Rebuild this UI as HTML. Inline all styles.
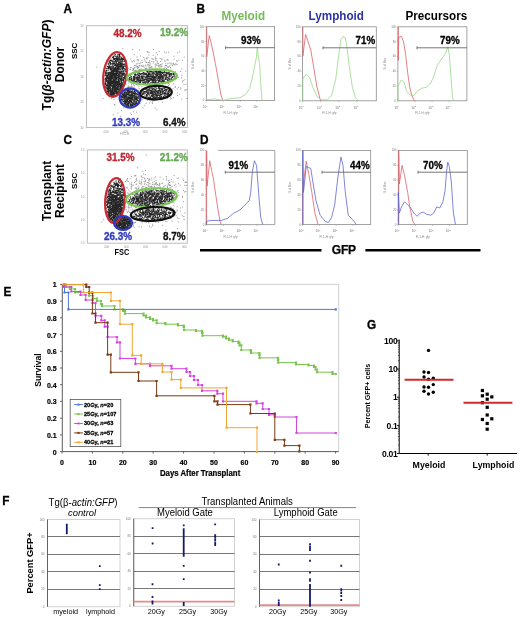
<!DOCTYPE html>
<html><head><meta charset="utf-8"><style>
html,body{margin:0;padding:0;background:#fff;width:520px;height:625px;overflow:hidden}
svg{display:block;filter:blur(0.3px)}
text{font-family:"Liberation Sans",sans-serif}
</style></head><body>
<svg width="520" height="625" viewBox="0 0 520 625">
<text transform="translate(63.6,13.4) scale(1,1.1)" font-size="11.8" font-weight="bold" font-style="normal" fill="#000" text-anchor="start" stroke="#000" stroke-width="0.3" >A</text>
<text transform="translate(196.6,13.2) scale(1,1.1)" font-size="11.8" font-weight="bold" font-style="normal" fill="#000" text-anchor="start" stroke="#000" stroke-width="0.3" >B</text>
<text transform="translate(63.4,144) scale(1,1.1)" font-size="11.8" font-weight="bold" font-style="normal" fill="#000" text-anchor="start" stroke="#000" stroke-width="0.3" >C</text>
<text transform="translate(200,143.6) scale(1,1.1)" font-size="11.8" font-weight="bold" font-style="normal" fill="#000" text-anchor="start" stroke="#000" stroke-width="0.3" >D</text>
<text transform="translate(3.4,296.2) scale(1,1.1)" font-size="11.8" font-weight="bold" font-style="normal" fill="#000" text-anchor="start" stroke="#000" stroke-width="0.3" >E</text>
<text transform="translate(2.3,504.6) scale(1,1.1)" font-size="11.8" font-weight="bold" font-style="normal" fill="#000" text-anchor="start" stroke="#000" stroke-width="0.3" >F</text>
<text transform="translate(367,329.3) scale(1,1.1)" font-size="11.8" font-weight="bold" font-style="normal" fill="#000" text-anchor="start" stroke="#000" stroke-width="0.3" >G</text>
<g>
<text x="0" y="0" transform="translate(50.5,65) rotate(-90)" font-size="12" font-weight="bold" font-style="normal" fill="#000" text-anchor="middle">Tg(<tspan font-style="italic">β-actin:GFP</tspan>)</text>
<text x="0" y="0" transform="translate(64.3,64.5) rotate(-90)" font-size="12" font-weight="bold" font-style="normal" fill="#000" text-anchor="middle">Donor</text>
<text x="0" y="0" transform="translate(50.5,191) rotate(-90)" font-size="12" font-weight="bold" font-style="normal" fill="#000" text-anchor="middle">Transplant</text>
<text x="0" y="0" transform="translate(64.3,191) rotate(-90)" font-size="12" font-weight="bold" font-style="normal" fill="#000" text-anchor="middle">Recipient</text>
</g>
<rect x="86.5" y="25.7" width="101.0" height="101.8" fill="none" stroke="#bdbdbd" stroke-width="1"/>
<text x="83.5" y="26.7" font-size="3" fill="#999" text-anchor="end" font-weight="normal">10</text>
<text x="83.5" y="52.15" font-size="3" fill="#999" text-anchor="end" font-weight="normal">10</text>
<text x="83.5" y="77.6" font-size="3" fill="#999" text-anchor="end" font-weight="normal">10</text>
<text x="83.5" y="103.05" font-size="3" fill="#999" text-anchor="end" font-weight="normal">10</text>
<text x="83.5" y="128.5" font-size="3" fill="#999" text-anchor="end" font-weight="normal">10</text>
<text x="106.1116504854369" y="132.5" font-size="3" fill="#999" text-anchor="middle" font-weight="normal">000</text>
<text x="125.7233009708738" y="132.5" font-size="3" fill="#999" text-anchor="middle" font-weight="normal">000</text>
<text x="145.33495145631068" y="132.5" font-size="3" fill="#999" text-anchor="middle" font-weight="normal">000</text>
<text x="164.9466019417476" y="132.5" font-size="3" fill="#999" text-anchor="middle" font-weight="normal">000</text>
<text x="184.55825242718447" y="132.5" font-size="3" fill="#999" text-anchor="middle" font-weight="normal">000</text>
<path d="M105.9 74.8h1v1h-1zM105.8 73.5h1v1h-1zM116.2 56.0h1v1h-1zM111.5 88.2h1v1h-1zM112.8 58.7h1v1h-1zM109.1 87.4h1v1h-1zM115.9 80.7h1v1h-1zM118.6 56.0h1v1h-1zM107.8 81.3h1v1h-1zM110.6 77.6h1v1h-1zM109.2 76.9h1v1h-1zM121.4 85.4h1v1h-1zM111.8 85.2h1v1h-1zM110.0 82.3h1v1h-1zM105.3 71.5h1v1h-1zM110.5 90.0h1v1h-1zM119.5 90.9h1v1h-1zM109.9 62.1h1v1h-1zM114.2 78.3h1v1h-1zM118.9 75.7h1v1h-1zM113.4 69.9h1v1h-1zM120.4 56.3h1v1h-1zM119.5 59.9h1v1h-1zM112.6 68.3h1v1h-1zM114.4 73.7h1v1h-1zM107.7 66.6h1v1h-1zM123.9 61.0h1v1h-1zM124.2 77.0h1v1h-1zM120.5 64.9h1v1h-1zM121.8 68.1h1v1h-1zM114.8 54.0h1v1h-1zM113.9 62.2h1v1h-1zM119.4 86.0h1v1h-1zM106.6 85.9h1v1h-1zM121.6 61.1h1v1h-1zM111.6 76.1h1v1h-1zM110.5 63.1h1v1h-1zM109.1 77.4h1v1h-1zM112.2 72.3h1v1h-1zM114.8 75.9h1v1h-1zM105.3 70.5h1v1h-1zM114.5 86.8h1v1h-1zM117.8 64.0h1v1h-1zM120.6 75.6h1v1h-1zM117.9 92.8h1v1h-1zM117.3 75.1h1v1h-1zM119.3 73.0h1v1h-1zM124.2 60.0h1v1h-1zM118.5 82.0h1v1h-1zM116.3 67.7h1v1h-1zM109.9 83.4h1v1h-1zM116.5 72.1h1v1h-1zM110.8 79.3h1v1h-1zM108.2 63.4h1v1h-1zM122.2 65.5h1v1h-1zM115.3 83.2h1v1h-1zM116.0 87.7h1v1h-1zM122.8 73.6h1v1h-1zM113.6 92.8h1v1h-1zM107.1 74.6h1v1h-1zM110.6 73.9h1v1h-1zM119.5 77.4h1v1h-1zM111.9 92.9h1v1h-1zM118.4 70.8h1v1h-1zM104.6 83.5h1v1h-1zM119.9 65.7h1v1h-1zM110.9 72.2h1v1h-1zM124.5 77.9h1v1h-1zM112.7 73.1h1v1h-1zM108.8 73.8h1v1h-1zM114.1 85.3h1v1h-1zM117.2 91.3h1v1h-1zM117.6 83.3h1v1h-1zM115.5 80.1h1v1h-1zM118.8 74.6h1v1h-1zM119.7 85.9h1v1h-1zM114.8 81.4h1v1h-1zM121.4 64.6h1v1h-1zM108.8 83.6h1v1h-1zM115.6 69.5h1v1h-1zM117.2 86.4h1v1h-1zM120.5 56.9h1v1h-1zM108.4 84.1h1v1h-1zM119.3 53.9h1v1h-1zM114.5 73.0h1v1h-1zM115.3 64.5h1v1h-1zM117.6 54.2h1v1h-1zM115.1 72.4h1v1h-1zM108.5 66.8h1v1h-1zM118.2 89.7h1v1h-1zM111.4 68.4h1v1h-1zM112.5 71.0h1v1h-1zM114.7 84.0h1v1h-1zM119.3 65.8h1v1h-1zM115.4 67.8h1v1h-1zM109.1 80.4h1v1h-1zM116.8 70.2h1v1h-1zM125.6 73.8h1v1h-1zM120.7 71.5h1v1h-1zM116.2 69.3h1v1h-1zM110.4 69.5h1v1h-1zM112.1 57.1h1v1h-1zM113.8 76.6h1v1h-1zM119.2 66.6h1v1h-1zM115.0 78.1h1v1h-1zM108.6 78.0h1v1h-1zM115.7 91.3h1v1h-1zM120.4 66.9h1v1h-1zM113.9 81.9h1v1h-1zM109.2 87.6h1v1h-1zM107.6 84.8h1v1h-1zM124.4 75.6h1v1h-1zM125.0 68.5h1v1h-1zM113.4 67.0h1v1h-1zM109.2 93.5h1v1h-1zM109.8 92.0h1v1h-1zM109.8 91.0h1v1h-1zM112.5 64.4h1v1h-1zM125.1 71.0h1v1h-1zM112.5 66.3h1v1h-1zM107.2 84.4h1v1h-1zM112.6 56.1h1v1h-1zM113.7 83.4h1v1h-1zM110.3 76.7h1v1h-1zM121.8 62.4h1v1h-1zM117.7 67.3h1v1h-1zM125.2 76.3h1v1h-1zM114.2 93.1h1v1h-1zM122.9 73.4h1v1h-1zM109.9 68.1h1v1h-1zM119.9 62.3h1v1h-1zM110.3 81.6h1v1h-1zM118.6 56.0h1v1h-1zM112.5 76.3h1v1h-1zM119.6 71.2h1v1h-1zM108.3 93.2h1v1h-1zM117.2 68.6h1v1h-1zM110.8 90.5h1v1h-1zM105.7 78.5h1v1h-1zM117.2 59.4h1v1h-1zM112.9 92.7h1v1h-1zM125.0 75.2h1v1h-1zM115.6 88.7h1v1h-1zM120.2 89.5h1v1h-1zM114.8 58.1h1v1h-1zM117.3 92.1h1v1h-1zM114.8 85.6h1v1h-1zM116.8 76.9h1v1h-1zM112.5 81.0h1v1h-1zM121.1 73.5h1v1h-1zM116.8 57.7h1v1h-1zM109.8 93.3h1v1h-1zM117.9 88.6h1v1h-1zM108.4 87.3h1v1h-1zM112.5 92.4h1v1h-1zM110.0 74.1h1v1h-1zM116.4 91.9h1v1h-1zM115.8 81.7h1v1h-1zM107.0 78.4h1v1h-1zM112.9 91.4h1v1h-1zM108.4 80.2h1v1h-1zM107.7 67.3h1v1h-1zM116.2 78.5h1v1h-1zM117.7 73.8h1v1h-1zM114.4 64.2h1v1h-1zM117.6 77.6h1v1h-1zM113.4 93.4h1v1h-1zM108.1 78.2h1v1h-1zM116.1 88.3h1v1h-1zM112.2 65.4h1v1h-1zM115.7 62.7h1v1h-1zM120.9 84.5h1v1h-1zM109.1 90.2h1v1h-1zM117.6 66.5h1v1h-1zM113.9 58.8h1v1h-1zM117.7 85.2h1v1h-1zM108.6 60.8h1v1h-1zM119.0 65.8h1v1h-1zM105.1 84.3h1v1h-1zM111.7 70.7h1v1h-1zM113.0 89.5h1v1h-1zM109.8 88.2h1v1h-1zM125.5 66.6h1v1h-1zM119.2 75.0h1v1h-1zM117.4 87.3h1v1h-1zM112.6 69.9h1v1h-1zM109.7 72.1h1v1h-1zM112.9 66.7h1v1h-1zM124.6 64.5h1v1h-1zM111.3 74.9h1v1h-1zM119.7 85.3h1v1h-1zM107.9 79.5h1v1h-1zM109.6 68.9h1v1h-1zM114.2 80.1h1v1h-1zM106.9 77.9h1v1h-1zM117.6 92.6h1v1h-1zM115.0 85.3h1v1h-1zM117.9 81.1h1v1h-1zM110.3 79.4h1v1h-1zM113.3 79.5h1v1h-1zM116.1 93.3h1v1h-1zM116.5 86.8h1v1h-1zM111.9 94.7h1v1h-1zM124.0 76.6h1v1h-1zM107.9 81.5h1v1h-1zM112.2 82.7h1v1h-1zM124.0 76.9h1v1h-1zM121.9 70.8h1v1h-1zM118.0 73.6h1v1h-1zM121.8 74.1h1v1h-1zM109.9 89.0h1v1h-1zM120.9 65.8h1v1h-1zM111.0 73.1h1v1h-1zM116.9 81.7h1v1h-1zM121.7 87.8h1v1h-1zM121.1 81.1h1v1h-1zM119.7 64.3h1v1h-1zM115.6 86.8h1v1h-1zM107.6 81.8h1v1h-1zM117.6 64.6h1v1h-1zM107.5 73.2h1v1h-1zM114.0 77.1h1v1h-1zM117.0 80.7h1v1h-1zM112.4 73.0h1v1h-1zM108.7 87.9h1v1h-1zM112.6 66.2h1v1h-1zM122.7 77.6h1v1h-1zM116.5 83.2h1v1h-1zM112.6 85.6h1v1h-1zM117.7 64.4h1v1h-1zM114.5 66.5h1v1h-1zM115.4 93.4h1v1h-1zM119.2 55.1h1v1h-1zM115.0 70.7h1v1h-1zM119.7 62.7h1v1h-1zM109.7 83.7h1v1h-1zM122.6 75.0h1v1h-1zM111.8 77.3h1v1h-1zM111.3 80.3h1v1h-1zM117.6 65.9h1v1h-1zM118.2 66.6h1v1h-1zM119.3 91.9h1v1h-1zM116.2 82.4h1v1h-1zM121.3 73.6h1v1h-1zM119.7 87.0h1v1h-1zM115.6 73.6h1v1h-1zM110.4 60.5h1v1h-1zM112.9 74.9h1v1h-1zM111.7 74.9h1v1h-1zM108.4 85.7h1v1h-1zM110.7 60.0h1v1h-1zM105.4 77.4h1v1h-1zM109.7 62.4h1v1h-1zM121.3 62.2h1v1h-1zM121.3 81.0h1v1h-1zM109.7 87.8h1v1h-1zM119.8 59.7h1v1h-1zM110.7 70.1h1v1h-1zM108.2 88.3h1v1h-1zM108.1 73.1h1v1h-1zM122.2 82.8h1v1h-1zM115.8 65.3h1v1h-1zM104.4 82.9h1v1h-1zM122.3 68.6h1v1h-1zM121.2 62.2h1v1h-1zM117.5 88.4h1v1h-1zM112.3 90.3h1v1h-1zM106.5 87.7h1v1h-1zM119.4 91.0h1v1h-1zM115.4 76.2h1v1h-1zM107.9 87.3h1v1h-1zM105.4 81.8h1v1h-1zM114.3 83.2h1v1h-1zM121.4 84.8h1v1h-1zM121.7 68.4h1v1h-1zM119.5 90.2h1v1h-1zM112.0 75.4h1v1h-1zM113.6 74.5h1v1h-1zM110.9 93.5h1v1h-1zM110.1 80.2h1v1h-1zM110.4 72.4h1v1h-1zM112.1 63.0h1v1h-1zM113.9 89.1h1v1h-1zM115.6 81.1h1v1h-1zM119.6 73.4h1v1h-1zM117.5 73.5h1v1h-1zM112.1 77.8h1v1h-1zM109.8 89.5h1v1h-1zM116.2 74.3h1v1h-1zM122.7 60.8h1v1h-1zM123.1 73.0h1v1h-1zM110.9 81.5h1v1h-1zM120.0 78.9h1v1h-1zM112.8 72.1h1v1h-1zM120.9 66.3h1v1h-1zM116.8 69.7h1v1h-1zM115.7 60.9h1v1h-1zM111.0 91.8h1v1h-1zM114.3 82.4h1v1h-1zM111.5 78.1h1v1h-1zM121.7 76.0h1v1h-1zM115.4 59.6h1v1h-1zM115.2 74.7h1v1h-1zM109.3 80.1h1v1h-1zM115.4 58.1h1v1h-1zM122.8 58.5h1v1h-1zM115.5 87.9h1v1h-1zM110.0 83.2h1v1h-1zM109.5 63.6h1v1h-1zM122.9 79.2h1v1h-1zM114.6 69.5h1v1h-1zM113.0 79.4h1v1h-1zM112.9 86.9h1v1h-1zM109.1 67.5h1v1h-1zM113.2 70.0h1v1h-1zM105.2 87.3h1v1h-1zM111.5 60.6h1v1h-1zM119.4 68.2h1v1h-1zM109.7 93.7h1v1h-1zM124.3 76.0h1v1h-1zM106.8 89.5h1v1h-1zM115.0 76.4h1v1h-1zM117.5 66.6h1v1h-1zM106.5 76.0h1v1h-1zM116.2 65.9h1v1h-1zM112.7 62.3h1v1h-1zM120.8 65.9h1v1h-1zM117.8 82.0h1v1h-1zM112.2 81.0h1v1h-1zM107.7 88.5h1v1h-1zM119.6 61.3h1v1h-1zM115.2 83.9h1v1h-1zM112.5 82.2h1v1h-1zM122.0 66.2h1v1h-1zM121.7 80.1h1v1h-1zM105.7 84.6h1v1h-1zM117.4 88.1h1v1h-1zM117.4 64.0h1v1h-1zM112.6 70.3h1v1h-1zM120.1 63.8h1v1h-1zM107.2 76.1h1v1h-1zM115.2 68.6h1v1h-1zM119.7 64.4h1v1h-1zM118.7 89.8h1v1h-1zM110.3 88.2h1v1h-1zM105.1 81.3h1v1h-1zM111.0 94.3h1v1h-1zM105.8 70.6h1v1h-1zM115.8 71.2h1v1h-1zM111.1 71.5h1v1h-1zM113.7 61.1h1v1h-1zM115.6 88.1h1v1h-1zM118.0 79.7h1v1h-1zM113.8 94.0h1v1h-1zM119.3 66.4h1v1h-1zM107.5 81.2h1v1h-1zM105.4 80.1h1v1h-1zM117.2 71.2h1v1h-1zM117.0 70.3h1v1h-1zM109.9 73.3h1v1h-1zM108.9 76.8h1v1h-1zM114.7 78.3h1v1h-1zM114.7 86.4h1v1h-1zM110.3 68.3h1v1h-1zM118.7 62.6h1v1h-1zM115.3 90.7h1v1h-1zM106.6 84.0h1v1h-1zM123.0 85.3h1v1h-1zM120.1 64.6h1v1h-1zM111.9 88.7h1v1h-1zM105.1 86.2h1v1h-1zM121.0 88.4h1v1h-1zM112.9 73.2h1v1h-1zM112.3 72.7h1v1h-1zM113.5 67.9h1v1h-1zM117.6 67.7h1v1h-1zM111.2 95.1h1v1h-1zM106.6 80.7h1v1h-1zM110.3 73.8h1v1h-1zM111.6 76.2h1v1h-1zM117.6 66.3h1v1h-1zM113.8 95.5h1v1h-1zM111.8 63.5h1v1h-1zM109.7 69.4h1v1h-1zM123.8 68.8h1v1h-1zM115.4 92.9h1v1h-1zM109.9 84.6h1v1h-1zM112.0 81.8h1v1h-1zM106.3 69.6h1v1h-1zM118.6 67.8h1v1h-1zM113.4 95.4h1v1h-1zM116.0 84.4h1v1h-1zM106.0 84.8h1v1h-1zM116.5 77.1h1v1h-1zM125.2 73.9h1v1h-1zM112.8 93.3h1v1h-1zM107.8 84.6h1v1h-1zM114.3 59.2h1v1h-1zM117.4 93.1h1v1h-1zM114.2 80.3h1v1h-1zM121.5 73.7h1v1h-1zM110.8 89.7h1v1h-1zM123.5 81.2h1v1h-1zM108.7 76.6h1v1h-1zM118.2 79.2h1v1h-1zM114.4 91.0h1v1h-1zM122.3 58.1h1v1h-1zM105.4 73.4h1v1h-1zM115.9 57.5h1v1h-1zM107.2 81.5h1v1h-1zM119.9 75.2h1v1h-1zM121.6 85.5h1v1h-1zM109.7 63.5h1v1h-1zM117.0 68.8h1v1h-1zM118.0 81.6h1v1h-1zM121.5 84.9h1v1h-1zM113.3 69.3h1v1h-1zM114.0 63.1h1v1h-1zM118.5 92.7h1v1h-1zM116.2 85.2h1v1h-1zM116.3 82.4h1v1h-1zM117.4 76.7h1v1h-1zM113.1 83.9h1v1h-1zM116.2 62.6h1v1h-1zM113.7 87.9h1v1h-1zM106.3 87.2h1v1h-1zM121.2 76.3h1v1h-1zM119.4 72.9h1v1h-1zM119.7 86.4h1v1h-1zM110.3 68.2h1v1h-1zM119.1 55.9h1v1h-1zM120.9 65.5h1v1h-1zM107.6 88.0h1v1h-1zM115.7 90.2h1v1h-1zM111.7 86.7h1v1h-1zM111.0 83.2h1v1h-1zM111.4 81.2h1v1h-1zM117.2 73.2h1v1h-1zM113.3 88.4h1v1h-1zM120.6 71.0h1v1h-1zM119.9 78.0h1v1h-1zM117.5 84.0h1v1h-1zM119.4 91.3h1v1h-1zM111.4 74.8h1v1h-1zM111.2 65.8h1v1h-1zM111.7 61.1h1v1h-1zM116.5 69.2h1v1h-1zM114.3 78.0h1v1h-1zM116.2 70.7h1v1h-1zM111.6 90.4h1v1h-1zM112.8 80.2h1v1h-1zM114.5 87.5h1v1h-1zM117.6 82.5h1v1h-1zM107.0 88.1h1v1h-1zM112.3 81.0h1v1h-1zM122.3 83.6h1v1h-1zM104.6 81.5h1v1h-1zM123.2 66.7h1v1h-1zM109.3 88.5h1v1h-1zM112.5 81.9h1v1h-1zM124.0 76.9h1v1h-1zM110.3 84.7h1v1h-1zM112.5 90.0h1v1h-1zM118.3 57.1h1v1h-1zM108.3 84.1h1v1h-1zM122.2 66.7h1v1h-1zM120.4 79.4h1v1h-1zM105.2 73.7h1v1h-1zM116.7 59.5h1v1h-1zM114.7 76.0h1v1h-1zM115.9 68.9h1v1h-1zM114.8 61.6h1v1h-1zM115.3 82.8h1v1h-1zM108.3 90.5h1v1h-1zM119.6 84.3h1v1h-1zM111.7 92.3h1v1h-1zM109.3 60.6h1v1h-1zM117.1 85.5h1v1h-1zM120.7 79.2h1v1h-1zM113.0 93.6h1v1h-1zM107.8 88.2h1v1h-1zM109.0 71.8h1v1h-1zM122.3 71.5h1v1h-1zM116.2 89.3h1v1h-1zM104.8 72.6h1v1h-1zM117.4 73.0h1v1h-1zM118.7 66.0h1v1h-1zM109.0 82.4h1v1h-1zM116.5 88.0h1v1h-1zM114.9 91.6h1v1h-1zM112.3 93.9h1v1h-1zM110.7 67.5h1v1h-1zM113.9 90.1h1v1h-1zM111.1 93.8h1v1h-1zM117.6 80.6h1v1h-1zM118.5 77.5h1v1h-1zM116.4 78.0h1v1h-1zM111.3 84.7h1v1h-1zM108.9 85.0h1v1h-1zM120.3 65.6h1v1h-1zM109.8 93.9h1v1h-1zM111.9 88.7h1v1h-1zM121.9 67.4h1v1h-1zM117.0 85.8h1v1h-1zM109.6 91.9h1v1h-1zM109.8 79.4h1v1h-1zM121.4 78.3h1v1h-1zM121.0 68.5h1v1h-1zM122.3 69.0h1v1h-1zM116.1 92.1h1v1h-1zM117.2 70.6h1v1h-1zM115.8 91.1h1v1h-1zM118.0 83.8h1v1h-1zM123.1 65.8h1v1h-1zM110.9 82.6h1v1h-1zM123.1 68.0h1v1h-1zM119.8 59.5h1v1h-1zM108.5 79.2h1v1h-1zM111.1 76.9h1v1h-1zM121.2 77.0h1v1h-1zM115.6 71.3h1v1h-1zM116.4 84.4h1v1h-1zM112.9 74.7h1v1h-1zM106.2 72.3h1v1h-1zM112.9 82.1h1v1h-1zM115.0 67.6h1v1h-1zM114.3 65.0h1v1h-1zM119.8 75.9h1v1h-1zM107.5 82.3h1v1h-1zM118.3 84.5h1v1h-1zM111.0 67.7h1v1h-1zM116.4 57.4h1v1h-1zM106.1 85.3h1v1h-1zM116.3 75.0h1v1h-1zM108.5 77.3h1v1h-1zM121.2 73.8h1v1h-1zM122.9 77.1h1v1h-1zM113.8 80.4h1v1h-1zM107.2 91.0h1v1h-1zM106.2 77.2h1v1h-1zM116.6 83.7h1v1h-1zM104.7 82.8h1v1h-1zM119.2 73.9h1v1h-1zM122.9 79.9h1v1h-1zM115.4 92.8h1v1h-1zM107.9 74.0h1v1h-1zM114.2 88.3h1v1h-1zM117.2 65.7h1v1h-1zM121.7 73.6h1v1h-1zM116.8 68.4h1v1h-1zM107.5 67.7h1v1h-1zM115.7 72.7h1v1h-1zM120.7 84.7h1v1h-1zM116.7 89.9h1v1h-1zM112.6 83.1h1v1h-1zM111.8 67.5h1v1h-1zM121.6 65.6h1v1h-1zM110.4 79.4h1v1h-1zM113.0 94.4h1v1h-1zM114.7 81.0h1v1h-1zM108.1 91.2h1v1h-1zM111.2 63.4h1v1h-1zM120.7 62.7h1v1h-1zM113.5 55.4h1v1h-1zM108.7 85.3h1v1h-1zM109.7 88.2h1v1h-1zM120.3 82.7h1v1h-1zM117.8 78.7h1v1h-1zM110.5 58.4h1v1h-1zM118.1 62.9h1v1h-1zM110.8 83.6h1v1h-1zM117.8 58.0h1v1h-1zM122.2 63.5h1v1h-1zM109.8 68.7h1v1h-1zM121.8 57.8h1v1h-1zM116.5 60.6h1v1h-1zM116.0 58.1h1v1h-1zM118.7 56.4h1v1h-1zM117.1 63.5h1v1h-1zM124.3 63.3h1v1h-1zM116.5 60.8h1v1h-1zM118.1 75.6h1v1h-1zM112.9 84.7h1v1h-1zM115.9 59.0h1v1h-1zM111.9 81.8h1v1h-1zM107.1 87.9h1v1h-1zM111.9 70.0h1v1h-1zM121.6 59.7h1v1h-1zM107.6 77.2h1v1h-1zM107.5 92.6h1v1h-1zM117.6 58.2h1v1h-1zM122.8 78.7h1v1h-1zM120.5 64.7h1v1h-1zM118.5 81.4h1v1h-1zM108.9 61.6h1v1h-1zM107.1 84.9h1v1h-1zM118.7 61.9h1v1h-1zM114.4 84.2h1v1h-1zM107.0 81.9h1v1h-1zM111.4 75.0h1v1h-1zM113.4 73.4h1v1h-1zM116.4 83.2h1v1h-1zM119.7 85.1h1v1h-1zM118.9 55.6h1v1h-1zM106.0 77.0h1v1h-1zM118.5 59.3h1v1h-1zM114.3 84.2h1v1h-1zM121.3 63.3h1v1h-1zM116.8 83.1h1v1h-1zM119.8 64.8h1v1h-1zM122.3 67.3h1v1h-1zM123.1 74.0h1v1h-1zM110.9 83.3h1v1h-1zM123.1 58.5h1v1h-1zM112.7 73.5h1v1h-1zM120.2 63.1h1v1h-1zM123.3 80.8h1v1h-1zM113.3 80.2h1v1h-1zM113.6 79.5h1v1h-1zM113.7 88.8h1v1h-1zM106.6 84.8h1v1h-1zM113.9 58.0h1v1h-1zM118.1 85.1h1v1h-1zM113.2 63.3h1v1h-1zM111.4 95.3h1v1h-1zM123.4 67.9h1v1h-1zM121.0 68.5h1v1h-1zM110.9 68.1h1v1h-1zM112.7 68.9h1v1h-1zM106.9 91.1h1v1h-1zM118.4 88.6h1v1h-1zM107.1 75.1h1v1h-1zM116.3 72.8h1v1h-1zM110.0 66.9h1v1h-1zM107.7 66.0h1v1h-1zM122.8 63.7h1v1h-1zM104.6 83.5h1v1h-1zM121.7 76.3h1v1h-1zM109.7 67.8h1v1h-1zM123.4 84.2h1v1h-1zM119.9 87.7h1v1h-1zM108.2 75.6h1v1h-1zM109.6 92.1h1v1h-1zM112.6 93.0h1v1h-1zM112.8 78.6h1v1h-1zM110.8 70.5h1v1h-1zM116.8 57.0h1v1h-1zM116.3 56.7h1v1h-1zM120.1 82.9h1v1h-1zM110.0 85.4h1v1h-1zM118.6 66.5h1v1h-1zM108.5 72.7h1v1h-1zM109.6 59.4h1v1h-1zM113.9 68.0h1v1h-1zM110.8 82.2h1v1h-1zM114.9 60.7h1v1h-1zM121.5 88.5h1v1h-1zM111.4 73.1h1v1h-1zM109.8 90.9h1v1h-1zM115.5 67.3h1v1h-1zM115.6 87.0h1v1h-1zM113.0 69.3h1v1h-1zM123.4 77.4h1v1h-1zM109.6 87.7h1v1h-1zM123.1 70.7h1v1h-1zM120.0 58.4h1v1h-1zM114.3 69.7h1v1h-1zM110.2 59.9h1v1h-1zM110.5 84.2h1v1h-1zM114.5 82.3h1v1h-1zM112.0 86.7h1v1h-1zM111.7 90.6h1v1h-1zM118.4 59.5h1v1h-1zM111.4 82.3h1v1h-1zM119.6 87.6h1v1h-1zM112.2 81.5h1v1h-1zM118.5 67.0h1v1h-1zM109.4 78.5h1v1h-1zM122.5 75.1h1v1h-1zM123.0 79.4h1v1h-1zM112.4 84.0h1v1h-1zM118.9 81.5h1v1h-1zM113.5 83.9h1v1h-1zM119.5 65.5h1v1h-1zM111.9 89.9h1v1h-1zM124.5 74.7h1v1h-1zM114.4 84.9h1v1h-1zM118.6 69.6h1v1h-1zM112.7 86.6h1v1h-1zM115.0 60.1h1v1h-1zM114.4 74.1h1v1h-1zM112.3 76.2h1v1h-1zM111.5 78.6h1v1h-1zM104.5 75.3h1v1h-1zM110.7 76.9h1v1h-1zM107.9 90.0h1v1h-1zM108.5 93.8h1v1h-1zM121.5 65.4h1v1h-1zM116.6 81.4h1v1h-1zM119.4 77.3h1v1h-1zM124.8 65.2h1v1h-1zM116.2 77.3h1v1h-1zM118.8 54.0h1v1h-1zM107.7 87.5h1v1h-1zM106.7 72.3h1v1h-1zM110.0 85.3h1v1h-1zM116.5 89.2h1v1h-1zM107.3 66.1h1v1h-1zM118.6 71.7h1v1h-1zM112.6 93.1h1v1h-1zM109.0 65.2h1v1h-1zM122.3 84.5h1v1h-1zM105.8 73.5h1v1h-1zM112.6 81.2h1v1h-1zM109.8 69.4h1v1h-1zM115.6 59.6h1v1h-1zM107.6 80.8h1v1h-1zM121.7 74.3h1v1h-1zM110.7 82.4h1v1h-1zM123.9 78.6h1v1h-1zM115.5 73.8h1v1h-1zM112.3 74.6h1v1h-1zM108.3 74.9h1v1h-1zM116.0 69.2h1v1h-1zM113.3 84.3h1v1h-1zM114.9 68.3h1v1h-1zM117.2 82.5h1v1h-1zM120.4 65.4h1v1h-1zM115.5 68.9h1v1h-1zM114.2 71.0h1v1h-1zM123.6 72.5h1v1h-1zM121.4 70.0h1v1h-1zM123.7 73.1h1v1h-1zM118.4 64.4h1v1h-1zM113.4 69.0h1v1h-1zM110.8 85.2h1v1h-1zM118.0 80.3h1v1h-1zM118.5 66.0h1v1h-1zM108.9 77.4h1v1h-1zM117.4 79.3h1v1h-1zM107.5 88.9h1v1h-1zM117.5 69.5h1v1h-1zM119.3 88.6h1v1h-1zM106.4 68.1h1v1h-1zM110.8 95.3h1v1h-1zM115.9 62.1h1v1h-1zM112.7 71.2h1v1h-1zM109.4 82.5h1v1h-1zM115.3 74.3h1v1h-1zM117.6 65.5h1v1h-1zM125.2 70.3h1v1h-1zM118.1 76.3h1v1h-1zM109.4 88.7h1v1h-1zM110.5 93.7h1v1h-1zM118.7 72.7h1v1h-1zM107.7 86.1h1v1h-1zM115.1 73.3h1v1h-1zM109.1 80.0h1v1h-1zM110.8 76.1h1v1h-1zM114.0 79.4h1v1h-1zM110.0 81.5h1v1h-1zM115.8 86.8h1v1h-1zM114.9 85.5h1v1h-1zM108.1 88.5h1v1h-1zM121.7 76.3h1v1h-1zM106.4 90.6h1v1h-1zM119.9 58.7h1v1h-1zM121.5 63.6h1v1h-1zM108.6 82.1h1v1h-1zM112.2 74.5h1v1h-1zM117.8 91.2h1v1h-1zM118.8 71.0h1v1h-1zM107.4 83.1h1v1h-1zM109.5 79.6h1v1h-1zM112.0 77.5h1v1h-1zM115.5 79.0h1v1h-1zM105.6 85.2h1v1h-1zM114.8 59.2h1v1h-1zM116.1 72.0h1v1h-1zM116.2 76.3h1v1h-1zM112.5 73.3h1v1h-1zM116.8 83.1h1v1h-1zM114.7 84.6h1v1h-1zM107.8 62.8h1v1h-1zM116.3 63.8h1v1h-1zM121.9 58.7h1v1h-1zM110.6 92.6h1v1h-1zM115.6 72.0h1v1h-1zM118.6 89.4h1v1h-1zM112.1 81.1h1v1h-1zM113.7 77.6h1v1h-1zM114.0 90.2h1v1h-1zM115.7 89.5h1v1h-1zM117.3 81.7h1v1h-1zM108.8 86.3h1v1h-1zM114.1 87.8h1v1h-1zM115.5 70.9h1v1h-1zM113.0 71.4h1v1h-1zM116.1 89.1h1v1h-1zM121.6 65.8h1v1h-1zM109.2 76.3h1v1h-1zM105.7 67.8h1v1h-1zM117.3 53.8h1v1h-1zM114.8 63.7h1v1h-1zM110.4 73.7h1v1h-1zM116.5 62.9h1v1h-1zM120.9 80.2h1v1h-1zM121.1 77.9h1v1h-1zM115.6 66.4h1v1h-1zM120.5 61.0h1v1h-1zM118.1 62.4h1v1h-1zM109.4 88.9h1v1h-1zM110.8 69.3h1v1h-1zM114.4 69.2h1v1h-1zM123.3 70.2h1v1h-1zM116.6 63.7h1v1h-1zM114.2 88.0h1v1h-1zM117.2 64.6h1v1h-1zM107.5 73.1h1v1h-1zM112.1 86.8h1v1h-1zM110.5 93.6h1v1h-1zM111.9 80.4h1v1h-1zM109.8 66.6h1v1h-1zM116.3 78.2h1v1h-1zM105.7 75.0h1v1h-1zM115.4 70.4h1v1h-1zM109.3 77.0h1v1h-1zM109.2 85.0h1v1h-1zM113.9 92.3h1v1h-1zM109.0 90.0h1v1h-1zM116.3 87.7h1v1h-1zM115.0 79.1h1v1h-1zM116.0 69.7h1v1h-1zM112.2 93.1h1v1h-1zM113.5 59.3h1v1h-1zM109.7 82.5h1v1h-1zM123.1 63.9h1v1h-1zM120.7 89.5h1v1h-1zM121.9 78.4h1v1h-1zM109.6 75.6h1v1h-1zM109.6 90.2h1v1h-1zM104.6 84.0h1v1h-1zM116.2 90.9h1v1h-1zM107.9 68.5h1v1h-1zM109.0 84.0h1v1h-1zM118.0 74.1h1v1h-1zM111.4 63.5h1v1h-1zM113.4 85.9h1v1h-1zM110.9 74.6h1v1h-1zM111.8 94.2h1v1h-1zM110.3 95.1h1v1h-1zM120.3 89.1h1v1h-1zM114.9 70.6h1v1h-1zM119.9 85.2h1v1h-1zM112.9 70.5h1v1h-1zM118.6 69.2h1v1h-1zM111.0 94.9h1v1h-1zM112.4 70.6h1v1h-1zM115.0 63.6h1v1h-1zM118.1 62.2h1v1h-1zM113.6 75.9h1v1h-1zM117.4 83.0h1v1h-1zM119.9 63.2h1v1h-1zM118.9 65.5h1v1h-1zM111.3 60.3h1v1h-1zM110.0 87.1h1v1h-1zM118.4 76.4h1v1h-1zM107.7 66.3h1v1h-1zM120.7 66.7h1v1h-1zM110.3 85.2h1v1h-1zM121.7 67.4h1v1h-1zM109.3 72.5h1v1h-1zM115.7 84.5h1v1h-1zM112.0 67.3h1v1h-1zM110.5 83.8h1v1h-1zM106.8 83.4h1v1h-1zM122.3 60.2h1v1h-1zM109.7 74.4h1v1h-1zM112.5 66.4h1v1h-1zM111.2 91.3h1v1h-1zM123.1 67.3h1v1h-1zM124.7 66.0h1v1h-1zM107.8 67.7h1v1h-1zM119.4 84.8h1v1h-1zM116.4 73.6h1v1h-1zM110.6 94.8h1v1h-1zM112.6 57.6h1v1h-1zM111.8 92.8h1v1h-1zM110.1 93.7h1v1h-1zM110.1 81.8h1v1h-1zM112.5 87.7h1v1h-1zM125.2 66.0h1v1h-1zM121.7 62.8h1v1h-1zM120.7 85.4h1v1h-1zM119.1 74.8h1v1h-1zM114.7 64.3h1v1h-1zM113.3 80.7h1v1h-1zM118.2 86.2h1v1h-1zM115.3 86.5h1v1h-1zM117.2 81.6h1v1h-1zM113.3 85.4h1v1h-1zM107.7 70.3h1v1h-1zM113.2 76.9h1v1h-1zM113.2 71.1h1v1h-1zM113.1 72.0h1v1h-1zM113.8 63.0h1v1h-1zM110.8 72.4h1v1h-1zM123.5 64.5h1v1h-1zM117.3 87.7h1v1h-1zM119.7 73.4h1v1h-1zM104.5 83.1h1v1h-1zM120.4 82.5h1v1h-1zM122.1 59.1h1v1h-1zM111.3 77.1h1v1h-1zM111.9 87.7h1v1h-1zM118.8 68.2h1v1h-1zM106.8 76.0h1v1h-1zM108.6 85.9h1v1h-1zM109.9 60.4h1v1h-1zM110.1 66.5h1v1h-1zM121.0 71.2h1v1h-1zM110.9 92.2h1v1h-1zM113.9 64.4h1v1h-1zM114.0 75.5h1v1h-1zM112.9 63.3h1v1h-1zM120.5 58.5h1v1h-1zM121.2 79.1h1v1h-1zM121.2 68.5h1v1h-1zM113.2 56.9h1v1h-1zM116.9 82.7h1v1h-1zM104.8 78.0h1v1h-1zM118.2 75.4h1v1h-1zM123.4 74.3h1v1h-1zM121.2 83.6h1v1h-1zM117.1 87.6h1v1h-1zM106.9 80.3h1v1h-1zM118.8 58.4h1v1h-1zM111.9 70.0h1v1h-1zM118.9 91.6h1v1h-1zM113.3 67.5h1v1h-1zM117.8 91.5h1v1h-1zM120.1 77.6h1v1h-1zM113.4 56.2h1v1h-1zM116.4 70.8h1v1h-1zM116.4 93.4h1v1h-1zM121.9 86.2h1v1h-1zM119.8 83.0h1v1h-1zM112.9 94.2h1v1h-1zM117.5 88.9h1v1h-1zM105.8 76.2h1v1h-1zM110.3 71.6h1v1h-1zM116.6 72.3h1v1h-1zM108.1 66.8h1v1h-1zM109.8 81.3h1v1h-1zM117.7 84.2h1v1h-1zM115.5 65.3h1v1h-1zM113.6 79.3h1v1h-1zM111.3 78.2h1v1h-1zM112.6 65.7h1v1h-1zM113.0 94.1h1v1h-1zM109.7 76.4h1v1h-1zM104.9 81.6h1v1h-1zM123.7 77.1h1v1h-1zM116.5 89.6h1v1h-1zM114.1 89.5h1v1h-1zM115.3 77.8h1v1h-1zM124.1 73.2h1v1h-1zM112.6 78.1h1v1h-1zM119.7 79.5h1v1h-1zM105.4 70.2h1v1h-1zM114.0 95.2h1v1h-1zM105.0 81.5h1v1h-1zM109.6 86.6h1v1h-1zM106.0 78.8h1v1h-1zM119.1 82.5h1v1h-1zM117.7 71.6h1v1h-1zM110.1 92.9h1v1h-1zM116.0 90.6h1v1h-1zM110.5 93.8h1v1h-1zM117.2 76.6h1v1h-1zM115.4 88.0h1v1h-1zM118.7 83.7h1v1h-1zM117.8 80.6h1v1h-1zM119.3 87.8h1v1h-1zM107.3 88.9h1v1h-1zM121.8 63.6h1v1h-1zM106.2 70.4h1v1h-1zM113.8 85.9h1v1h-1zM111.7 84.7h1v1h-1zM119.5 78.3h1v1h-1zM118.9 56.7h1v1h-1zM113.3 57.9h1v1h-1zM118.1 85.0h1v1h-1zM114.2 64.4h1v1h-1zM112.2 91.9h1v1h-1zM108.3 80.4h1v1h-1zM105.1 72.8h1v1h-1zM110.7 68.8h1v1h-1zM110.7 66.3h1v1h-1zM113.1 66.6h1v1h-1zM120.6 85.6h1v1h-1zM123.6 73.8h1v1h-1zM117.8 80.5h1v1h-1zM115.0 55.8h1v1h-1zM109.1 67.0h1v1h-1zM109.9 92.7h1v1h-1zM115.5 82.1h1v1h-1zM117.1 80.8h1v1h-1zM120.8 86.3h1v1h-1zM117.7 60.5h1v1h-1zM118.5 54.4h1v1h-1zM115.8 79.0h1v1h-1zM113.3 70.9h1v1h-1zM107.9 82.6h1v1h-1zM112.3 93.2h1v1h-1zM116.8 66.4h1v1h-1zM117.2 56.2h1v1h-1zM114.7 67.9h1v1h-1zM116.3 69.8h1v1h-1zM111.3 67.5h1v1h-1zM109.7 68.1h1v1h-1zM109.8 94.0h1v1h-1zM115.0 88.8h1v1h-1zM115.2 78.1h1v1h-1zM108.0 91.7h1v1h-1zM108.0 90.6h1v1h-1zM117.7 87.6h1v1h-1zM112.1 91.1h1v1h-1zM107.9 72.6h1v1h-1zM109.6 62.5h1v1h-1zM114.8 78.1h1v1h-1zM113.0 72.0h1v1h-1zM117.6 92.5h1v1h-1zM113.7 86.7h1v1h-1zM124.5 64.0h1v1h-1zM109.9 94.3h1v1h-1zM115.1 76.2h1v1h-1zM117.0 72.4h1v1h-1zM120.7 83.6h1v1h-1zM108.8 61.3h1v1h-1zM107.9 89.4h1v1h-1zM117.7 58.1h1v1h-1zM120.7 57.0h1v1h-1zM108.0 86.4h1v1h-1zM112.7 71.3h1v1h-1zM107.9 77.1h1v1h-1zM113.2 83.5h1v1h-1zM115.9 68.3h1v1h-1zM105.3 78.9h1v1h-1zM121.3 83.2h1v1h-1zM112.7 82.1h1v1h-1zM119.1 57.9h1v1h-1zM113.6 92.5h1v1h-1zM116.7 65.2h1v1h-1zM124.2 75.3h1v1h-1zM122.9 57.7h1v1h-1zM121.4 79.8h1v1h-1zM116.2 88.0h1v1h-1zM112.4 87.6h1v1h-1zM115.2 90.9h1v1h-1zM118.5 61.2h1v1h-1zM107.9 71.9h1v1h-1zM113.4 91.7h1v1h-1zM115.5 64.8h1v1h-1zM121.1 63.6h1v1h-1zM113.7 81.2h1v1h-1zM108.5 85.4h1v1h-1zM118.5 80.2h1v1h-1zM118.3 75.9h1v1h-1zM121.9 78.4h1v1h-1zM119.4 74.8h1v1h-1zM122.6 82.2h1v1h-1zM108.2 88.1h1v1h-1zM118.3 89.7h1v1h-1zM114.0 68.3h1v1h-1zM113.7 90.8h1v1h-1zM110.9 82.0h1v1h-1zM116.4 64.2h1v1h-1zM110.3 74.5h1v1h-1zM112.8 78.9h1v1h-1zM109.3 66.7h1v1h-1zM120.8 87.5h1v1h-1zM106.9 65.9h1v1h-1zM110.2 74.9h1v1h-1zM113.4 87.2h1v1h-1zM104.6 79.5h1v1h-1zM114.1 70.8h1v1h-1zM110.6 83.5h1v1h-1zM111.2 71.1h1v1h-1zM111.9 83.1h1v1h-1zM118.6 71.9h1v1h-1zM109.2 91.4h1v1h-1zM111.6 60.3h1v1h-1zM118.3 78.4h1v1h-1zM120.4 82.9h1v1h-1zM116.3 81.5h1v1h-1zM111.5 80.0h1v1h-1zM118.5 90.8h1v1h-1zM112.3 74.7h1v1h-1zM114.1 71.1h1v1h-1zM117.3 65.0h1v1h-1zM110.3 77.2h1v1h-1zM117.2 67.2h1v1h-1zM119.4 75.0h1v1h-1zM111.8 93.2h1v1h-1zM116.7 71.3h1v1h-1zM117.6 68.2h1v1h-1zM117.9 61.9h1v1h-1zM112.6 89.7h1v1h-1zM122.1 74.5h1v1h-1zM108.0 82.3h1v1h-1zM119.9 79.5h1v1h-1zM113.4 93.8h1v1h-1zM116.1 73.0h1v1h-1zM116.8 68.4h1v1h-1zM120.0 73.0h1v1h-1zM111.2 81.0h1v1h-1zM117.2 60.7h1v1h-1zM123.7 73.3h1v1h-1zM109.6 84.4h1v1h-1zM122.9 80.3h1v1h-1zM106.4 69.7h1v1h-1zM112.1 90.3h1v1h-1zM118.5 86.5h1v1h-1zM118.2 69.5h1v1h-1zM114.6 81.7h1v1h-1zM109.5 93.4h1v1h-1zM106.4 84.2h1v1h-1zM108.0 67.3h1v1h-1zM109.2 65.9h1v1h-1zM108.0 78.5h1v1h-1zM114.4 80.1h1v1h-1zM111.6 73.0h1v1h-1zM109.5 77.6h1v1h-1zM109.9 76.1h1v1h-1zM123.2 81.3h1v1h-1zM115.1 84.7h1v1h-1zM112.9 74.2h1v1h-1zM114.8 77.6h1v1h-1zM109.1 72.3h1v1h-1zM108.0 87.6h1v1h-1zM107.4 92.2h1v1h-1zM121.1 58.4h1v1h-1zM111.1 75.1h1v1h-1zM119.9 68.2h1v1h-1zM109.9 84.2h1v1h-1zM111.5 70.6h1v1h-1zM119.7 82.7h1v1h-1zM113.1 72.3h1v1h-1zM114.5 91.4h1v1h-1zM112.2 60.4h1v1h-1zM113.3 82.2h1v1h-1zM108.2 66.2h1v1h-1zM119.0 91.5h1v1h-1zM108.9 87.5h1v1h-1zM105.7 79.5h1v1h-1zM117.4 82.3h1v1h-1zM116.6 83.0h1v1h-1zM113.3 85.4h1v1h-1zM110.3 74.5h1v1h-1zM116.3 78.1h1v1h-1zM113.6 86.6h1v1h-1zM112.0 73.7h1v1h-1zM114.1 67.9h1v1h-1zM106.4 79.9h1v1h-1zM108.6 81.7h1v1h-1zM118.0 91.3h1v1h-1zM108.9 82.2h1v1h-1zM109.9 62.5h1v1h-1zM118.6 56.8h1v1h-1zM114.3 54.5h1v1h-1zM110.1 64.2h1v1h-1zM121.1 84.2h1v1h-1zM118.4 83.0h1v1h-1zM113.7 86.0h1v1h-1zM112.2 69.5h1v1h-1zM112.0 89.1h1v1h-1zM116.4 81.3h1v1h-1zM106.5 76.4h1v1h-1zM114.9 85.5h1v1h-1zM118.9 61.6h1v1h-1zM115.5 92.4h1v1h-1zM117.4 76.3h1v1h-1zM125.1 69.1h1v1h-1zM115.4 75.7h1v1h-1zM105.8 80.9h1v1h-1zM106.6 72.4h1v1h-1zM106.7 75.1h1v1h-1zM116.3 69.4h1v1h-1zM120.1 85.5h1v1h-1zM116.4 86.7h1v1h-1zM119.0 72.5h1v1h-1zM116.6 58.4h1v1h-1zM109.9 90.1h1v1h-1zM119.7 72.9h1v1h-1zM104.7 79.0h1v1h-1zM115.2 77.3h1v1h-1zM125.7 70.8h1v1h-1zM119.0 78.6h1v1h-1zM121.2 75.0h1v1h-1zM111.6 95.6h1v1h-1zM108.4 86.2h1v1h-1zM105.8 72.5h1v1h-1zM118.8 59.0h1v1h-1zM115.8 85.3h1v1h-1zM120.3 73.1h1v1h-1zM117.6 64.7h1v1h-1zM122.0 72.7h1v1h-1zM117.2 86.8h1v1h-1zM115.0 64.7h1v1h-1zM115.4 75.7h1v1h-1zM109.2 74.8h1v1h-1zM118.2 75.3h1v1h-1zM116.3 92.7h1v1h-1zM112.1 75.2h1v1h-1zM123.4 65.7h1v1h-1zM111.9 80.7h1v1h-1zM117.1 73.0h1v1h-1zM108.3 72.9h1v1h-1zM115.2 82.7h1v1h-1zM119.5 80.5h1v1h-1zM108.5 80.1h1v1h-1zM122.1 73.2h1v1h-1zM115.7 69.1h1v1h-1zM118.2 80.5h1v1h-1zM107.6 92.2h1v1h-1zM110.2 77.2h1v1h-1zM108.9 61.7h1v1h-1zM117.5 86.3h1v1h-1zM122.2 67.8h1v1h-1zM118.3 69.1h1v1h-1zM113.8 71.8h1v1h-1zM112.2 89.5h1v1h-1zM116.3 69.8h1v1h-1zM116.4 68.4h1v1h-1zM118.7 74.5h1v1h-1zM120.3 86.6h1v1h-1zM114.5 87.6h1v1h-1zM111.4 81.5h1v1h-1zM121.5 70.3h1v1h-1zM113.0 78.8h1v1h-1zM113.4 92.9h1v1h-1zM121.5 85.0h1v1h-1zM114.9 75.1h1v1h-1zM106.7 85.1h1v1h-1zM109.8 81.5h1v1h-1zM112.6 70.7h1v1h-1zM112.5 74.1h1v1h-1zM113.1 80.3h1v1h-1zM115.6 78.1h1v1h-1zM113.6 92.0h1v1h-1zM112.5 63.4h1v1h-1zM110.9 81.3h1v1h-1zM119.4 81.1h1v1h-1zM114.3 81.2h1v1h-1zM110.9 88.5h1v1h-1zM112.2 71.2h1v1h-1zM108.6 72.6h1v1h-1zM115.0 86.4h1v1h-1zM120.4 63.1h1v1h-1zM121.0 88.0h1v1h-1zM110.9 73.4h1v1h-1zM118.1 85.5h1v1h-1zM109.2 77.9h1v1h-1zM123.0 59.0h1v1h-1zM111.1 75.5h1v1h-1zM115.4 78.2h1v1h-1zM121.8 73.2h1v1h-1zM106.8 66.1h1v1h-1zM119.5 63.0h1v1h-1zM114.3 72.9h1v1h-1zM117.1 64.1h1v1h-1zM112.3 91.1h1v1h-1zM123.0 70.4h1v1h-1zM119.4 72.2h1v1h-1zM110.5 94.4h1v1h-1zM117.3 86.2h1v1h-1zM120.3 72.1h1v1h-1zM124.2 68.2h1v1h-1zM117.3 83.0h1v1h-1zM120.9 57.7h1v1h-1zM110.5 73.3h1v1h-1zM120.6 86.0h1v1h-1zM120.0 69.4h1v1h-1zM105.3 83.0h1v1h-1zM116.9 81.0h1v1h-1zM117.3 77.0h1v1h-1zM119.0 63.9h1v1h-1zM114.5 75.0h1v1h-1zM122.4 73.6h1v1h-1zM116.7 55.3h1v1h-1zM120.3 86.5h1v1h-1zM113.9 85.3h1v1h-1zM119.1 55.3h1v1h-1zM115.6 78.8h1v1h-1zM119.7 83.6h1v1h-1zM111.7 92.1h1v1h-1zM106.0 77.5h1v1h-1zM119.0 84.4h1v1h-1zM107.7 91.0h1v1h-1zM121.3 87.6h1v1h-1zM110.9 91.2h1v1h-1zM117.6 59.4h1v1h-1zM114.9 82.4h1v1h-1zM105.8 88.4h1v1h-1zM121.8 65.8h1v1h-1zM113.4 89.3h1v1h-1zM113.8 69.2h1v1h-1zM106.7 87.0h1v1h-1zM112.9 78.5h1v1h-1zM121.4 86.3h1v1h-1zM118.1 63.3h1v1h-1zM117.0 68.9h1v1h-1zM115.9 76.6h1v1h-1zM115.3 91.2h1v1h-1zM113.9 92.3h1v1h-1zM112.6 86.6h1v1h-1zM112.7 60.6h1v1h-1zM108.6 83.1h1v1h-1zM107.2 76.9h1v1h-1zM112.7 72.7h1v1h-1zM110.8 67.6h1v1h-1zM109.9 75.1h1v1h-1zM116.7 70.0h1v1h-1zM111.8 72.6h1v1h-1zM108.0 75.4h1v1h-1zM115.7 79.7h1v1h-1zM109.3 85.1h1v1h-1zM122.4 83.0h1v1h-1zM121.3 79.5h1v1h-1zM115.4 57.8h1v1h-1zM122.2 74.1h1v1h-1zM107.8 64.6h1v1h-1zM112.3 61.7h1v1h-1zM119.8 88.0h1v1h-1zM114.7 89.7h1v1h-1zM116.6 68.3h1v1h-1zM121.0 82.0h1v1h-1zM111.4 85.6h1v1h-1zM114.0 82.3h1v1h-1zM114.2 84.1h1v1h-1zM111.3 82.7h1v1h-1zM110.4 93.3h1v1h-1zM113.0 83.6h1v1h-1zM121.1 59.5h1v1h-1zM116.3 88.9h1v1h-1zM117.7 80.6h1v1h-1zM111.6 92.2h1v1h-1zM108.1 83.3h1v1h-1zM113.3 72.9h1v1h-1zM120.2 64.9h1v1h-1zM122.4 81.9h1v1h-1zM110.8 79.5h1v1h-1zM115.3 83.1h1v1h-1zM108.5 67.7h1v1h-1zM123.0 71.6h1v1h-1zM112.0 85.8h1v1h-1zM114.4 77.9h1v1h-1zM116.1 77.2h1v1h-1zM113.8 93.0h1v1h-1zM117.0 63.7h1v1h-1zM114.7 84.9h1v1h-1zM108.5 80.8h1v1h-1zM119.3 82.9h1v1h-1zM113.6 60.9h1v1h-1zM116.9 59.3h1v1h-1zM110.1 72.9h1v1h-1zM112.1 75.9h1v1h-1zM111.0 83.2h1v1h-1zM117.7 71.3h1v1h-1zM120.8 72.6h1v1h-1zM111.9 76.8h1v1h-1zM109.4 62.0h1v1h-1zM114.6 86.5h1v1h-1zM113.8 71.6h1v1h-1zM107.8 89.6h1v1h-1zM111.4 88.5h1v1h-1zM115.4 76.7h1v1h-1zM109.2 79.5h1v1h-1zM118.7 91.2h1v1h-1zM106.9 76.4h1v1h-1zM110.3 78.4h1v1h-1zM115.6 86.4h1v1h-1zM114.9 88.7h1v1h-1zM112.7 93.5h1v1h-1zM122.3 63.9h1v1h-1zM115.9 82.3h1v1h-1zM105.3 74.8h1v1h-1zM109.4 82.1h1v1h-1zM108.0 91.4h1v1h-1zM119.8 69.3h1v1h-1zM108.3 93.4h1v1h-1zM111.1 85.7h1v1h-1zM117.6 66.3h1v1h-1zM107.8 92.5h1v1h-1zM120.0 65.9h1v1h-1zM109.8 63.5h1v1h-1zM117.6 66.8h1v1h-1zM123.6 70.0h1v1h-1zM104.5 75.3h1v1h-1zM154.4 70.7h1v1h-1zM157.7 77.2h1v1h-1zM148.1 80.9h1v1h-1zM138.9 77.1h1v1h-1zM153.0 78.2h1v1h-1zM174.7 76.7h1v1h-1zM159.4 79.6h1v1h-1zM160.3 75.1h1v1h-1zM144.7 73.9h1v1h-1zM154.3 72.6h1v1h-1zM142.2 75.8h1v1h-1zM147.3 77.9h1v1h-1zM153.1 77.1h1v1h-1zM136.7 74.1h1v1h-1zM148.0 78.2h1v1h-1zM164.2 75.7h1v1h-1zM148.9 81.0h1v1h-1zM133.9 78.6h1v1h-1zM163.7 74.7h1v1h-1zM130.4 77.0h1v1h-1zM143.0 72.1h1v1h-1zM158.0 81.8h1v1h-1zM146.9 71.7h1v1h-1zM138.5 79.2h1v1h-1zM152.3 81.1h1v1h-1zM141.8 76.4h1v1h-1zM163.4 78.7h1v1h-1zM144.3 79.0h1v1h-1zM172.6 76.3h1v1h-1zM159.9 76.4h1v1h-1zM167.1 76.9h1v1h-1zM136.5 76.7h1v1h-1zM148.6 74.0h1v1h-1zM161.9 72.5h1v1h-1zM147.8 78.4h1v1h-1zM149.2 74.0h1v1h-1zM159.2 80.1h1v1h-1zM146.4 71.1h1v1h-1zM170.8 78.7h1v1h-1zM141.7 76.2h1v1h-1zM153.3 73.9h1v1h-1zM159.6 70.8h1v1h-1zM155.9 75.7h1v1h-1zM159.9 74.0h1v1h-1zM146.4 77.4h1v1h-1zM151.6 79.1h1v1h-1zM141.6 75.7h1v1h-1zM135.7 74.7h1v1h-1zM152.4 80.2h1v1h-1zM149.2 77.4h1v1h-1zM139.5 75.6h1v1h-1zM159.5 73.2h1v1h-1zM165.2 72.3h1v1h-1zM168.2 80.1h1v1h-1zM151.2 78.2h1v1h-1zM139.9 80.8h1v1h-1zM149.5 78.1h1v1h-1zM165.0 75.5h1v1h-1zM132.5 81.0h1v1h-1zM145.9 74.4h1v1h-1zM158.6 74.0h1v1h-1zM161.3 76.0h1v1h-1zM155.1 74.0h1v1h-1zM160.9 76.6h1v1h-1zM163.8 74.9h1v1h-1zM148.5 75.8h1v1h-1zM152.0 82.2h1v1h-1zM163.8 79.8h1v1h-1zM156.4 73.5h1v1h-1zM144.5 79.3h1v1h-1zM166.3 72.5h1v1h-1zM139.6 81.6h1v1h-1zM146.8 75.8h1v1h-1zM138.3 80.2h1v1h-1zM133.0 76.5h1v1h-1zM150.0 75.8h1v1h-1zM135.3 77.5h1v1h-1zM133.1 77.7h1v1h-1zM156.8 74.7h1v1h-1zM165.5 75.1h1v1h-1zM158.0 80.7h1v1h-1zM145.6 77.8h1v1h-1zM143.7 75.7h1v1h-1zM151.2 76.2h1v1h-1zM133.6 77.6h1v1h-1zM136.1 78.2h1v1h-1zM153.2 76.9h1v1h-1zM148.6 83.5h1v1h-1zM146.3 76.0h1v1h-1zM141.5 78.4h1v1h-1zM134.5 81.0h1v1h-1zM171.2 72.9h1v1h-1zM136.6 80.5h1v1h-1zM152.7 76.3h1v1h-1zM146.5 76.8h1v1h-1zM138.8 75.1h1v1h-1zM137.3 82.6h1v1h-1zM155.1 80.9h1v1h-1zM144.1 81.7h1v1h-1zM144.8 82.7h1v1h-1zM151.9 76.2h1v1h-1zM158.7 80.4h1v1h-1zM140.0 81.2h1v1h-1zM173.1 73.0h1v1h-1zM146.6 79.4h1v1h-1zM168.7 72.0h1v1h-1zM141.8 78.6h1v1h-1zM141.7 77.7h1v1h-1zM155.6 71.7h1v1h-1zM138.1 78.4h1v1h-1zM149.2 74.1h1v1h-1zM149.9 77.8h1v1h-1zM143.6 78.7h1v1h-1zM162.5 76.4h1v1h-1zM149.2 70.7h1v1h-1zM147.2 79.5h1v1h-1zM156.7 71.4h1v1h-1zM160.4 71.7h1v1h-1zM133.0 78.8h1v1h-1zM157.9 79.7h1v1h-1zM155.3 81.7h1v1h-1zM146.0 73.7h1v1h-1zM147.2 82.7h1v1h-1zM148.5 75.5h1v1h-1zM135.3 80.8h1v1h-1zM142.2 81.4h1v1h-1zM140.0 80.1h1v1h-1zM162.3 73.1h1v1h-1zM160.7 74.9h1v1h-1zM153.6 82.8h1v1h-1zM158.6 71.9h1v1h-1zM152.6 77.2h1v1h-1zM151.6 80.4h1v1h-1zM170.2 73.9h1v1h-1zM166.8 73.0h1v1h-1zM168.7 78.1h1v1h-1zM147.7 73.8h1v1h-1zM174.5 78.1h1v1h-1zM135.0 73.6h1v1h-1zM148.4 72.9h1v1h-1zM153.1 75.0h1v1h-1zM133.1 76.1h1v1h-1zM156.1 72.0h1v1h-1zM128.5 78.6h1v1h-1zM149.6 78.2h1v1h-1zM167.4 78.6h1v1h-1zM161.5 71.8h1v1h-1zM136.8 77.6h1v1h-1zM163.1 74.1h1v1h-1zM149.9 82.5h1v1h-1zM157.9 80.1h1v1h-1zM163.6 80.4h1v1h-1zM140.9 80.3h1v1h-1zM169.5 79.6h1v1h-1zM136.4 79.9h1v1h-1zM151.6 74.1h1v1h-1zM159.5 78.3h1v1h-1zM158.1 70.7h1v1h-1zM162.6 81.0h1v1h-1zM164.0 71.6h1v1h-1zM138.2 80.9h1v1h-1zM170.6 74.9h1v1h-1zM129.1 77.1h1v1h-1zM169.3 79.0h1v1h-1zM152.7 79.8h1v1h-1zM171.3 79.3h1v1h-1zM168.5 73.4h1v1h-1zM156.0 82.9h1v1h-1zM158.5 77.3h1v1h-1zM129.9 75.6h1v1h-1zM134.1 79.0h1v1h-1zM143.9 79.6h1v1h-1zM163.6 74.8h1v1h-1zM170.8 78.1h1v1h-1zM131.6 80.0h1v1h-1zM136.5 81.0h1v1h-1zM166.5 79.3h1v1h-1zM172.3 76.3h1v1h-1zM143.1 74.6h1v1h-1zM165.3 73.8h1v1h-1zM156.7 78.5h1v1h-1zM138.5 81.5h1v1h-1zM145.7 81.2h1v1h-1zM140.5 80.5h1v1h-1zM148.4 80.1h1v1h-1zM134.5 73.7h1v1h-1zM164.9 78.6h1v1h-1zM166.6 72.8h1v1h-1zM156.7 73.6h1v1h-1zM138.2 77.0h1v1h-1zM138.8 79.8h1v1h-1zM159.5 80.8h1v1h-1zM168.3 77.4h1v1h-1zM135.6 74.4h1v1h-1zM133.3 76.6h1v1h-1zM155.2 81.1h1v1h-1zM137.3 78.9h1v1h-1zM169.0 74.5h1v1h-1zM161.6 76.9h1v1h-1zM162.4 81.7h1v1h-1zM138.8 78.0h1v1h-1zM151.5 77.1h1v1h-1zM155.3 74.8h1v1h-1zM142.4 77.3h1v1h-1zM168.4 77.7h1v1h-1zM153.0 82.0h1v1h-1zM134.1 73.7h1v1h-1zM154.8 80.7h1v1h-1zM148.1 76.0h1v1h-1zM151.0 76.1h1v1h-1zM148.2 73.3h1v1h-1zM142.5 74.3h1v1h-1zM144.9 79.0h1v1h-1zM161.9 77.9h1v1h-1zM156.4 78.5h1v1h-1zM147.3 79.9h1v1h-1zM140.9 74.3h1v1h-1zM155.6 76.7h1v1h-1zM137.7 74.8h1v1h-1zM153.5 74.1h1v1h-1zM162.1 72.9h1v1h-1zM152.7 75.7h1v1h-1zM145.5 73.0h1v1h-1zM163.0 78.2h1v1h-1zM158.7 76.8h1v1h-1zM171.9 76.4h1v1h-1zM147.7 81.2h1v1h-1zM156.6 73.8h1v1h-1zM142.5 76.1h1v1h-1zM147.8 81.9h1v1h-1zM158.7 79.5h1v1h-1zM148.8 76.0h1v1h-1zM137.5 73.4h1v1h-1zM142.5 76.4h1v1h-1zM149.8 71.1h1v1h-1zM152.1 71.2h1v1h-1zM169.3 76.0h1v1h-1zM153.8 76.5h1v1h-1zM154.6 77.8h1v1h-1zM167.7 73.8h1v1h-1zM144.7 81.4h1v1h-1zM131.4 77.7h1v1h-1zM146.2 76.7h1v1h-1zM173.9 78.3h1v1h-1zM166.1 78.4h1v1h-1zM153.4 73.1h1v1h-1zM162.4 82.0h1v1h-1zM139.2 73.0h1v1h-1zM138.8 76.6h1v1h-1zM159.6 73.2h1v1h-1zM147.9 72.9h1v1h-1zM160.0 70.7h1v1h-1zM170.7 77.5h1v1h-1zM147.3 76.3h1v1h-1zM134.7 74.1h1v1h-1zM133.0 79.5h1v1h-1zM152.6 79.5h1v1h-1zM163.7 80.0h1v1h-1zM161.2 74.8h1v1h-1zM168.3 72.9h1v1h-1zM172.9 75.5h1v1h-1zM172.6 78.6h1v1h-1zM173.0 74.0h1v1h-1zM145.2 73.9h1v1h-1zM149.4 79.6h1v1h-1zM149.1 77.4h1v1h-1zM145.8 79.6h1v1h-1zM168.7 72.7h1v1h-1zM157.4 75.8h1v1h-1zM146.5 80.1h1v1h-1zM138.9 74.8h1v1h-1zM135.2 74.7h1v1h-1zM137.0 76.3h1v1h-1zM172.0 77.1h1v1h-1zM145.8 72.7h1v1h-1zM155.6 76.8h1v1h-1zM156.7 74.4h1v1h-1zM165.4 72.2h1v1h-1zM159.4 78.9h1v1h-1zM161.0 81.9h1v1h-1zM147.2 79.7h1v1h-1zM160.1 72.8h1v1h-1zM144.7 83.2h1v1h-1zM130.9 76.0h1v1h-1zM151.3 75.4h1v1h-1zM159.4 72.3h1v1h-1zM151.3 77.6h1v1h-1zM131.5 78.8h1v1h-1zM160.1 77.9h1v1h-1zM144.3 73.5h1v1h-1zM168.6 71.8h1v1h-1zM151.8 73.2h1v1h-1zM148.3 73.3h1v1h-1zM156.6 82.6h1v1h-1zM154.9 79.4h1v1h-1zM174.3 73.7h1v1h-1zM135.3 81.6h1v1h-1zM145.3 76.2h1v1h-1zM147.6 75.7h1v1h-1zM162.9 80.3h1v1h-1zM149.1 76.0h1v1h-1zM156.1 75.5h1v1h-1zM151.5 74.3h1v1h-1zM141.8 77.0h1v1h-1zM150.8 70.7h1v1h-1zM149.7 70.8h1v1h-1zM152.0 76.7h1v1h-1zM130.5 75.8h1v1h-1zM133.1 79.3h1v1h-1zM153.7 79.6h1v1h-1zM152.0 78.8h1v1h-1zM161.4 80.9h1v1h-1zM151.7 82.6h1v1h-1zM171.5 74.1h1v1h-1zM166.0 71.9h1v1h-1zM152.6 81.6h1v1h-1zM150.1 73.8h1v1h-1zM162.0 77.4h1v1h-1zM143.2 83.4h1v1h-1zM150.0 78.0h1v1h-1zM143.4 82.6h1v1h-1zM160.6 72.1h1v1h-1zM128.8 77.7h1v1h-1zM158.5 77.2h1v1h-1zM140.4 73.1h1v1h-1zM151.7 75.6h1v1h-1zM134.6 74.1h1v1h-1zM160.8 74.1h1v1h-1zM133.9 76.2h1v1h-1zM166.1 72.9h1v1h-1zM163.6 72.6h1v1h-1zM143.0 74.6h1v1h-1zM162.1 75.2h1v1h-1zM166.1 75.1h1v1h-1zM155.5 73.8h1v1h-1zM154.8 77.0h1v1h-1zM136.2 77.4h1v1h-1zM145.9 73.2h1v1h-1zM153.8 72.9h1v1h-1zM153.6 82.6h1v1h-1zM144.3 72.4h1v1h-1zM157.5 74.8h1v1h-1zM158.0 71.0h1v1h-1zM153.3 78.3h1v1h-1zM138.9 75.7h1v1h-1zM147.1 77.6h1v1h-1zM158.2 76.4h1v1h-1zM173.3 78.5h1v1h-1zM140.9 80.2h1v1h-1zM143.3 72.5h1v1h-1zM162.3 80.0h1v1h-1zM137.9 79.5h1v1h-1zM158.1 73.6h1v1h-1zM164.7 74.3h1v1h-1zM160.1 77.2h1v1h-1zM157.0 79.2h1v1h-1zM133.2 78.7h1v1h-1zM170.8 73.8h1v1h-1zM157.4 71.5h1v1h-1zM133.4 77.9h1v1h-1zM143.3 79.7h1v1h-1zM167.5 78.5h1v1h-1zM161.8 80.3h1v1h-1zM170.9 79.5h1v1h-1zM141.3 73.1h1v1h-1zM154.0 77.2h1v1h-1zM153.2 71.5h1v1h-1zM159.9 72.0h1v1h-1zM141.7 79.9h1v1h-1zM128.6 78.8h1v1h-1zM158.8 78.2h1v1h-1zM151.1 82.2h1v1h-1zM158.6 76.1h1v1h-1zM146.5 81.9h1v1h-1zM142.4 77.9h1v1h-1zM144.8 77.0h1v1h-1zM156.7 82.2h1v1h-1zM174.1 75.6h1v1h-1zM150.8 70.7h1v1h-1zM156.2 76.6h1v1h-1zM142.3 78.0h1v1h-1zM157.1 72.7h1v1h-1zM157.6 77.0h1v1h-1zM149.9 79.8h1v1h-1zM154.8 79.9h1v1h-1zM156.9 75.2h1v1h-1zM159.4 75.9h1v1h-1zM146.0 74.6h1v1h-1zM153.6 78.7h1v1h-1zM146.9 70.9h1v1h-1zM153.1 78.6h1v1h-1zM159.7 78.6h1v1h-1zM151.5 76.4h1v1h-1zM154.4 83.3h1v1h-1zM131.2 79.3h1v1h-1zM153.3 74.2h1v1h-1zM138.7 74.5h1v1h-1zM149.1 76.3h1v1h-1zM139.0 82.7h1v1h-1zM155.5 75.0h1v1h-1zM139.0 72.5h1v1h-1zM143.5 81.7h1v1h-1zM152.1 77.1h1v1h-1zM142.7 72.2h1v1h-1zM137.6 73.0h1v1h-1zM174.5 74.2h1v1h-1zM163.8 70.8h1v1h-1zM169.6 73.8h1v1h-1zM147.3 80.0h1v1h-1zM137.7 75.3h1v1h-1zM140.2 81.4h1v1h-1zM146.7 80.3h1v1h-1zM167.0 72.3h1v1h-1zM168.4 73.4h1v1h-1zM152.8 80.2h1v1h-1zM161.5 71.6h1v1h-1zM171.5 78.9h1v1h-1zM158.9 74.5h1v1h-1zM154.2 75.9h1v1h-1zM163.6 81.1h1v1h-1zM152.2 80.4h1v1h-1zM154.0 80.5h1v1h-1zM152.9 76.2h1v1h-1zM135.3 81.4h1v1h-1zM143.2 72.6h1v1h-1zM154.5 76.7h1v1h-1zM151.9 77.0h1v1h-1zM131.2 80.1h1v1h-1zM161.4 78.3h1v1h-1zM150.1 76.1h1v1h-1zM174.6 76.4h1v1h-1zM160.9 71.4h1v1h-1zM134.1 80.6h1v1h-1zM167.9 72.2h1v1h-1zM135.5 80.7h1v1h-1zM154.3 81.9h1v1h-1zM140.2 82.2h1v1h-1zM160.9 73.8h1v1h-1zM136.3 82.4h1v1h-1zM159.7 77.0h1v1h-1zM162.6 76.1h1v1h-1zM165.0 78.9h1v1h-1zM138.9 76.9h1v1h-1zM143.6 78.5h1v1h-1zM154.4 77.3h1v1h-1zM148.3 73.6h1v1h-1zM142.4 76.0h1v1h-1zM143.7 80.2h1v1h-1zM159.3 81.2h1v1h-1zM148.2 73.3h1v1h-1zM142.2 79.7h1v1h-1zM128.9 79.7h1v1h-1zM140.3 79.5h1v1h-1zM138.4 80.5h1v1h-1zM155.3 77.2h1v1h-1zM148.7 73.3h1v1h-1zM157.5 71.3h1v1h-1zM160.3 76.1h1v1h-1zM147.2 75.9h1v1h-1zM152.8 76.1h1v1h-1zM151.9 72.6h1v1h-1zM154.9 79.0h1v1h-1zM163.7 74.5h1v1h-1zM155.8 73.6h1v1h-1zM141.1 77.4h1v1h-1zM173.1 73.2h1v1h-1zM153.2 77.7h1v1h-1zM152.8 71.7h1v1h-1zM137.1 76.9h1v1h-1zM163.9 72.0h1v1h-1zM174.5 77.5h1v1h-1zM157.1 73.5h1v1h-1zM159.3 71.6h1v1h-1zM160.9 82.6h1v1h-1zM163.7 71.7h1v1h-1zM163.3 81.7h1v1h-1zM147.4 74.9h1v1h-1zM158.1 72.0h1v1h-1zM140.8 77.0h1v1h-1zM156.0 75.3h1v1h-1zM131.1 78.7h1v1h-1zM139.4 76.1h1v1h-1zM149.6 72.4h1v1h-1zM164.9 77.5h1v1h-1zM160.5 80.5h1v1h-1zM138.9 76.5h1v1h-1zM170.7 77.2h1v1h-1zM162.6 71.9h1v1h-1zM150.3 77.8h1v1h-1zM138.2 78.8h1v1h-1zM152.2 82.4h1v1h-1zM151.2 71.2h1v1h-1zM137.0 76.3h1v1h-1zM172.7 73.3h1v1h-1zM154.5 82.0h1v1h-1zM158.9 75.7h1v1h-1zM149.3 72.4h1v1h-1zM136.8 79.5h1v1h-1zM150.5 79.1h1v1h-1zM156.0 70.8h1v1h-1zM174.8 76.8h1v1h-1zM158.2 82.9h1v1h-1zM139.0 79.9h1v1h-1zM145.2 81.3h1v1h-1zM134.2 76.7h1v1h-1zM151.3 76.6h1v1h-1zM146.4 74.8h1v1h-1zM153.5 79.9h1v1h-1zM169.8 75.7h1v1h-1zM158.7 72.6h1v1h-1zM133.6 80.1h1v1h-1zM142.8 80.0h1v1h-1zM146.0 78.9h1v1h-1zM137.2 78.5h1v1h-1zM154.6 78.1h1v1h-1zM140.2 78.6h1v1h-1zM152.7 81.1h1v1h-1zM147.2 83.5h1v1h-1zM154.1 78.2h1v1h-1zM147.3 78.7h1v1h-1zM130.5 77.9h1v1h-1zM137.3 73.4h1v1h-1zM135.6 78.4h1v1h-1zM158.8 71.6h1v1h-1zM168.2 78.4h1v1h-1zM151.6 80.0h1v1h-1zM171.0 73.4h1v1h-1zM146.4 80.2h1v1h-1zM165.7 75.7h1v1h-1zM156.2 78.3h1v1h-1zM138.6 74.5h1v1h-1zM158.3 72.1h1v1h-1zM156.1 80.1h1v1h-1zM161.2 74.4h1v1h-1zM136.1 76.7h1v1h-1zM145.0 83.1h1v1h-1zM146.4 81.4h1v1h-1zM149.3 79.2h1v1h-1zM143.6 73.5h1v1h-1zM155.0 71.0h1v1h-1zM148.4 71.9h1v1h-1zM146.8 74.6h1v1h-1zM138.5 75.5h1v1h-1zM135.5 74.7h1v1h-1zM167.1 79.8h1v1h-1zM164.9 78.1h1v1h-1zM134.3 74.7h1v1h-1zM168.5 75.8h1v1h-1zM139.0 73.0h1v1h-1zM134.4 75.6h1v1h-1zM142.4 82.1h1v1h-1zM152.7 81.5h1v1h-1zM162.9 77.0h1v1h-1zM170.9 79.9h1v1h-1zM162.0 79.3h1v1h-1zM129.7 79.1h1v1h-1zM144.8 82.2h1v1h-1zM155.6 82.7h1v1h-1zM158.9 70.9h1v1h-1zM142.4 76.6h1v1h-1zM133.7 80.4h1v1h-1zM140.2 78.7h1v1h-1zM148.1 77.8h1v1h-1zM160.9 78.8h1v1h-1zM141.0 75.9h1v1h-1zM151.1 79.3h1v1h-1zM152.9 72.7h1v1h-1zM148.0 80.4h1v1h-1zM137.6 79.6h1v1h-1zM145.0 77.6h1v1h-1zM139.2 82.5h1v1h-1zM141.8 78.3h1v1h-1zM159.0 74.2h1v1h-1zM146.0 74.6h1v1h-1zM151.4 72.5h1v1h-1zM153.2 74.7h1v1h-1zM147.7 74.5h1v1h-1zM142.2 76.7h1v1h-1zM158.4 76.0h1v1h-1zM139.8 82.2h1v1h-1zM150.7 70.9h1v1h-1zM142.5 78.6h1v1h-1zM171.6 76.2h1v1h-1zM166.1 76.6h1v1h-1zM162.1 76.1h1v1h-1zM142.1 73.0h1v1h-1zM174.6 77.0h1v1h-1zM137.1 78.9h1v1h-1zM161.1 80.4h1v1h-1zM157.0 82.7h1v1h-1zM161.2 71.9h1v1h-1zM143.4 79.4h1v1h-1zM159.4 71.7h1v1h-1zM141.4 78.2h1v1h-1zM134.2 76.1h1v1h-1zM149.5 74.3h1v1h-1zM163.2 74.6h1v1h-1zM164.7 74.2h1v1h-1zM166.0 73.8h1v1h-1zM148.8 79.9h1v1h-1zM132.3 80.2h1v1h-1zM137.8 77.3h1v1h-1zM170.9 78.6h1v1h-1zM149.2 78.4h1v1h-1zM166.0 72.7h1v1h-1zM165.3 77.1h1v1h-1zM129.8 79.4h1v1h-1zM153.1 80.5h1v1h-1zM149.0 77.7h1v1h-1zM137.8 79.2h1v1h-1zM155.4 75.7h1v1h-1zM140.2 79.6h1v1h-1zM145.0 83.2h1v1h-1zM134.3 77.6h1v1h-1zM147.6 71.3h1v1h-1zM168.9 75.2h1v1h-1zM139.8 74.1h1v1h-1zM143.4 79.7h1v1h-1zM136.7 80.3h1v1h-1zM168.4 75.7h1v1h-1zM159.1 78.1h1v1h-1zM160.5 71.9h1v1h-1zM160.0 75.6h1v1h-1zM164.7 81.4h1v1h-1zM132.5 80.6h1v1h-1zM150.2 75.2h1v1h-1zM147.5 80.4h1v1h-1zM138.7 77.3h1v1h-1zM167.1 80.4h1v1h-1zM159.6 71.6h1v1h-1zM136.3 77.8h1v1h-1zM157.8 77.9h1v1h-1zM152.8 78.1h1v1h-1zM136.0 78.5h1v1h-1zM139.3 80.3h1v1h-1zM139.2 75.4h1v1h-1zM153.4 74.0h1v1h-1zM147.3 74.2h1v1h-1zM141.7 76.4h1v1h-1zM145.2 73.3h1v1h-1zM170.1 72.9h1v1h-1zM138.6 80.0h1v1h-1zM155.8 75.6h1v1h-1zM148.3 75.0h1v1h-1zM142.3 81.3h1v1h-1zM133.7 78.9h1v1h-1zM160.0 74.0h1v1h-1zM155.7 72.8h1v1h-1zM156.4 73.1h1v1h-1zM149.3 70.9h1v1h-1zM127.2 105.5h1v1h-1zM127.8 89.3h1v1h-1zM133.8 101.5h1v1h-1zM130.9 101.6h1v1h-1zM132.7 95.4h1v1h-1zM126.6 98.4h1v1h-1zM126.3 93.1h1v1h-1zM127.6 104.5h1v1h-1zM122.9 97.2h1v1h-1zM123.4 98.4h1v1h-1zM124.6 92.2h1v1h-1zM129.0 97.7h1v1h-1zM133.8 91.8h1v1h-1zM126.4 105.6h1v1h-1zM134.1 90.5h1v1h-1zM124.8 100.5h1v1h-1zM128.1 91.6h1v1h-1zM130.1 90.7h1v1h-1zM129.3 100.2h1v1h-1zM129.5 100.4h1v1h-1zM133.9 96.5h1v1h-1zM124.4 92.4h1v1h-1zM132.3 90.8h1v1h-1zM131.4 101.4h1v1h-1zM134.3 93.9h1v1h-1zM132.2 103.6h1v1h-1zM122.6 96.2h1v1h-1zM127.4 106.6h1v1h-1zM135.6 95.4h1v1h-1zM128.9 96.4h1v1h-1zM130.9 106.0h1v1h-1zM124.2 95.9h1v1h-1zM134.8 94.2h1v1h-1zM125.9 96.1h1v1h-1zM127.7 106.1h1v1h-1zM134.2 103.9h1v1h-1zM127.7 103.0h1v1h-1zM132.7 99.1h1v1h-1zM122.0 94.1h1v1h-1zM122.2 95.3h1v1h-1zM134.1 98.4h1v1h-1zM133.7 95.9h1v1h-1zM127.9 104.7h1v1h-1zM123.9 93.4h1v1h-1zM135.9 101.4h1v1h-1zM126.6 106.2h1v1h-1zM131.4 91.8h1v1h-1zM124.7 95.2h1v1h-1zM122.6 100.4h1v1h-1zM135.9 103.3h1v1h-1zM130.7 105.0h1v1h-1zM124.7 99.2h1v1h-1zM134.5 96.2h1v1h-1zM135.0 101.5h1v1h-1zM134.1 93.7h1v1h-1zM124.1 95.2h1v1h-1zM122.2 94.6h1v1h-1zM126.7 98.1h1v1h-1zM136.6 94.3h1v1h-1zM128.1 92.1h1v1h-1zM128.1 102.8h1v1h-1zM128.8 90.5h1v1h-1zM131.0 100.7h1v1h-1zM126.6 93.2h1v1h-1zM130.7 97.2h1v1h-1zM129.7 90.6h1v1h-1zM134.7 93.2h1v1h-1zM128.8 96.8h1v1h-1zM124.4 91.0h1v1h-1zM126.8 103.4h1v1h-1zM124.9 97.7h1v1h-1zM133.7 97.0h1v1h-1zM133.0 92.4h1v1h-1zM131.9 98.2h1v1h-1zM132.9 99.8h1v1h-1zM137.1 97.8h1v1h-1zM131.7 89.8h1v1h-1zM129.6 100.0h1v1h-1zM129.7 103.3h1v1h-1zM127.7 101.8h1v1h-1zM135.0 98.2h1v1h-1zM133.5 102.7h1v1h-1zM127.4 105.5h1v1h-1zM135.3 97.3h1v1h-1zM126.3 94.8h1v1h-1zM130.0 104.3h1v1h-1zM130.1 106.6h1v1h-1zM126.5 93.8h1v1h-1zM129.4 91.2h1v1h-1zM132.3 104.5h1v1h-1zM129.9 101.5h1v1h-1zM131.8 98.0h1v1h-1zM129.9 92.2h1v1h-1zM122.7 97.0h1v1h-1zM126.2 106.2h1v1h-1zM123.2 101.1h1v1h-1zM135.9 97.6h1v1h-1zM131.7 93.0h1v1h-1zM122.1 93.3h1v1h-1zM123.5 96.5h1v1h-1zM131.8 98.9h1v1h-1zM132.2 97.5h1v1h-1zM123.2 93.9h1v1h-1zM128.2 104.2h1v1h-1zM126.8 94.0h1v1h-1zM138.7 97.4h1v1h-1zM132.8 101.4h1v1h-1zM126.7 97.2h1v1h-1zM128.4 94.0h1v1h-1zM126.5 99.8h1v1h-1zM128.7 101.9h1v1h-1zM121.0 95.3h1v1h-1zM124.0 95.5h1v1h-1zM132.5 98.3h1v1h-1zM132.3 96.7h1v1h-1zM127.1 104.0h1v1h-1zM125.3 92.0h1v1h-1zM134.1 99.3h1v1h-1zM135.3 101.2h1v1h-1zM133.5 101.6h1v1h-1zM126.3 98.0h1v1h-1zM128.6 91.5h1v1h-1zM126.3 98.3h1v1h-1zM128.2 106.8h1v1h-1zM135.6 98.1h1v1h-1zM130.1 96.3h1v1h-1zM123.5 97.5h1v1h-1zM136.9 103.1h1v1h-1zM135.4 98.8h1v1h-1zM125.0 102.9h1v1h-1zM128.1 103.0h1v1h-1zM135.0 104.3h1v1h-1zM134.3 94.2h1v1h-1zM127.2 103.0h1v1h-1zM127.8 101.3h1v1h-1zM132.6 104.5h1v1h-1zM129.4 101.8h1v1h-1zM127.9 98.8h1v1h-1zM130.1 104.1h1v1h-1zM134.2 94.1h1v1h-1zM129.3 91.3h1v1h-1zM123.7 97.0h1v1h-1zM128.9 99.9h1v1h-1zM127.6 90.5h1v1h-1zM132.3 95.5h1v1h-1zM128.5 98.6h1v1h-1zM124.0 99.6h1v1h-1zM134.5 97.5h1v1h-1zM125.2 105.2h1v1h-1zM131.1 97.0h1v1h-1zM127.2 98.2h1v1h-1zM126.9 91.0h1v1h-1zM125.8 101.4h1v1h-1zM130.6 91.5h1v1h-1zM122.2 97.3h1v1h-1zM121.3 99.6h1v1h-1zM124.8 94.8h1v1h-1zM126.1 93.0h1v1h-1zM131.7 99.1h1v1h-1zM131.4 94.6h1v1h-1zM130.8 101.6h1v1h-1zM122.1 100.6h1v1h-1zM128.6 91.3h1v1h-1zM121.5 98.7h1v1h-1zM125.1 103.0h1v1h-1zM131.5 104.6h1v1h-1zM124.7 102.9h1v1h-1zM130.0 99.3h1v1h-1zM134.0 104.3h1v1h-1zM125.0 103.4h1v1h-1zM136.2 97.9h1v1h-1zM120.9 98.9h1v1h-1zM129.5 98.3h1v1h-1zM125.8 95.6h1v1h-1zM123.9 96.4h1v1h-1zM125.3 99.8h1v1h-1zM127.0 93.8h1v1h-1zM132.4 96.4h1v1h-1zM126.6 94.7h1v1h-1zM131.8 91.8h1v1h-1zM132.5 99.0h1v1h-1zM129.2 90.9h1v1h-1zM134.2 97.5h1v1h-1zM124.3 99.3h1v1h-1zM126.2 96.9h1v1h-1zM130.9 102.6h1v1h-1zM134.3 94.7h1v1h-1zM136.2 93.4h1v1h-1zM120.7 99.8h1v1h-1zM129.0 92.4h1v1h-1zM134.5 99.6h1v1h-1zM132.8 103.6h1v1h-1zM130.8 93.9h1v1h-1zM128.7 92.1h1v1h-1zM130.5 97.8h1v1h-1zM123.9 95.7h1v1h-1zM132.0 93.8h1v1h-1zM131.3 91.8h1v1h-1zM136.7 100.3h1v1h-1zM125.7 95.7h1v1h-1zM131.4 92.3h1v1h-1zM120.9 96.2h1v1h-1zM136.5 93.1h1v1h-1zM135.7 93.3h1v1h-1zM134.3 99.1h1v1h-1zM130.2 101.0h1v1h-1zM128.7 91.6h1v1h-1zM126.1 99.1h1v1h-1zM126.4 91.7h1v1h-1zM124.3 103.8h1v1h-1zM131.2 94.9h1v1h-1zM124.9 92.4h1v1h-1zM127.9 90.0h1v1h-1zM135.5 96.0h1v1h-1zM127.0 99.8h1v1h-1zM126.7 100.9h1v1h-1zM123.9 97.5h1v1h-1zM121.3 96.7h1v1h-1zM133.9 100.6h1v1h-1zM128.4 105.8h1v1h-1zM123.3 97.6h1v1h-1zM135.5 99.6h1v1h-1zM131.1 98.0h1v1h-1zM126.6 103.7h1v1h-1zM125.0 99.5h1v1h-1zM130.0 94.8h1v1h-1zM128.3 96.5h1v1h-1zM134.9 92.1h1v1h-1zM129.8 89.3h1v1h-1zM122.9 92.6h1v1h-1zM137.5 100.0h1v1h-1zM132.6 98.2h1v1h-1zM128.9 101.6h1v1h-1zM130.3 95.8h1v1h-1zM136.1 96.9h1v1h-1zM130.5 90.8h1v1h-1zM136.6 95.8h1v1h-1zM130.6 96.5h1v1h-1zM138.5 95.5h1v1h-1zM131.9 96.2h1v1h-1zM135.8 97.2h1v1h-1zM127.3 93.2h1v1h-1zM132.3 96.1h1v1h-1zM126.7 101.7h1v1h-1zM129.6 102.9h1v1h-1zM132.1 105.3h1v1h-1zM130.2 97.1h1v1h-1zM126.8 93.3h1v1h-1zM136.2 102.4h1v1h-1zM126.9 103.2h1v1h-1zM132.2 93.2h1v1h-1zM126.8 90.2h1v1h-1zM137.3 103.5h1v1h-1zM125.9 92.6h1v1h-1zM129.6 97.8h1v1h-1zM124.0 103.3h1v1h-1zM134.3 103.3h1v1h-1zM127.1 98.4h1v1h-1zM123.8 101.6h1v1h-1zM128.4 97.3h1v1h-1zM124.4 94.6h1v1h-1zM132.4 99.2h1v1h-1zM130.5 100.1h1v1h-1zM129.6 95.1h1v1h-1zM126.8 98.2h1v1h-1zM131.6 106.8h1v1h-1zM132.1 99.5h1v1h-1zM129.6 95.2h1v1h-1zM128.4 100.9h1v1h-1zM130.6 90.9h1v1h-1zM130.4 94.0h1v1h-1zM126.7 89.9h1v1h-1zM126.8 100.6h1v1h-1zM127.2 99.9h1v1h-1zM128.0 93.4h1v1h-1zM138.5 95.6h1v1h-1zM132.6 102.8h1v1h-1zM125.6 100.8h1v1h-1zM129.9 100.3h1v1h-1zM139.0 95.3h1v1h-1zM125.4 105.8h1v1h-1zM128.0 94.5h1v1h-1zM135.0 98.6h1v1h-1zM126.1 99.6h1v1h-1zM129.2 97.3h1v1h-1zM127.7 105.7h1v1h-1zM129.8 101.4h1v1h-1zM122.9 103.8h1v1h-1zM125.4 90.6h1v1h-1zM138.5 95.9h1v1h-1zM128.3 103.4h1v1h-1zM130.8 102.5h1v1h-1zM131.2 100.2h1v1h-1zM135.5 102.7h1v1h-1zM124.9 95.7h1v1h-1zM123.4 98.3h1v1h-1zM132.6 98.3h1v1h-1zM128.4 105.4h1v1h-1zM130.1 105.6h1v1h-1zM134.0 91.2h1v1h-1zM128.9 89.3h1v1h-1zM133.4 102.8h1v1h-1zM123.5 93.9h1v1h-1zM132.4 97.1h1v1h-1zM127.9 94.1h1v1h-1zM125.1 100.5h1v1h-1zM137.5 93.9h1v1h-1zM127.0 100.4h1v1h-1zM129.4 100.7h1v1h-1zM123.1 100.8h1v1h-1zM136.6 99.7h1v1h-1zM131.6 104.7h1v1h-1zM127.0 101.8h1v1h-1zM130.1 100.3h1v1h-1zM125.2 102.6h1v1h-1zM132.4 90.7h1v1h-1zM127.8 96.8h1v1h-1zM133.5 95.3h1v1h-1zM133.4 93.0h1v1h-1zM132.9 104.5h1v1h-1zM129.7 95.1h1v1h-1zM125.4 104.0h1v1h-1zM131.0 91.1h1v1h-1zM132.5 91.2h1v1h-1zM125.6 98.9h1v1h-1zM137.6 96.9h1v1h-1zM132.3 94.5h1v1h-1zM137.9 100.6h1v1h-1zM129.2 103.3h1v1h-1zM125.8 94.6h1v1h-1zM121.6 96.5h1v1h-1zM133.2 95.0h1v1h-1zM124.6 93.5h1v1h-1zM137.3 97.2h1v1h-1zM123.7 101.2h1v1h-1zM135.2 103.1h1v1h-1zM124.2 100.7h1v1h-1zM130.5 105.5h1v1h-1zM134.5 93.1h1v1h-1zM130.2 99.2h1v1h-1zM131.3 99.1h1v1h-1zM127.5 91.9h1v1h-1zM136.1 93.1h1v1h-1zM127.9 92.3h1v1h-1zM123.0 94.1h1v1h-1zM124.3 99.5h1v1h-1zM124.7 101.2h1v1h-1zM132.3 99.3h1v1h-1zM126.3 96.7h1v1h-1zM122.6 99.1h1v1h-1zM130.5 96.1h1v1h-1zM137.5 102.4h1v1h-1zM133.7 95.1h1v1h-1zM126.0 101.4h1v1h-1zM124.1 92.1h1v1h-1zM121.5 96.3h1v1h-1zM136.8 99.0h1v1h-1zM132.7 104.8h1v1h-1zM128.7 91.0h1v1h-1zM129.2 94.7h1v1h-1zM128.7 94.2h1v1h-1zM131.4 96.3h1v1h-1zM128.4 98.0h1v1h-1zM131.6 102.7h1v1h-1zM123.6 94.7h1v1h-1zM123.5 95.2h1v1h-1zM132.6 91.7h1v1h-1zM127.8 100.9h1v1h-1zM122.9 100.9h1v1h-1zM130.0 98.0h1v1h-1zM125.2 96.8h1v1h-1zM133.1 93.3h1v1h-1zM135.1 99.0h1v1h-1zM127.3 89.4h1v1h-1zM124.9 94.4h1v1h-1zM128.6 96.8h1v1h-1zM134.3 93.8h1v1h-1zM130.9 104.0h1v1h-1zM135.8 99.6h1v1h-1zM130.3 105.3h1v1h-1zM131.2 97.9h1v1h-1zM120.6 99.2h1v1h-1zM133.5 100.3h1v1h-1zM122.7 93.1h1v1h-1zM138.1 96.1h1v1h-1zM130.5 94.7h1v1h-1zM122.5 95.1h1v1h-1zM136.6 97.0h1v1h-1zM121.5 96.9h1v1h-1zM126.8 98.2h1v1h-1zM127.0 90.0h1v1h-1zM132.2 91.4h1v1h-1zM126.6 89.6h1v1h-1zM134.3 103.7h1v1h-1zM134.2 101.5h1v1h-1zM132.2 97.4h1v1h-1zM129.5 99.9h1v1h-1zM126.9 99.0h1v1h-1zM123.8 101.7h1v1h-1zM123.7 102.4h1v1h-1zM135.8 103.3h1v1h-1zM133.5 92.8h1v1h-1zM127.4 96.1h1v1h-1zM122.5 97.2h1v1h-1zM128.7 92.5h1v1h-1zM138.2 94.5h1v1h-1zM128.5 93.6h1v1h-1zM135.6 100.9h1v1h-1zM126.1 94.0h1v1h-1zM138.3 98.2h1v1h-1zM130.9 93.2h1v1h-1zM124.2 92.8h1v1h-1zM130.9 96.6h1v1h-1zM124.5 96.5h1v1h-1zM134.8 101.7h1v1h-1zM124.5 97.7h1v1h-1zM125.7 102.3h1v1h-1zM126.3 104.3h1v1h-1zM136.5 98.9h1v1h-1zM129.4 98.7h1v1h-1zM127.6 97.7h1v1h-1zM126.1 102.4h1v1h-1zM131.6 102.4h1v1h-1zM126.3 104.4h1v1h-1zM139.2 98.7h1v1h-1zM134.3 96.7h1v1h-1zM134.0 90.1h1v1h-1zM126.0 98.6h1v1h-1zM126.3 94.1h1v1h-1zM125.9 92.5h1v1h-1zM129.8 104.9h1v1h-1zM124.2 100.4h1v1h-1zM136.6 103.7h1v1h-1zM130.6 106.7h1v1h-1zM131.5 96.9h1v1h-1zM131.7 102.2h1v1h-1zM135.9 103.0h1v1h-1zM138.1 100.4h1v1h-1zM121.3 97.7h1v1h-1zM128.8 95.2h1v1h-1zM127.5 90.7h1v1h-1zM136.4 98.3h1v1h-1zM128.4 91.5h1v1h-1zM134.0 94.8h1v1h-1zM123.8 97.3h1v1h-1zM128.9 98.5h1v1h-1zM128.3 99.3h1v1h-1zM126.1 96.5h1v1h-1zM123.4 97.5h1v1h-1zM125.0 102.2h1v1h-1zM157.6 94.6h1v1h-1zM165.3 90.7h1v1h-1zM147.4 89.9h1v1h-1zM153.0 90.4h1v1h-1zM165.0 95.7h1v1h-1zM161.2 95.9h1v1h-1zM153.3 90.4h1v1h-1zM154.4 98.2h1v1h-1zM168.3 94.6h1v1h-1zM145.7 95.7h1v1h-1zM149.5 88.0h1v1h-1zM157.6 94.4h1v1h-1zM148.8 93.4h1v1h-1zM154.6 96.7h1v1h-1zM145.7 91.5h1v1h-1zM150.9 90.8h1v1h-1zM160.3 92.4h1v1h-1zM157.6 91.2h1v1h-1zM154.0 91.8h1v1h-1zM142.7 93.3h1v1h-1zM157.2 91.5h1v1h-1zM147.7 92.0h1v1h-1zM146.9 91.4h1v1h-1zM165.6 92.9h1v1h-1zM151.9 92.1h1v1h-1zM145.1 91.7h1v1h-1zM146.8 95.5h1v1h-1zM164.9 94.6h1v1h-1zM160.1 90.7h1v1h-1zM155.9 89.8h1v1h-1zM154.1 93.9h1v1h-1zM164.1 90.2h1v1h-1zM152.0 96.3h1v1h-1zM158.4 97.3h1v1h-1zM155.9 90.9h1v1h-1zM164.2 88.6h1v1h-1zM150.8 92.8h1v1h-1zM155.5 87.2h1v1h-1zM159.6 92.1h1v1h-1zM161.9 93.3h1v1h-1zM149.8 89.8h1v1h-1zM164.6 92.2h1v1h-1zM155.2 97.5h1v1h-1zM158.0 90.0h1v1h-1zM163.8 90.2h1v1h-1zM154.7 98.6h1v1h-1zM149.9 89.6h1v1h-1zM164.6 93.0h1v1h-1zM147.7 93.5h1v1h-1zM159.2 90.6h1v1h-1zM158.0 86.8h1v1h-1zM153.4 87.9h1v1h-1zM154.9 89.2h1v1h-1zM165.5 89.8h1v1h-1zM155.6 97.9h1v1h-1zM157.9 86.7h1v1h-1zM163.6 94.5h1v1h-1zM154.8 92.5h1v1h-1zM144.8 91.0h1v1h-1zM141.6 93.1h1v1h-1zM159.1 90.0h1v1h-1zM167.4 94.0h1v1h-1zM155.0 97.1h1v1h-1zM157.0 98.6h1v1h-1zM166.8 89.3h1v1h-1zM150.2 97.6h1v1h-1zM155.2 94.7h1v1h-1zM169.1 90.3h1v1h-1zM158.7 90.6h1v1h-1zM143.2 96.3h1v1h-1zM163.9 93.3h1v1h-1zM150.5 93.0h1v1h-1zM148.9 94.7h1v1h-1zM168.6 92.4h1v1h-1zM146.2 90.5h1v1h-1zM160.1 91.4h1v1h-1zM157.9 97.1h1v1h-1zM165.7 91.4h1v1h-1zM155.0 89.9h1v1h-1zM161.1 94.5h1v1h-1zM146.8 93.1h1v1h-1zM154.3 96.3h1v1h-1zM161.1 96.4h1v1h-1zM161.6 91.9h1v1h-1zM157.5 90.5h1v1h-1zM151.1 93.2h1v1h-1zM154.4 91.0h1v1h-1zM152.3 91.1h1v1h-1zM144.1 91.1h1v1h-1zM160.5 91.0h1v1h-1zM166.0 89.1h1v1h-1zM143.9 91.2h1v1h-1zM161.0 96.3h1v1h-1zM167.8 90.8h1v1h-1zM149.6 97.3h1v1h-1zM158.5 90.3h1v1h-1zM142.7 91.7h1v1h-1zM158.9 96.2h1v1h-1zM162.9 91.1h1v1h-1zM151.0 91.5h1v1h-1zM155.9 96.2h1v1h-1zM153.2 96.1h1v1h-1zM167.6 93.8h1v1h-1zM158.2 87.2h1v1h-1zM147.1 92.8h1v1h-1zM156.0 94.9h1v1h-1zM154.5 93.7h1v1h-1zM156.4 87.9h1v1h-1zM161.0 97.6h1v1h-1zM151.1 93.1h1v1h-1zM148.7 89.1h1v1h-1zM142.6 90.8h1v1h-1zM167.5 93.8h1v1h-1zM150.8 95.1h1v1h-1zM166.3 96.3h1v1h-1zM159.7 95.3h1v1h-1zM162.1 91.5h1v1h-1zM160.4 96.4h1v1h-1zM142.9 92.9h1v1h-1zM157.2 90.3h1v1h-1zM159.3 89.2h1v1h-1zM144.7 91.0h1v1h-1zM156.5 97.1h1v1h-1zM150.2 92.9h1v1h-1zM146.8 89.8h1v1h-1zM152.4 88.3h1v1h-1zM167.5 92.7h1v1h-1zM155.8 89.7h1v1h-1zM150.1 91.6h1v1h-1zM153.5 97.3h1v1h-1zM146.0 94.0h1v1h-1zM163.0 92.6h1v1h-1zM169.4 91.8h1v1h-1zM157.3 92.8h1v1h-1zM151.9 94.6h1v1h-1zM163.0 95.9h1v1h-1zM168.5 90.9h1v1h-1zM164.1 95.5h1v1h-1zM154.4 94.1h1v1h-1zM156.9 96.8h1v1h-1zM152.3 91.9h1v1h-1zM146.1 91.1h1v1h-1zM168.3 93.5h1v1h-1zM166.1 89.0h1v1h-1zM167.2 94.2h1v1h-1zM151.4 95.8h1v1h-1zM152.9 98.6h1v1h-1zM148.6 89.8h1v1h-1zM151.3 90.6h1v1h-1zM165.5 89.9h1v1h-1zM149.1 96.8h1v1h-1zM161.3 94.5h1v1h-1zM151.7 96.0h1v1h-1zM158.0 87.7h1v1h-1zM151.5 92.4h1v1h-1zM162.6 90.3h1v1h-1zM157.8 92.4h1v1h-1zM158.9 97.2h1v1h-1zM141.9 94.0h1v1h-1zM146.3 89.1h1v1h-1zM167.7 92.8h1v1h-1zM158.0 91.8h1v1h-1zM147.5 89.2h1v1h-1zM153.0 96.8h1v1h-1zM157.5 91.4h1v1h-1zM148.9 88.2h1v1h-1zM164.3 92.3h1v1h-1zM147.8 89.5h1v1h-1zM154.6 89.5h1v1h-1zM147.8 93.4h1v1h-1zM146.3 89.7h1v1h-1zM151.3 87.8h1v1h-1zM144.6 93.1h1v1h-1zM151.7 93.4h1v1h-1zM143.6 91.8h1v1h-1zM147.1 89.8h1v1h-1zM163.0 97.1h1v1h-1zM160.9 89.2h1v1h-1zM150.8 90.2h1v1h-1zM151.5 91.7h1v1h-1zM154.7 90.3h1v1h-1zM147.2 89.7h1v1h-1zM169.1 89.4h1v1h-1zM163.9 89.8h1v1h-1zM141.5 92.3h1v1h-1zM163.4 87.6h1v1h-1zM164.9 94.4h1v1h-1zM144.8 89.3h1v1h-1zM155.9 94.5h1v1h-1zM161.8 93.1h1v1h-1zM159.1 87.2h1v1h-1zM157.3 91.8h1v1h-1zM147.9 91.3h1v1h-1zM160.8 96.1h1v1h-1zM152.7 95.0h1v1h-1zM154.8 97.4h1v1h-1zM159.0 88.6h1v1h-1zM152.3 97.5h1v1h-1zM153.3 91.3h1v1h-1zM160.6 95.9h1v1h-1zM160.0 94.2h1v1h-1zM161.4 91.8h1v1h-1zM150.4 92.1h1v1h-1zM162.2 88.4h1v1h-1zM147.4 93.1h1v1h-1zM168.1 89.7h1v1h-1zM167.3 91.6h1v1h-1zM164.8 92.2h1v1h-1zM159.4 91.8h1v1h-1zM167.3 95.6h1v1h-1zM157.5 92.0h1v1h-1zM162.0 88.9h1v1h-1zM161.0 94.0h1v1h-1zM147.7 97.0h1v1h-1zM150.0 93.0h1v1h-1zM157.3 93.4h1v1h-1zM146.5 91.9h1v1h-1zM164.6 93.0h1v1h-1zM154.9 91.6h1v1h-1zM148.1 96.7h1v1h-1zM149.3 98.2h1v1h-1zM152.1 92.8h1v1h-1zM143.8 92.5h1v1h-1zM159.7 91.9h1v1h-1zM155.5 93.2h1v1h-1zM150.5 90.0h1v1h-1zM151.6 90.2h1v1h-1zM160.5 90.1h1v1h-1zM162.4 90.9h1v1h-1zM161.0 89.2h1v1h-1zM151.1 90.4h1v1h-1zM151.8 93.2h1v1h-1zM147.3 94.5h1v1h-1zM156.6 92.3h1v1h-1zM156.7 96.0h1v1h-1zM155.6 97.9h1v1h-1zM162.3 91.0h1v1h-1zM162.4 90.2h1v1h-1zM154.4 91.9h1v1h-1zM170.5 90.7h1v1h-1zM157.5 94.4h1v1h-1zM146.0 94.8h1v1h-1zM149.4 90.3h1v1h-1zM153.4 96.4h1v1h-1zM167.0 93.2h1v1h-1zM165.9 89.8h1v1h-1zM150.3 96.3h1v1h-1zM152.9 93.7h1v1h-1zM160.6 88.4h1v1h-1zM142.4 93.9h1v1h-1zM147.1 93.2h1v1h-1zM161.3 88.0h1v1h-1zM162.2 97.2h1v1h-1zM150.1 96.7h1v1h-1zM158.9 95.1h1v1h-1zM165.6 92.9h1v1h-1zM155.7 95.0h1v1h-1zM149.4 90.0h1v1h-1zM154.6 92.7h1v1h-1zM154.4 87.2h1v1h-1zM153.1 94.6h1v1h-1zM157.3 94.6h1v1h-1zM158.3 94.7h1v1h-1zM162.8 87.6h1v1h-1zM165.1 88.9h1v1h-1zM158.6 94.9h1v1h-1zM162.5 93.5h1v1h-1zM168.6 89.2h1v1h-1zM156.4 91.2h1v1h-1zM159.8 96.9h1v1h-1zM158.6 93.1h1v1h-1zM166.4 93.7h1v1h-1zM149.5 92.3h1v1h-1zM165.3 90.3h1v1h-1zM156.9 92.4h1v1h-1zM159.6 87.8h1v1h-1zM152.0 89.3h1v1h-1zM164.0 92.2h1v1h-1zM156.6 94.8h1v1h-1zM153.9 89.3h1v1h-1zM157.0 95.0h1v1h-1zM158.1 89.9h1v1h-1zM166.1 95.4h1v1h-1zM151.6 98.1h1v1h-1zM162.3 97.4h1v1h-1zM151.3 92.4h1v1h-1zM148.0 92.5h1v1h-1zM160.1 94.3h1v1h-1zM150.2 96.4h1v1h-1zM162.1 91.3h1v1h-1zM162.5 97.4h1v1h-1zM159.1 96.6h1v1h-1zM153.3 92.7h1v1h-1zM159.5 95.0h1v1h-1zM160.6 97.3h1v1h-1zM153.3 95.7h1v1h-1zM145.4 96.6h1v1h-1zM151.6 95.2h1v1h-1zM155.9 91.3h1v1h-1zM154.0 98.5h1v1h-1zM165.5 93.2h1v1h-1zM151.8 89.0h1v1h-1zM154.2 98.5h1v1h-1zM154.8 94.0h1v1h-1zM162.1 89.5h1v1h-1zM167.6 92.5h1v1h-1zM164.3 87.5h1v1h-1zM156.0 97.0h1v1h-1zM154.9 94.3h1v1h-1zM152.0 89.1h1v1h-1zM154.3 88.9h1v1h-1zM160.1 93.2h1v1h-1zM155.9 93.5h1v1h-1zM158.8 93.6h1v1h-1zM154.8 91.7h1v1h-1zM167.2 95.2h1v1h-1zM159.2 88.3h1v1h-1zM156.9 94.8h1v1h-1zM144.4 94.6h1v1h-1zM152.8 88.8h1v1h-1z" fill="#111" fill-opacity="0.92"/>
<path d="M164.1 51.5h1v1h-1zM157.2 69.5h1v1h-1zM168.6 62.4h1v1h-1zM149.8 71.4h1v1h-1zM149.2 60.3h1v1h-1zM156.9 79.7h1v1h-1zM184.5 79.3h1v1h-1zM166.9 59.3h1v1h-1zM162.4 69.8h1v1h-1zM115.8 72.0h1v1h-1zM170.6 63.5h1v1h-1zM166.4 76.0h1v1h-1zM135.4 66.8h1v1h-1zM150.6 75.5h1v1h-1zM149.4 75.7h1v1h-1zM161.9 68.9h1v1h-1zM164.5 91.9h1v1h-1zM155.7 71.5h1v1h-1zM138.1 76.4h1v1h-1zM136.5 56.5h1v1h-1zM155.2 69.3h1v1h-1zM156.3 64.7h1v1h-1zM131.4 60.5h1v1h-1zM166.6 76.9h1v1h-1zM167.0 66.6h1v1h-1zM136.7 59.5h1v1h-1zM148.3 72.9h1v1h-1zM151.9 68.4h1v1h-1zM168.4 66.0h1v1h-1zM145.2 68.5h1v1h-1zM137.3 68.1h1v1h-1zM149.2 67.1h1v1h-1zM148.7 79.7h1v1h-1zM156.2 58.3h1v1h-1zM136.1 77.0h1v1h-1zM181.4 68.5h1v1h-1zM145.7 74.7h1v1h-1zM135.4 69.5h1v1h-1zM166.7 78.2h1v1h-1zM158.2 65.8h1v1h-1zM139.2 63.3h1v1h-1zM159.9 85.3h1v1h-1zM170.0 80.6h1v1h-1zM181.2 77.5h1v1h-1zM149.8 82.2h1v1h-1zM141.5 59.7h1v1h-1zM154.6 63.7h1v1h-1zM134.3 73.9h1v1h-1zM149.4 62.0h1v1h-1zM140.2 78.9h1v1h-1zM168.6 75.5h1v1h-1zM134.5 77.1h1v1h-1zM150.6 72.4h1v1h-1zM148.7 63.4h1v1h-1zM157.0 71.0h1v1h-1zM169.9 67.1h1v1h-1zM156.5 72.2h1v1h-1zM138.0 66.9h1v1h-1zM171.0 72.9h1v1h-1zM133.3 69.5h1v1h-1zM154.3 70.6h1v1h-1zM152.3 69.6h1v1h-1zM138.1 69.5h1v1h-1zM165.3 62.7h1v1h-1zM158.1 73.6h1v1h-1zM157.6 64.8h1v1h-1zM141.5 65.8h1v1h-1zM148.1 77.2h1v1h-1zM142.6 64.8h1v1h-1zM145.8 76.5h1v1h-1zM177.0 52.3h1v1h-1zM154.8 56.5h1v1h-1zM135.3 78.8h1v1h-1zM132.2 49.0h1v1h-1zM153.1 70.5h1v1h-1zM129.6 69.1h1v1h-1zM136.5 89.6h1v1h-1zM159.9 80.9h1v1h-1zM179.0 51.4h1v1h-1zM134.7 78.5h1v1h-1zM164.0 77.4h1v1h-1zM170.1 80.4h1v1h-1zM148.0 69.4h1v1h-1zM170.3 68.5h1v1h-1zM173.4 55.8h1v1h-1zM139.3 65.5h1v1h-1zM145.5 61.5h1v1h-1zM153.3 70.4h1v1h-1zM155.9 52.2h1v1h-1zM148.9 60.4h1v1h-1zM160.1 63.9h1v1h-1zM148.0 83.8h1v1h-1zM167.3 63.2h1v1h-1zM132.6 68.0h1v1h-1zM140.9 75.4h1v1h-1zM171.1 74.5h1v1h-1zM157.7 63.0h1v1h-1zM145.8 57.6h1v1h-1zM149.4 65.4h1v1h-1zM133.8 73.6h1v1h-1zM155.3 68.9h1v1h-1zM160.8 73.1h1v1h-1zM155.3 65.5h1v1h-1zM140.6 68.5h1v1h-1zM147.5 62.1h1v1h-1zM150.3 79.7h1v1h-1zM176.3 60.0h1v1h-1zM129.8 67.3h1v1h-1zM173.9 64.2h1v1h-1zM134.0 60.8h1v1h-1zM167.8 76.8h1v1h-1zM151.7 79.4h1v1h-1zM163.6 73.4h1v1h-1zM125.7 68.4h1v1h-1zM133.3 59.9h1v1h-1zM147.1 72.6h1v1h-1zM145.0 81.2h1v1h-1zM146.2 68.5h1v1h-1zM157.7 81.9h1v1h-1zM168.2 66.8h1v1h-1zM121.3 68.0h1v1h-1zM151.6 58.1h1v1h-1zM126.3 66.1h1v1h-1zM150.7 72.4h1v1h-1zM161.4 58.8h1v1h-1zM181.9 81.2h1v1h-1zM136.9 72.0h1v1h-1zM160.5 72.2h1v1h-1zM161.2 58.3h1v1h-1zM136.3 65.8h1v1h-1zM136.6 81.1h1v1h-1zM159.4 69.5h1v1h-1zM150.5 83.7h1v1h-1zM143.3 57.0h1v1h-1zM163.1 76.2h1v1h-1zM149.8 70.3h1v1h-1zM144.8 68.0h1v1h-1zM127.4 70.0h1v1h-1zM182.6 80.2h1v1h-1zM152.8 62.4h1v1h-1zM172.0 76.8h1v1h-1zM107.5 81.2h1v1h-1zM132.7 72.1h1v1h-1zM148.5 73.8h1v1h-1zM144.1 73.0h1v1h-1zM141.7 69.8h1v1h-1zM148.4 54.4h1v1h-1zM147.6 64.1h1v1h-1zM176.6 74.4h1v1h-1zM119.8 82.8h1v1h-1zM168.1 77.6h1v1h-1zM161.1 64.6h1v1h-1zM143.9 73.9h1v1h-1zM130.2 78.8h1v1h-1zM185.2 70.5h1v1h-1zM124.8 71.0h1v1h-1zM149.3 75.5h1v1h-1zM138.0 72.0h1v1h-1zM148.4 74.4h1v1h-1zM155.9 70.3h1v1h-1zM159.2 74.3h1v1h-1zM164.2 59.8h1v1h-1zM147.6 68.8h1v1h-1zM138.5 88.1h1v1h-1zM178.3 59.5h1v1h-1zM139.1 78.9h1v1h-1zM152.9 81.5h1v1h-1zM133.5 67.8h1v1h-1zM163.3 71.9h1v1h-1zM149.3 79.5h1v1h-1zM147.6 77.2h1v1h-1zM133.7 70.2h1v1h-1zM144.3 75.7h1v1h-1zM134.1 65.1h1v1h-1zM151.7 58.7h1v1h-1zM163.2 75.2h1v1h-1zM137.8 60.3h1v1h-1zM173.2 62.8h1v1h-1zM136.2 63.6h1v1h-1zM150.7 80.4h1v1h-1zM144.0 75.4h1v1h-1zM159.7 89.7h1v1h-1zM165.6 68.6h1v1h-1zM147.4 69.7h1v1h-1zM158.6 64.4h1v1h-1zM159.5 65.3h1v1h-1zM130.1 69.0h1v1h-1zM126.1 60.1h1v1h-1zM151.3 60.9h1v1h-1zM141.4 75.1h1v1h-1zM126.1 74.2h1v1h-1zM165.5 71.3h1v1h-1zM150.7 66.4h1v1h-1zM157.3 62.9h1v1h-1zM161.2 66.1h1v1h-1zM157.1 54.3h1v1h-1zM144.1 79.2h1v1h-1zM158.7 51.1h1v1h-1zM124.6 62.5h1v1h-1zM183.7 56.5h1v1h-1zM157.6 78.5h1v1h-1zM137.5 62.7h1v1h-1zM168.7 76.3h1v1h-1zM169.4 65.2h1v1h-1zM158.4 76.2h1v1h-1zM166.2 65.5h1v1h-1zM163.6 73.3h1v1h-1zM144.9 67.9h1v1h-1zM135.8 70.5h1v1h-1zM146.8 64.5h1v1h-1zM159.3 78.3h1v1h-1zM161.0 79.3h1v1h-1zM130.0 79.7h1v1h-1zM160.3 79.0h1v1h-1zM151.5 74.3h1v1h-1zM165.7 77.7h1v1h-1zM132.3 68.7h1v1h-1zM150.5 67.1h1v1h-1zM152.4 74.9h1v1h-1zM154.7 66.8h1v1h-1zM144.8 64.7h1v1h-1zM160.9 69.1h1v1h-1zM145.2 70.2h1v1h-1zM169.5 79.2h1v1h-1zM155.0 65.5h1v1h-1zM161.5 69.8h1v1h-1zM149.8 75.8h1v1h-1zM152.5 80.8h1v1h-1zM180.1 71.1h1v1h-1zM168.1 51.7h1v1h-1zM148.2 66.6h1v1h-1zM151.1 74.1h1v1h-1zM171.6 65.5h1v1h-1zM147.5 56.7h1v1h-1zM153.1 49.0h1v1h-1zM158.8 77.0h1v1h-1zM132.7 71.9h1v1h-1zM141.6 70.0h1v1h-1zM144.1 81.0h1v1h-1zM177.9 76.9h1v1h-1zM166.4 74.4h1v1h-1zM159.7 66.3h1v1h-1zM142.8 69.4h1v1h-1zM168.7 77.2h1v1h-1zM165.4 65.1h1v1h-1zM164.5 66.5h1v1h-1zM139.9 55.5h1v1h-1zM163.7 81.6h1v1h-1zM150.0 77.9h1v1h-1zM172.8 83.4h1v1h-1zM149.3 77.8h1v1h-1zM161.7 63.3h1v1h-1zM135.3 65.1h1v1h-1zM156.9 61.5h1v1h-1zM161.1 66.2h1v1h-1zM155.3 69.9h1v1h-1zM160.1 61.1h1v1h-1zM159.3 66.7h1v1h-1zM174.7 77.4h1v1h-1zM142.7 73.3h1v1h-1zM164.5 61.1h1v1h-1zM158.0 80.2h1v1h-1zM149.2 68.5h1v1h-1zM133.0 68.5h1v1h-1zM165.4 85.8h1v1h-1zM139.4 77.2h1v1h-1zM146.5 77.8h1v1h-1zM167.6 69.0h1v1h-1zM141.7 71.3h1v1h-1zM142.8 73.6h1v1h-1zM168.8 80.8h1v1h-1zM170.5 62.6h1v1h-1zM164.1 67.7h1v1h-1zM175.4 62.8h1v1h-1zM146.0 61.9h1v1h-1zM147.2 51.0h1v1h-1zM154.6 71.7h1v1h-1zM149.4 67.8h1v1h-1zM176.6 60.7h1v1h-1zM161.0 69.9h1v1h-1zM148.1 71.2h1v1h-1zM150.8 66.2h1v1h-1zM160.8 73.5h1v1h-1zM169.0 83.8h1v1h-1zM173.4 64.0h1v1h-1zM148.1 61.9h1v1h-1zM155.8 75.0h1v1h-1zM158.7 71.7h1v1h-1zM149.2 79.9h1v1h-1zM170.4 74.4h1v1h-1zM140.2 70.0h1v1h-1zM166.4 73.9h1v1h-1zM167.6 59.5h1v1h-1zM149.8 63.4h1v1h-1zM165.3 82.1h1v1h-1zM167.3 74.6h1v1h-1zM146.8 74.0h1v1h-1zM165.1 72.1h1v1h-1zM137.1 65.9h1v1h-1zM161.4 59.5h1v1h-1zM163.4 68.7h1v1h-1zM148.4 77.0h1v1h-1zM160.5 75.1h1v1h-1zM138.1 70.0h1v1h-1zM146.3 83.4h1v1h-1zM148.5 52.1h1v1h-1zM133.9 67.1h1v1h-1zM125.0 59.6h1v1h-1zM139.0 83.8h1v1h-1zM127.4 69.4h1v1h-1zM155.6 63.5h1v1h-1zM139.3 65.1h1v1h-1zM160.6 76.7h1v1h-1zM166.0 67.9h1v1h-1zM168.6 78.9h1v1h-1zM132.7 71.9h1v1h-1zM165.7 77.0h1v1h-1zM134.5 73.3h1v1h-1zM134.2 71.6h1v1h-1zM160.4 69.7h1v1h-1zM166.2 72.4h1v1h-1zM155.9 71.4h1v1h-1zM152.8 54.8h1v1h-1zM162.6 70.2h1v1h-1zM156.5 77.6h1v1h-1zM159.1 69.8h1v1h-1zM138.9 76.3h1v1h-1zM157.1 76.9h1v1h-1zM146.6 58.4h1v1h-1zM159.6 58.1h1v1h-1zM148.9 73.7h1v1h-1zM175.1 71.2h1v1h-1zM159.7 58.1h1v1h-1zM140.7 65.0h1v1h-1zM168.6 72.6h1v1h-1zM162.6 74.3h1v1h-1zM154.9 59.4h1v1h-1zM176.3 60.1h1v1h-1zM146.8 51.5h1v1h-1zM167.2 80.8h1v1h-1zM140.3 62.5h1v1h-1zM165.8 76.5h1v1h-1zM172.6 62.9h1v1h-1zM176.6 64.1h1v1h-1zM166.9 73.3h1v1h-1zM166.5 59.4h1v1h-1zM136.5 70.5h1v1h-1zM141.8 74.8h1v1h-1zM142.7 77.2h1v1h-1zM145.7 67.5h1v1h-1zM163.3 79.9h1v1h-1zM137.4 65.8h1v1h-1zM139.1 69.0h1v1h-1zM165.6 69.9h1v1h-1zM140.6 68.7h1v1h-1zM142.7 65.9h1v1h-1zM148.8 71.2h1v1h-1zM144.2 77.4h1v1h-1zM133.8 60.8h1v1h-1zM165.6 72.2h1v1h-1zM153.8 78.9h1v1h-1zM181.9 59.8h1v1h-1zM147.3 51.6h1v1h-1zM132.2 70.0h1v1h-1zM168.9 79.6h1v1h-1zM151.1 80.1h1v1h-1zM155.0 79.5h1v1h-1zM128.6 80.0h1v1h-1zM127.7 68.0h1v1h-1zM152.2 79.5h1v1h-1zM140.3 68.8h1v1h-1zM150.4 70.8h1v1h-1zM160.9 75.8h1v1h-1zM144.6 60.4h1v1h-1zM151.5 66.6h1v1h-1zM159.9 88.0h1v1h-1zM159.1 73.7h1v1h-1zM137.3 66.9h1v1h-1zM173.6 58.7h1v1h-1zM138.8 65.6h1v1h-1zM111.5 78.1h1v1h-1zM166.2 75.9h1v1h-1zM154.9 58.1h1v1h-1zM175.6 78.3h1v1h-1zM175.3 64.2h1v1h-1zM168.0 85.1h1v1h-1zM154.7 71.1h1v1h-1zM146.1 58.3h1v1h-1zM156.5 60.4h1v1h-1zM156.8 70.9h1v1h-1zM137.6 59.2h1v1h-1zM138.5 81.2h1v1h-1zM141.0 76.1h1v1h-1zM144.1 58.7h1v1h-1zM148.1 66.5h1v1h-1zM143.3 57.1h1v1h-1zM153.2 58.7h1v1h-1zM143.7 66.7h1v1h-1zM151.7 81.7h1v1h-1zM153.3 61.0h1v1h-1zM149.6 77.2h1v1h-1zM168.1 82.0h1v1h-1zM96.3 66.4h1v1h-1zM162.8 92.1h1v1h-1zM141.8 61.9h1v1h-1zM157.4 71.8h1v1h-1zM145.3 70.1h1v1h-1zM145.6 65.6h1v1h-1zM172.1 64.5h1v1h-1zM181.4 74.8h1v1h-1zM148.6 64.9h1v1h-1zM137.2 78.5h1v1h-1zM164.8 65.0h1v1h-1zM165.8 52.3h1v1h-1zM174.6 87.1h1v1h-1zM154.9 87.5h1v1h-1zM144.3 76.7h1v1h-1zM133.0 101.2h1v1h-1zM133.0 100.7h1v1h-1zM141.5 97.8h1v1h-1zM145.8 87.5h1v1h-1zM165.6 93.3h1v1h-1zM129.9 94.2h1v1h-1zM170.7 97.9h1v1h-1zM156.7 91.7h1v1h-1zM181.2 98.7h1v1h-1zM146.7 81.8h1v1h-1zM131.0 85.4h1v1h-1zM167.3 94.9h1v1h-1zM155.6 89.0h1v1h-1zM150.4 87.4h1v1h-1zM141.6 89.1h1v1h-1zM157.5 91.1h1v1h-1zM111.1 98.3h1v1h-1zM163.2 96.0h1v1h-1zM146.4 96.3h1v1h-1zM155.3 96.9h1v1h-1zM161.3 89.5h1v1h-1zM166.7 79.1h1v1h-1zM126.8 92.7h1v1h-1zM102.6 83.2h1v1h-1zM179.1 93.8h1v1h-1zM162.6 80.8h1v1h-1zM157.5 89.6h1v1h-1zM130.6 82.5h1v1h-1zM170.9 93.8h1v1h-1zM162.5 80.5h1v1h-1zM129.0 98.8h1v1h-1zM162.5 87.4h1v1h-1zM152.1 103.0h1v1h-1zM152.6 82.6h1v1h-1zM138.2 86.2h1v1h-1zM154.3 90.6h1v1h-1zM137.9 94.7h1v1h-1zM162.4 92.5h1v1h-1zM170.7 81.3h1v1h-1zM146.9 92.6h1v1h-1zM185.5 83.7h1v1h-1zM154.2 79.4h1v1h-1zM146.6 84.9h1v1h-1zM151.0 89.8h1v1h-1zM147.3 94.0h1v1h-1zM173.0 97.2h1v1h-1zM138.1 92.2h1v1h-1zM156.8 80.2h1v1h-1zM135.2 76.5h1v1h-1zM159.3 97.0h1v1h-1zM177.0 94.9h1v1h-1zM152.0 88.2h1v1h-1zM148.4 92.3h1v1h-1zM161.4 81.3h1v1h-1zM152.5 100.9h1v1h-1zM183.6 84.1h1v1h-1zM149.2 91.0h1v1h-1zM143.0 94.0h1v1h-1zM147.9 84.0h1v1h-1zM159.9 85.4h1v1h-1zM182.6 80.0h1v1h-1zM147.6 89.5h1v1h-1zM160.0 76.6h1v1h-1zM170.3 98.4h1v1h-1zM164.4 93.4h1v1h-1zM149.6 94.0h1v1h-1zM120.9 74.0h1v1h-1zM111.3 89.6h1v1h-1zM151.1 93.7h1v1h-1zM145.7 102.7h1v1h-1zM144.7 95.7h1v1h-1zM168.0 83.1h1v1h-1zM124.6 98.6h1v1h-1zM159.1 93.7h1v1h-1zM137.3 84.5h1v1h-1zM139.5 78.2h1v1h-1zM147.8 86.0h1v1h-1zM149.9 84.9h1v1h-1zM163.8 93.3h1v1h-1zM136.9 95.5h1v1h-1zM169.9 96.7h1v1h-1zM114.5 104.4h1v1h-1zM120.2 91.7h1v1h-1zM160.2 81.1h1v1h-1zM148.3 87.5h1v1h-1zM158.2 88.6h1v1h-1zM155.3 95.9h1v1h-1zM158.0 94.8h1v1h-1zM170.5 95.3h1v1h-1zM162.7 85.5h1v1h-1zM169.4 77.9h1v1h-1zM121.7 83.7h1v1h-1zM151.5 99.6h1v1h-1zM151.1 89.5h1v1h-1zM165.2 89.6h1v1h-1zM122.1 88.6h1v1h-1zM143.3 90.5h1v1h-1zM186.2 89.1h1v1h-1zM137.0 90.3h1v1h-1zM166.7 90.2h1v1h-1zM180.3 88.5h1v1h-1zM166.8 98.1h1v1h-1zM169.0 94.2h1v1h-1zM155.8 89.5h1v1h-1zM107.5 89.8h1v1h-1zM167.2 94.4h1v1h-1zM162.3 77.2h1v1h-1zM130.2 88.0h1v1h-1zM127.4 87.3h1v1h-1zM176.7 88.6h1v1h-1zM154.0 95.0h1v1h-1zM126.8 90.6h1v1h-1zM155.7 84.6h1v1h-1zM154.7 92.8h1v1h-1zM152.3 88.3h1v1h-1zM170.3 90.5h1v1h-1zM168.6 71.5h1v1h-1zM150.3 96.5h1v1h-1zM159.0 92.4h1v1h-1zM162.0 101.7h1v1h-1zM145.4 79.5h1v1h-1zM153.7 85.4h1v1h-1zM172.5 88.3h1v1h-1zM149.1 102.6h1v1h-1zM152.0 91.3h1v1h-1zM152.6 86.3h1v1h-1zM184.5 89.2h1v1h-1zM129.4 105.7h1v1h-1zM134.1 85.2h1v1h-1zM144.3 104.7h1v1h-1zM141.3 86.2h1v1h-1zM146.6 95.5h1v1h-1zM133.1 104.5h1v1h-1zM130.9 85.4h1v1h-1zM151.8 87.5h1v1h-1zM128.4 82.6h1v1h-1zM186.3 97.9h1v1h-1zM148.8 90.1h1v1h-1zM169.2 88.8h1v1h-1zM173.8 72.7h1v1h-1zM165.3 91.2h1v1h-1zM137.7 90.3h1v1h-1zM148.1 83.5h1v1h-1zM134.7 91.0h1v1h-1zM155.7 81.4h1v1h-1zM126.0 99.3h1v1h-1zM102.6 98.1h1v1h-1zM157.1 92.3h1v1h-1zM140.3 76.2h1v1h-1zM166.8 92.0h1v1h-1zM148.4 78.9h1v1h-1zM127.6 86.4h1v1h-1zM167.5 83.3h1v1h-1zM143.6 93.3h1v1h-1zM136.3 101.2h1v1h-1zM162.1 84.8h1v1h-1zM156.4 109.3h1v1h-1zM167.9 92.3h1v1h-1zM130.0 96.0h1v1h-1zM176.9 92.6h1v1h-1zM163.2 91.1h1v1h-1zM124.9 94.2h1v1h-1zM160.7 99.5h1v1h-1zM161.8 90.6h1v1h-1zM149.6 92.6h1v1h-1zM159.8 81.4h1v1h-1zM161.1 83.1h1v1h-1zM148.2 89.4h1v1h-1zM165.5 87.5h1v1h-1zM131.3 79.4h1v1h-1zM139.0 93.5h1v1h-1zM154.6 77.4h1v1h-1zM166.6 86.2h1v1h-1zM141.3 97.0h1v1h-1zM131.0 84.1h1v1h-1zM163.4 81.3h1v1h-1zM151.6 102.1h1v1h-1zM157.2 76.8h1v1h-1zM166.0 94.1h1v1h-1zM162.2 84.4h1v1h-1zM154.5 91.6h1v1h-1zM150.8 88.3h1v1h-1zM141.3 96.4h1v1h-1zM161.0 96.8h1v1h-1zM151.4 87.3h1v1h-1zM140.6 99.3h1v1h-1zM136.0 83.8h1v1h-1zM148.6 96.4h1v1h-1zM169.8 86.7h1v1h-1zM147.4 97.7h1v1h-1zM168.5 96.0h1v1h-1zM175.0 86.3h1v1h-1zM184.7 90.3h1v1h-1zM153.5 91.8h1v1h-1zM148.3 98.5h1v1h-1zM150.1 90.5h1v1h-1zM132.8 72.4h1v1h-1zM161.9 90.6h1v1h-1zM164.0 94.4h1v1h-1zM148.9 91.2h1v1h-1zM180.2 87.2h1v1h-1zM147.0 99.6h1v1h-1zM121.7 91.7h1v1h-1zM154.6 107.4h1v1h-1zM149.2 80.3h1v1h-1zM129.5 85.9h1v1h-1zM140.7 90.4h1v1h-1zM134.8 98.7h1v1h-1zM154.6 85.2h1v1h-1zM113.9 103.9h1v1h-1zM167.7 92.7h1v1h-1zM178.0 86.8h1v1h-1zM119.3 83.1h1v1h-1zM140.1 94.9h1v1h-1zM126.3 89.6h1v1h-1zM131.3 83.8h1v1h-1zM115.9 89.2h1v1h-1zM120.3 81.3h1v1h-1zM127.6 74.5h1v1h-1zM125.5 71.1h1v1h-1zM143.3 79.1h1v1h-1zM130.9 114.1h1v1h-1zM121.1 89.4h1v1h-1zM131.0 92.0h1v1h-1zM133.5 87.3h1v1h-1zM118.8 98.8h1v1h-1zM138.1 73.0h1v1h-1zM146.8 77.2h1v1h-1zM132.5 76.5h1v1h-1zM138.3 90.1h1v1h-1zM112.8 114.3h1v1h-1zM147.1 90.3h1v1h-1zM125.6 105.7h1v1h-1zM126.7 69.2h1v1h-1zM130.2 58.5h1v1h-1zM138.5 103.1h1v1h-1zM142.9 82.6h1v1h-1zM118.9 74.7h1v1h-1zM136.4 95.4h1v1h-1zM126.3 94.8h1v1h-1zM133.6 80.4h1v1h-1zM133.1 111.2h1v1h-1zM112.0 78.7h1v1h-1zM135.9 111.8h1v1h-1zM113.5 99.2h1v1h-1zM122.4 76.8h1v1h-1zM125.6 90.3h1v1h-1zM125.1 83.2h1v1h-1zM133.1 78.9h1v1h-1zM124.7 97.5h1v1h-1zM110.0 89.4h1v1h-1zM134.6 91.1h1v1h-1zM118.7 80.6h1v1h-1zM135.0 72.6h1v1h-1zM122.1 66.9h1v1h-1zM122.0 95.8h1v1h-1zM129.0 91.7h1v1h-1zM139.6 79.8h1v1h-1zM139.4 103.1h1v1h-1zM121.0 92.8h1v1h-1zM129.7 73.6h1v1h-1zM122.3 62.7h1v1h-1zM125.6 77.6h1v1h-1zM137.7 101.1h1v1h-1zM122.1 76.6h1v1h-1zM137.4 78.2h1v1h-1zM133.1 84.3h1v1h-1zM139.0 49.6h1v1h-1zM130.6 93.2h1v1h-1zM121.1 87.1h1v1h-1zM124.8 81.5h1v1h-1zM131.5 86.4h1v1h-1zM133.6 93.2h1v1h-1zM130.5 67.0h1v1h-1zM133.5 101.2h1v1h-1zM148.4 81.5h1v1h-1zM136.1 101.4h1v1h-1zM141.7 99.2h1v1h-1zM122.9 102.6h1v1h-1zM135.5 77.1h1v1h-1zM126.9 89.4h1v1h-1zM122.2 66.7h1v1h-1zM126.6 79.7h1v1h-1zM124.6 94.5h1v1h-1zM130.2 90.6h1v1h-1zM130.2 112.5h1v1h-1zM135.4 70.8h1v1h-1zM124.9 96.2h1v1h-1zM131.6 80.6h1v1h-1zM142.5 107.4h1v1h-1zM125.1 119.4h1v1h-1zM127.0 91.2h1v1h-1zM121.2 110.1h1v1h-1zM134.9 70.1h1v1h-1zM119.5 82.2h1v1h-1zM117.4 112.4h1v1h-1zM125.0 89.2h1v1h-1zM121.3 78.0h1v1h-1zM120.2 115.8h1v1h-1zM123.5 71.5h1v1h-1zM132.5 80.9h1v1h-1zM137.2 119.0h1v1h-1zM138.0 99.9h1v1h-1zM127.1 91.4h1v1h-1zM140.0 77.7h1v1h-1zM125.6 93.6h1v1h-1zM125.2 62.1h1v1h-1zM127.4 88.7h1v1h-1zM121.9 99.0h1v1h-1zM123.4 107.6h1v1h-1zM122.5 86.8h1v1h-1zM123.8 82.9h1v1h-1zM122.4 48.2h1v1h-1zM128.6 93.7h1v1h-1zM122.7 80.0h1v1h-1zM135.2 95.7h1v1h-1zM132.7 104.5h1v1h-1zM122.3 84.7h1v1h-1zM136.4 75.4h1v1h-1zM131.6 61.2h1v1h-1zM127.8 94.9h1v1h-1zM125.7 101.3h1v1h-1zM127.7 77.9h1v1h-1zM127.9 87.5h1v1h-1zM133.7 54.3h1v1h-1zM119.1 74.8h1v1h-1zM121.6 90.3h1v1h-1zM127.8 85.4h1v1h-1zM129.0 100.9h1v1h-1zM122.2 101.5h1v1h-1zM132.6 96.2h1v1h-1zM133.1 80.8h1v1h-1z" fill="#333" fill-opacity="0.5"/>
<ellipse cx="115" cy="74.5" rx="11.5" ry="22.5" transform="rotate(8 115 74.5)" fill="none" stroke="#c62b33" stroke-width="2.2"/>
<ellipse cx="152" cy="77" rx="25" ry="7.5" transform="rotate(-3 152 77)" fill="none" stroke="#7cc758" stroke-width="2.2"/>
<ellipse cx="130" cy="98" rx="10.3" ry="9.6" transform="rotate(0 130 98)" fill="none" stroke="#2e39bd" stroke-width="2.2"/>
<ellipse cx="156" cy="92.7" rx="15.8" ry="6.8" transform="rotate(-3 156 92.7)" fill="none" stroke="#111111" stroke-width="2.2"/>
<text transform="translate(113.4,37.2) scale(1,1.05)" font-size="9.9" font-weight="bold" font-style="normal" fill="#bb2730" text-anchor="start" stroke="#bb2730" stroke-width="0.3" >48.2%</text>
<text transform="translate(160,35.9) scale(1,1.05)" font-size="9.9" font-weight="bold" font-style="normal" fill="#64a852" text-anchor="start" stroke="#64a852" stroke-width="0.3" >19.2%</text>
<text transform="translate(112,126) scale(1,1.05)" font-size="9.9" font-weight="bold" font-style="normal" fill="#2e39bd" text-anchor="start" stroke="#2e39bd" stroke-width="0.3" >13.3%</text>
<text transform="translate(163,126) scale(1,1.05)" font-size="9.9" font-weight="bold" font-style="normal" fill="#111111" text-anchor="start" stroke="#111111" stroke-width="0.3" >6.4%</text>
<text x="0" y="0" transform="translate(77.2,50.8) rotate(-90)" font-size="7.9" font-weight="bold" font-style="normal" fill="#000" text-anchor="middle">SSC</text>
<text x="120" y="135" font-size="3" fill="#999" font-weight="normal">FSC-H</text>
<rect x="87.4" y="149.9" width="99.9" height="93.29999999999998" fill="none" stroke="#bdbdbd" stroke-width="1"/>
<text x="84.4" y="150.9" font-size="3" fill="#999" text-anchor="end" font-weight="normal">10</text>
<text x="84.4" y="174.225" font-size="3" fill="#999" text-anchor="end" font-weight="normal">10</text>
<text x="84.4" y="197.55" font-size="3" fill="#999" text-anchor="end" font-weight="normal">10</text>
<text x="84.4" y="220.875" font-size="3" fill="#999" text-anchor="end" font-weight="normal">10</text>
<text x="84.4" y="244.2" font-size="3" fill="#999" text-anchor="end" font-weight="normal">10</text>
<text x="106.79805825242718" y="248.2" font-size="3" fill="#999" text-anchor="middle" font-weight="normal">000</text>
<text x="126.19611650485437" y="248.2" font-size="3" fill="#999" text-anchor="middle" font-weight="normal">000</text>
<text x="145.59417475728156" y="248.2" font-size="3" fill="#999" text-anchor="middle" font-weight="normal">000</text>
<text x="164.99223300970874" y="248.2" font-size="3" fill="#999" text-anchor="middle" font-weight="normal">000</text>
<text x="184.39029126213592" y="248.2" font-size="3" fill="#999" text-anchor="middle" font-weight="normal">000</text>
<path d="M108.3 213.8h1v1h-1zM116.4 202.7h1v1h-1zM115.8 206.7h1v1h-1zM120.8 191.9h1v1h-1zM111.2 205.8h1v1h-1zM112.5 198.8h1v1h-1zM106.6 196.4h1v1h-1zM118.4 197.3h1v1h-1zM115.8 203.6h1v1h-1zM111.8 198.9h1v1h-1zM121.6 209.9h1v1h-1zM123.4 205.8h1v1h-1zM116.0 191.7h1v1h-1zM122.8 204.1h1v1h-1zM115.4 216.7h1v1h-1zM110.2 201.4h1v1h-1zM108.2 206.1h1v1h-1zM109.2 186.0h1v1h-1zM108.0 190.5h1v1h-1zM119.3 212.2h1v1h-1zM119.6 208.4h1v1h-1zM112.2 198.6h1v1h-1zM119.6 197.3h1v1h-1zM107.9 190.3h1v1h-1zM122.2 196.7h1v1h-1zM115.3 209.8h1v1h-1zM113.4 192.6h1v1h-1zM113.7 201.6h1v1h-1zM119.1 198.6h1v1h-1zM109.5 196.0h1v1h-1zM113.3 207.0h1v1h-1zM109.3 211.0h1v1h-1zM112.8 199.6h1v1h-1zM118.2 208.0h1v1h-1zM122.5 203.1h1v1h-1zM109.4 191.3h1v1h-1zM107.8 200.0h1v1h-1zM119.8 203.8h1v1h-1zM118.4 218.2h1v1h-1zM107.0 206.4h1v1h-1zM121.9 199.0h1v1h-1zM118.8 192.6h1v1h-1zM116.2 218.2h1v1h-1zM114.1 216.5h1v1h-1zM120.2 198.1h1v1h-1zM116.1 221.2h1v1h-1zM108.3 201.3h1v1h-1zM107.7 194.5h1v1h-1zM108.5 199.3h1v1h-1zM114.0 208.2h1v1h-1zM115.5 187.8h1v1h-1zM116.4 197.0h1v1h-1zM122.7 193.8h1v1h-1zM123.6 195.0h1v1h-1zM107.3 195.8h1v1h-1zM112.5 216.0h1v1h-1zM123.4 190.1h1v1h-1zM118.1 204.5h1v1h-1zM109.2 192.7h1v1h-1zM110.3 211.5h1v1h-1zM111.2 212.9h1v1h-1zM117.8 212.9h1v1h-1zM114.1 217.5h1v1h-1zM118.7 204.8h1v1h-1zM112.1 196.3h1v1h-1zM120.1 202.0h1v1h-1zM114.5 203.5h1v1h-1zM116.3 203.3h1v1h-1zM117.3 211.8h1v1h-1zM109.5 219.0h1v1h-1zM117.3 187.9h1v1h-1zM119.9 214.4h1v1h-1zM120.0 209.2h1v1h-1zM117.5 213.1h1v1h-1zM116.6 187.7h1v1h-1zM121.7 199.5h1v1h-1zM115.8 205.3h1v1h-1zM114.9 220.0h1v1h-1zM114.1 211.4h1v1h-1zM110.3 191.9h1v1h-1zM113.1 187.2h1v1h-1zM108.6 199.0h1v1h-1zM116.8 185.0h1v1h-1zM115.2 216.7h1v1h-1zM117.7 211.5h1v1h-1zM109.5 199.7h1v1h-1zM107.5 206.5h1v1h-1zM120.2 192.9h1v1h-1zM115.7 202.3h1v1h-1zM115.3 200.2h1v1h-1zM118.9 203.4h1v1h-1zM114.7 205.1h1v1h-1zM108.8 204.9h1v1h-1zM109.6 209.9h1v1h-1zM113.3 210.8h1v1h-1zM111.2 198.7h1v1h-1zM112.4 216.9h1v1h-1zM115.0 184.9h1v1h-1zM112.2 209.0h1v1h-1zM109.9 219.2h1v1h-1zM117.5 185.7h1v1h-1zM113.9 215.5h1v1h-1zM106.2 207.7h1v1h-1zM115.6 211.0h1v1h-1zM110.0 219.5h1v1h-1zM114.0 201.2h1v1h-1zM115.4 205.4h1v1h-1zM118.4 194.2h1v1h-1zM119.3 217.0h1v1h-1zM115.7 197.4h1v1h-1zM112.9 186.6h1v1h-1zM117.5 186.7h1v1h-1zM113.5 216.4h1v1h-1zM115.9 193.0h1v1h-1zM122.7 208.8h1v1h-1zM115.0 184.1h1v1h-1zM114.7 192.6h1v1h-1zM114.6 192.1h1v1h-1zM111.3 201.4h1v1h-1zM122.9 202.2h1v1h-1zM112.7 186.6h1v1h-1zM119.4 206.4h1v1h-1zM115.6 208.7h1v1h-1zM109.3 207.9h1v1h-1zM110.3 193.5h1v1h-1zM113.0 212.6h1v1h-1zM107.7 200.3h1v1h-1zM119.8 196.4h1v1h-1zM111.6 201.5h1v1h-1zM119.1 207.8h1v1h-1zM108.9 198.5h1v1h-1zM120.4 205.1h1v1h-1zM111.4 196.5h1v1h-1zM119.5 204.5h1v1h-1zM113.7 182.6h1v1h-1zM122.4 199.4h1v1h-1zM122.2 200.4h1v1h-1zM113.2 200.2h1v1h-1zM122.7 207.3h1v1h-1zM116.6 217.4h1v1h-1zM112.8 215.8h1v1h-1zM110.8 188.3h1v1h-1zM115.8 206.8h1v1h-1zM115.6 205.7h1v1h-1zM112.5 204.4h1v1h-1zM119.2 201.4h1v1h-1zM108.3 202.7h1v1h-1zM111.2 195.4h1v1h-1zM111.9 207.2h1v1h-1zM112.9 187.1h1v1h-1zM109.8 205.2h1v1h-1zM114.6 206.3h1v1h-1zM119.7 206.2h1v1h-1zM109.3 206.6h1v1h-1zM113.1 188.4h1v1h-1zM114.9 205.2h1v1h-1zM122.5 195.5h1v1h-1zM111.7 211.5h1v1h-1zM116.5 208.4h1v1h-1zM109.2 210.8h1v1h-1zM108.8 205.2h1v1h-1zM114.8 212.6h1v1h-1zM114.4 202.9h1v1h-1zM108.0 198.0h1v1h-1zM121.2 211.3h1v1h-1zM111.4 209.0h1v1h-1zM115.8 189.5h1v1h-1zM115.9 183.6h1v1h-1zM123.8 195.0h1v1h-1zM108.4 199.7h1v1h-1zM121.0 196.7h1v1h-1zM112.6 210.3h1v1h-1zM116.7 183.7h1v1h-1zM113.0 208.4h1v1h-1zM108.8 189.0h1v1h-1zM117.2 204.1h1v1h-1zM117.7 191.1h1v1h-1zM108.6 204.1h1v1h-1zM106.0 201.5h1v1h-1zM110.9 207.9h1v1h-1zM111.5 196.5h1v1h-1zM117.3 207.0h1v1h-1zM119.0 194.2h1v1h-1zM119.8 194.2h1v1h-1zM106.2 200.8h1v1h-1zM116.4 219.2h1v1h-1zM114.7 205.6h1v1h-1zM114.8 198.1h1v1h-1zM111.6 208.6h1v1h-1zM117.2 196.5h1v1h-1zM120.3 192.7h1v1h-1zM113.0 204.5h1v1h-1zM118.8 197.5h1v1h-1zM116.1 217.7h1v1h-1zM119.9 212.7h1v1h-1zM120.1 191.1h1v1h-1zM107.2 207.0h1v1h-1zM112.0 195.1h1v1h-1zM108.6 201.6h1v1h-1zM113.5 204.7h1v1h-1zM120.2 213.9h1v1h-1zM108.3 206.9h1v1h-1zM113.6 206.8h1v1h-1zM119.9 198.7h1v1h-1zM113.1 217.6h1v1h-1zM109.7 218.9h1v1h-1zM113.1 200.0h1v1h-1zM121.9 199.7h1v1h-1zM122.2 209.9h1v1h-1zM121.3 200.5h1v1h-1zM117.8 203.5h1v1h-1zM111.8 195.2h1v1h-1zM116.5 193.6h1v1h-1zM114.7 207.8h1v1h-1zM112.0 207.7h1v1h-1zM108.4 214.5h1v1h-1zM108.6 197.7h1v1h-1zM112.9 218.0h1v1h-1zM109.0 209.9h1v1h-1zM115.7 213.6h1v1h-1zM112.2 209.1h1v1h-1zM118.6 192.4h1v1h-1zM114.6 209.6h1v1h-1zM108.2 216.4h1v1h-1zM120.5 207.5h1v1h-1zM112.0 191.1h1v1h-1zM120.8 194.7h1v1h-1zM108.2 194.2h1v1h-1zM110.4 212.7h1v1h-1zM122.0 198.7h1v1h-1zM121.6 189.5h1v1h-1zM119.5 181.8h1v1h-1zM116.0 204.7h1v1h-1zM118.1 198.4h1v1h-1zM110.1 212.6h1v1h-1zM113.6 215.9h1v1h-1zM116.6 183.1h1v1h-1zM121.2 213.6h1v1h-1zM119.1 208.4h1v1h-1zM113.4 200.8h1v1h-1zM109.1 196.1h1v1h-1zM112.0 201.0h1v1h-1zM114.2 217.4h1v1h-1zM112.5 193.9h1v1h-1zM119.8 206.6h1v1h-1zM116.5 207.7h1v1h-1zM110.9 203.3h1v1h-1zM111.9 219.3h1v1h-1zM109.7 196.3h1v1h-1zM114.6 196.8h1v1h-1zM123.3 205.1h1v1h-1zM113.1 202.0h1v1h-1zM123.4 201.1h1v1h-1zM109.0 214.2h1v1h-1zM112.6 195.6h1v1h-1zM112.6 202.4h1v1h-1zM111.1 209.5h1v1h-1zM116.9 215.4h1v1h-1zM117.0 194.6h1v1h-1zM119.4 202.3h1v1h-1zM115.6 221.0h1v1h-1zM112.9 213.9h1v1h-1zM120.4 194.7h1v1h-1zM107.1 206.3h1v1h-1zM110.8 218.0h1v1h-1zM111.9 220.0h1v1h-1zM119.0 205.4h1v1h-1zM112.6 194.0h1v1h-1zM115.5 214.6h1v1h-1zM112.8 186.3h1v1h-1zM117.5 193.8h1v1h-1zM111.1 217.6h1v1h-1zM113.8 206.8h1v1h-1zM115.2 216.7h1v1h-1zM114.2 216.6h1v1h-1zM113.1 215.0h1v1h-1zM109.9 197.5h1v1h-1zM107.6 193.8h1v1h-1zM116.1 213.9h1v1h-1zM111.4 193.7h1v1h-1zM114.7 195.8h1v1h-1zM116.9 204.0h1v1h-1zM112.9 218.6h1v1h-1zM115.6 221.1h1v1h-1zM117.6 203.6h1v1h-1zM119.1 198.9h1v1h-1zM123.1 192.4h1v1h-1zM118.5 217.1h1v1h-1zM110.1 208.9h1v1h-1zM108.5 205.9h1v1h-1zM113.8 213.1h1v1h-1zM111.2 197.0h1v1h-1zM110.6 208.9h1v1h-1zM113.7 207.4h1v1h-1zM111.6 191.7h1v1h-1zM119.6 209.9h1v1h-1zM112.4 217.0h1v1h-1zM115.3 218.5h1v1h-1zM122.5 202.4h1v1h-1zM118.9 207.7h1v1h-1zM107.0 203.5h1v1h-1zM115.1 209.3h1v1h-1zM111.5 210.2h1v1h-1zM113.5 221.9h1v1h-1zM107.3 202.3h1v1h-1zM118.0 209.1h1v1h-1zM117.6 202.1h1v1h-1zM112.2 199.0h1v1h-1zM118.9 205.5h1v1h-1zM118.4 211.0h1v1h-1zM117.0 183.2h1v1h-1zM115.3 183.1h1v1h-1zM116.4 210.3h1v1h-1zM120.9 184.5h1v1h-1zM119.0 199.1h1v1h-1zM112.9 201.1h1v1h-1zM108.8 217.6h1v1h-1zM111.1 201.5h1v1h-1zM110.1 211.0h1v1h-1zM109.6 198.7h1v1h-1zM111.1 201.0h1v1h-1zM123.4 198.6h1v1h-1zM123.2 194.5h1v1h-1zM110.9 193.5h1v1h-1zM107.3 200.7h1v1h-1zM108.9 209.4h1v1h-1zM111.3 203.2h1v1h-1zM116.6 190.0h1v1h-1zM109.3 213.3h1v1h-1zM121.3 210.8h1v1h-1zM121.5 207.3h1v1h-1zM121.9 209.6h1v1h-1zM119.2 198.5h1v1h-1zM113.3 199.0h1v1h-1zM119.7 211.7h1v1h-1zM114.2 192.6h1v1h-1zM119.9 190.6h1v1h-1zM123.3 200.5h1v1h-1zM120.9 200.0h1v1h-1zM114.5 205.5h1v1h-1zM120.1 207.3h1v1h-1zM121.3 183.4h1v1h-1zM124.1 198.2h1v1h-1zM119.5 188.0h1v1h-1zM113.9 217.9h1v1h-1zM114.6 215.3h1v1h-1zM123.9 200.9h1v1h-1zM117.4 211.0h1v1h-1zM110.9 201.7h1v1h-1zM113.8 219.2h1v1h-1zM115.0 208.7h1v1h-1zM119.3 209.3h1v1h-1zM116.9 219.4h1v1h-1zM115.3 220.4h1v1h-1zM122.2 209.5h1v1h-1zM111.5 208.2h1v1h-1zM117.5 189.6h1v1h-1zM116.9 206.6h1v1h-1zM114.7 220.3h1v1h-1zM121.1 195.5h1v1h-1zM114.2 195.9h1v1h-1zM111.6 190.5h1v1h-1zM123.2 202.0h1v1h-1zM110.9 203.6h1v1h-1zM123.0 190.6h1v1h-1zM114.1 216.5h1v1h-1zM116.4 199.0h1v1h-1zM123.4 198.8h1v1h-1zM118.5 204.5h1v1h-1zM121.6 194.6h1v1h-1zM121.4 200.7h1v1h-1zM116.3 220.2h1v1h-1zM117.4 205.2h1v1h-1zM112.2 190.6h1v1h-1zM107.7 208.7h1v1h-1zM110.1 191.3h1v1h-1zM116.1 201.7h1v1h-1zM116.3 192.4h1v1h-1zM114.6 193.0h1v1h-1zM116.2 193.3h1v1h-1zM117.2 220.0h1v1h-1zM110.6 199.2h1v1h-1zM108.8 211.5h1v1h-1zM116.0 206.9h1v1h-1zM118.3 187.8h1v1h-1zM120.9 195.2h1v1h-1zM115.8 193.6h1v1h-1zM112.1 195.0h1v1h-1zM121.1 195.7h1v1h-1zM120.1 210.9h1v1h-1zM113.8 205.0h1v1h-1zM107.7 191.0h1v1h-1zM108.7 207.2h1v1h-1zM111.6 219.4h1v1h-1zM120.7 206.4h1v1h-1zM116.2 213.9h1v1h-1zM116.1 220.9h1v1h-1zM119.7 204.7h1v1h-1zM119.4 210.5h1v1h-1zM120.0 200.8h1v1h-1zM110.7 214.3h1v1h-1zM120.8 205.0h1v1h-1zM123.0 206.3h1v1h-1zM114.2 209.7h1v1h-1zM106.4 197.2h1v1h-1zM115.6 204.7h1v1h-1zM111.8 197.6h1v1h-1zM111.7 190.5h1v1h-1zM118.1 199.3h1v1h-1zM122.0 202.1h1v1h-1zM113.3 207.5h1v1h-1zM113.6 210.0h1v1h-1zM115.0 207.5h1v1h-1zM120.5 208.8h1v1h-1zM117.0 207.7h1v1h-1zM123.9 201.9h1v1h-1zM119.7 206.3h1v1h-1zM109.3 194.1h1v1h-1zM115.1 211.7h1v1h-1zM112.4 206.4h1v1h-1zM118.3 209.0h1v1h-1zM119.0 198.9h1v1h-1zM116.9 198.5h1v1h-1zM114.9 195.8h1v1h-1zM122.3 208.3h1v1h-1zM112.6 202.4h1v1h-1zM108.7 201.7h1v1h-1zM117.0 210.3h1v1h-1zM115.6 191.7h1v1h-1zM110.1 200.0h1v1h-1zM108.9 198.1h1v1h-1zM110.3 214.7h1v1h-1zM109.9 210.8h1v1h-1zM118.9 201.2h1v1h-1zM108.1 209.8h1v1h-1zM114.6 211.0h1v1h-1zM113.9 196.9h1v1h-1zM113.3 209.8h1v1h-1zM110.5 212.1h1v1h-1zM107.9 201.9h1v1h-1zM109.7 216.2h1v1h-1zM120.2 213.1h1v1h-1zM111.8 201.2h1v1h-1zM116.9 208.1h1v1h-1zM113.9 211.6h1v1h-1zM108.9 207.6h1v1h-1zM112.4 205.4h1v1h-1zM111.2 195.1h1v1h-1zM121.8 210.2h1v1h-1zM121.1 195.5h1v1h-1zM110.0 199.9h1v1h-1zM107.6 191.8h1v1h-1zM117.4 184.7h1v1h-1zM106.9 200.8h1v1h-1zM116.2 205.7h1v1h-1zM110.1 215.9h1v1h-1zM121.4 190.5h1v1h-1zM117.8 207.4h1v1h-1zM113.7 211.8h1v1h-1zM112.2 206.6h1v1h-1zM123.3 204.9h1v1h-1zM119.7 184.7h1v1h-1zM112.3 214.3h1v1h-1zM113.1 206.0h1v1h-1zM110.1 196.4h1v1h-1zM114.9 207.7h1v1h-1zM110.2 194.3h1v1h-1zM118.4 207.9h1v1h-1zM110.7 195.7h1v1h-1zM110.8 191.9h1v1h-1zM115.3 212.5h1v1h-1zM117.2 218.6h1v1h-1zM109.0 205.8h1v1h-1zM111.9 214.1h1v1h-1zM112.6 185.4h1v1h-1zM117.8 190.4h1v1h-1zM119.9 194.7h1v1h-1zM111.4 211.6h1v1h-1zM120.0 185.9h1v1h-1zM114.3 189.6h1v1h-1zM110.1 204.3h1v1h-1zM109.7 214.6h1v1h-1zM112.4 192.1h1v1h-1zM112.6 215.9h1v1h-1zM117.7 203.2h1v1h-1zM120.1 204.5h1v1h-1zM109.7 202.8h1v1h-1zM119.5 211.2h1v1h-1zM119.1 207.9h1v1h-1zM110.8 215.0h1v1h-1zM107.7 212.6h1v1h-1zM118.1 213.3h1v1h-1zM118.1 179.7h1v1h-1zM115.0 221.3h1v1h-1zM115.9 196.9h1v1h-1zM114.6 220.2h1v1h-1zM122.3 197.3h1v1h-1zM118.7 208.5h1v1h-1zM119.9 204.9h1v1h-1zM112.8 195.3h1v1h-1zM120.4 198.2h1v1h-1zM118.0 205.2h1v1h-1zM115.4 201.1h1v1h-1zM110.7 204.2h1v1h-1zM111.3 219.7h1v1h-1zM109.3 192.2h1v1h-1zM122.3 205.4h1v1h-1zM113.7 215.1h1v1h-1zM110.9 200.0h1v1h-1zM118.1 183.8h1v1h-1zM122.7 189.8h1v1h-1zM107.7 192.8h1v1h-1zM111.0 197.9h1v1h-1zM107.0 204.6h1v1h-1zM119.6 204.6h1v1h-1zM107.7 193.5h1v1h-1zM118.6 199.9h1v1h-1zM112.6 221.5h1v1h-1zM106.7 202.6h1v1h-1zM122.8 188.8h1v1h-1zM110.1 188.3h1v1h-1zM115.0 213.6h1v1h-1zM113.3 218.4h1v1h-1zM121.6 212.1h1v1h-1zM110.5 215.8h1v1h-1zM120.9 203.5h1v1h-1zM120.6 201.2h1v1h-1zM121.6 207.4h1v1h-1zM113.0 190.8h1v1h-1zM113.8 221.3h1v1h-1zM109.3 205.2h1v1h-1zM110.8 200.3h1v1h-1zM118.8 189.3h1v1h-1zM109.6 207.3h1v1h-1zM116.0 208.2h1v1h-1zM107.0 206.0h1v1h-1zM121.4 211.3h1v1h-1zM120.6 203.9h1v1h-1zM117.2 205.7h1v1h-1zM120.7 203.5h1v1h-1zM115.0 195.0h1v1h-1zM116.6 198.5h1v1h-1zM111.1 186.1h1v1h-1zM114.0 183.3h1v1h-1zM113.3 213.4h1v1h-1zM109.3 213.1h1v1h-1zM111.7 186.2h1v1h-1zM112.0 191.3h1v1h-1zM115.0 184.7h1v1h-1zM114.8 220.7h1v1h-1zM111.2 219.1h1v1h-1zM116.5 195.6h1v1h-1zM108.1 214.3h1v1h-1zM111.9 204.8h1v1h-1zM112.9 186.7h1v1h-1zM109.7 205.8h1v1h-1zM122.6 207.6h1v1h-1zM115.7 199.4h1v1h-1zM110.2 215.4h1v1h-1zM114.4 202.0h1v1h-1zM114.0 208.9h1v1h-1zM118.9 197.3h1v1h-1zM117.8 183.8h1v1h-1zM109.9 188.5h1v1h-1zM112.6 211.0h1v1h-1zM113.6 195.1h1v1h-1zM111.1 216.9h1v1h-1zM119.3 203.1h1v1h-1zM115.8 212.7h1v1h-1zM118.1 206.7h1v1h-1zM116.9 191.9h1v1h-1zM118.7 184.9h1v1h-1zM118.3 194.6h1v1h-1zM114.5 198.2h1v1h-1zM113.4 213.4h1v1h-1zM115.6 198.4h1v1h-1zM113.1 196.3h1v1h-1zM111.0 194.0h1v1h-1zM117.5 190.5h1v1h-1zM111.7 198.3h1v1h-1zM116.9 189.4h1v1h-1zM121.9 199.2h1v1h-1zM112.9 211.6h1v1h-1zM112.9 191.2h1v1h-1zM118.3 201.3h1v1h-1zM117.0 219.3h1v1h-1zM116.5 182.4h1v1h-1zM112.2 200.5h1v1h-1zM120.5 192.1h1v1h-1zM109.8 185.2h1v1h-1zM112.2 219.0h1v1h-1zM110.2 193.1h1v1h-1zM109.1 196.8h1v1h-1zM117.0 209.2h1v1h-1zM112.3 207.0h1v1h-1zM113.5 183.7h1v1h-1zM115.0 208.5h1v1h-1zM110.6 203.9h1v1h-1zM109.2 213.6h1v1h-1zM110.3 206.8h1v1h-1zM116.7 202.6h1v1h-1zM118.3 213.8h1v1h-1zM118.6 209.6h1v1h-1zM115.3 203.2h1v1h-1zM118.5 205.0h1v1h-1zM117.7 207.1h1v1h-1zM114.0 196.6h1v1h-1zM118.3 202.4h1v1h-1zM121.0 211.3h1v1h-1zM121.8 197.7h1v1h-1zM116.3 202.7h1v1h-1zM109.6 193.5h1v1h-1zM116.6 192.9h1v1h-1zM117.0 210.1h1v1h-1zM112.7 203.9h1v1h-1zM113.4 215.0h1v1h-1zM112.7 199.0h1v1h-1zM110.0 219.1h1v1h-1zM109.5 190.4h1v1h-1zM120.2 194.2h1v1h-1zM111.0 209.5h1v1h-1zM120.1 200.6h1v1h-1zM114.2 195.5h1v1h-1zM115.7 183.7h1v1h-1zM116.0 198.5h1v1h-1zM114.7 198.8h1v1h-1zM113.1 212.2h1v1h-1zM122.7 188.9h1v1h-1zM116.1 208.2h1v1h-1zM115.6 183.3h1v1h-1zM117.8 198.9h1v1h-1zM106.9 210.8h1v1h-1zM117.1 203.9h1v1h-1zM108.8 195.0h1v1h-1zM119.6 199.3h1v1h-1zM113.2 205.8h1v1h-1zM113.8 195.9h1v1h-1zM116.6 200.4h1v1h-1zM118.1 181.1h1v1h-1zM118.2 204.4h1v1h-1zM115.3 210.2h1v1h-1zM117.8 214.9h1v1h-1zM116.8 196.8h1v1h-1zM117.4 200.5h1v1h-1zM116.6 205.0h1v1h-1zM119.2 216.6h1v1h-1zM109.6 188.3h1v1h-1zM110.3 202.7h1v1h-1zM116.3 213.1h1v1h-1zM113.4 183.8h1v1h-1zM115.7 214.8h1v1h-1zM114.1 196.0h1v1h-1zM110.8 214.3h1v1h-1zM117.7 189.0h1v1h-1zM115.7 199.5h1v1h-1zM109.0 199.7h1v1h-1zM119.9 215.6h1v1h-1zM119.0 199.2h1v1h-1zM112.8 197.1h1v1h-1zM110.5 210.8h1v1h-1zM118.4 201.0h1v1h-1zM114.5 199.9h1v1h-1zM119.0 197.3h1v1h-1zM115.4 215.8h1v1h-1zM116.4 208.9h1v1h-1zM110.4 207.6h1v1h-1zM120.8 202.7h1v1h-1zM112.6 214.8h1v1h-1zM113.4 206.5h1v1h-1zM115.8 210.0h1v1h-1zM108.0 200.7h1v1h-1zM109.1 217.1h1v1h-1zM110.2 186.8h1v1h-1zM111.2 208.9h1v1h-1zM116.7 205.9h1v1h-1zM114.2 204.1h1v1h-1zM117.3 183.7h1v1h-1zM117.8 193.3h1v1h-1zM117.8 211.2h1v1h-1zM120.2 213.2h1v1h-1zM115.9 198.4h1v1h-1zM112.3 209.4h1v1h-1zM116.1 199.9h1v1h-1zM117.7 194.8h1v1h-1zM108.4 212.7h1v1h-1zM121.8 189.1h1v1h-1zM110.0 202.6h1v1h-1zM118.7 197.1h1v1h-1zM116.2 202.3h1v1h-1zM112.1 211.1h1v1h-1zM116.0 183.8h1v1h-1zM107.3 197.1h1v1h-1zM116.1 195.0h1v1h-1zM122.0 196.7h1v1h-1zM115.7 192.0h1v1h-1zM111.4 209.3h1v1h-1zM106.1 205.1h1v1h-1zM112.8 194.1h1v1h-1zM109.5 219.0h1v1h-1zM106.3 204.3h1v1h-1zM120.5 211.0h1v1h-1zM117.6 201.3h1v1h-1zM112.6 211.6h1v1h-1zM108.0 212.4h1v1h-1zM110.5 200.3h1v1h-1zM108.0 208.6h1v1h-1zM121.6 204.5h1v1h-1zM115.2 204.2h1v1h-1zM109.0 201.6h1v1h-1zM110.6 184.4h1v1h-1zM111.2 218.4h1v1h-1zM115.3 198.2h1v1h-1zM120.8 210.3h1v1h-1zM115.3 215.6h1v1h-1zM118.9 191.2h1v1h-1zM120.4 202.8h1v1h-1zM108.9 212.8h1v1h-1zM116.5 187.5h1v1h-1zM114.5 214.7h1v1h-1zM119.9 200.2h1v1h-1zM121.0 208.6h1v1h-1zM109.4 203.1h1v1h-1zM114.1 183.0h1v1h-1zM122.3 197.1h1v1h-1zM118.5 212.8h1v1h-1zM111.3 205.7h1v1h-1zM114.1 208.9h1v1h-1zM112.6 200.0h1v1h-1zM120.5 195.2h1v1h-1zM109.9 209.3h1v1h-1zM120.4 188.7h1v1h-1zM111.1 202.8h1v1h-1zM107.8 197.8h1v1h-1zM115.0 208.4h1v1h-1zM108.3 211.4h1v1h-1zM114.5 209.1h1v1h-1zM112.1 195.0h1v1h-1zM119.5 196.9h1v1h-1zM110.9 199.4h1v1h-1zM108.1 202.0h1v1h-1zM117.5 199.1h1v1h-1zM115.5 202.5h1v1h-1zM117.1 193.7h1v1h-1zM107.1 199.2h1v1h-1zM108.1 206.7h1v1h-1zM115.6 185.0h1v1h-1zM114.1 215.7h1v1h-1zM108.3 203.1h1v1h-1zM108.6 215.3h1v1h-1zM114.6 186.8h1v1h-1zM109.4 217.1h1v1h-1zM117.9 203.7h1v1h-1zM109.6 212.4h1v1h-1zM116.8 197.6h1v1h-1zM115.0 190.2h1v1h-1zM118.9 200.0h1v1h-1zM110.6 195.8h1v1h-1zM115.8 196.6h1v1h-1zM107.6 210.7h1v1h-1zM110.2 199.8h1v1h-1zM117.0 183.9h1v1h-1zM113.0 204.7h1v1h-1zM113.1 191.4h1v1h-1zM112.4 212.3h1v1h-1zM107.9 199.8h1v1h-1zM113.6 210.3h1v1h-1zM118.0 216.1h1v1h-1zM106.2 198.5h1v1h-1zM109.7 205.2h1v1h-1zM108.8 214.5h1v1h-1zM122.2 210.9h1v1h-1zM119.6 198.4h1v1h-1zM109.7 201.9h1v1h-1zM109.1 209.2h1v1h-1zM110.2 212.6h1v1h-1zM117.6 195.1h1v1h-1zM117.2 190.3h1v1h-1zM117.8 213.1h1v1h-1zM111.4 218.6h1v1h-1zM119.7 212.3h1v1h-1zM121.0 210.6h1v1h-1zM113.0 207.0h1v1h-1zM111.4 217.4h1v1h-1zM113.3 209.4h1v1h-1zM119.4 204.2h1v1h-1zM106.4 201.4h1v1h-1zM111.9 195.4h1v1h-1zM116.5 201.8h1v1h-1zM109.4 205.9h1v1h-1zM109.5 190.0h1v1h-1zM111.4 212.0h1v1h-1zM107.7 200.7h1v1h-1zM114.8 200.4h1v1h-1zM112.2 208.2h1v1h-1zM109.6 202.4h1v1h-1zM112.7 220.6h1v1h-1zM111.0 203.4h1v1h-1zM107.3 212.3h1v1h-1zM114.2 186.5h1v1h-1zM111.2 209.9h1v1h-1zM116.2 207.7h1v1h-1zM110.5 218.1h1v1h-1zM119.6 216.0h1v1h-1zM106.2 201.9h1v1h-1zM111.8 200.7h1v1h-1zM121.6 200.9h1v1h-1zM122.3 209.7h1v1h-1zM113.5 218.3h1v1h-1zM115.7 214.8h1v1h-1zM111.2 214.0h1v1h-1zM116.0 193.1h1v1h-1zM119.2 196.2h1v1h-1zM116.3 204.1h1v1h-1zM111.4 199.4h1v1h-1zM110.0 219.0h1v1h-1zM116.6 206.8h1v1h-1zM121.4 184.3h1v1h-1zM114.3 206.5h1v1h-1zM117.9 184.7h1v1h-1zM122.7 200.5h1v1h-1zM122.1 191.9h1v1h-1zM109.0 190.0h1v1h-1zM121.5 199.2h1v1h-1zM106.6 200.5h1v1h-1zM118.3 210.8h1v1h-1zM120.3 200.2h1v1h-1zM118.0 219.2h1v1h-1zM113.8 207.2h1v1h-1zM115.3 200.1h1v1h-1zM115.3 201.8h1v1h-1zM120.7 206.8h1v1h-1zM116.0 211.6h1v1h-1zM116.5 213.9h1v1h-1zM111.8 219.1h1v1h-1zM115.9 212.6h1v1h-1zM114.1 196.0h1v1h-1zM116.1 184.6h1v1h-1zM111.6 204.2h1v1h-1zM114.0 192.0h1v1h-1zM120.6 208.7h1v1h-1zM122.1 203.8h1v1h-1zM114.3 208.2h1v1h-1zM109.5 214.9h1v1h-1zM121.7 201.7h1v1h-1zM118.8 214.4h1v1h-1zM120.9 185.7h1v1h-1zM121.9 188.3h1v1h-1zM108.7 216.6h1v1h-1zM110.3 209.5h1v1h-1zM108.5 203.3h1v1h-1zM118.1 210.8h1v1h-1zM120.8 187.4h1v1h-1zM108.8 199.9h1v1h-1zM116.3 183.2h1v1h-1zM109.8 203.0h1v1h-1zM111.8 186.6h1v1h-1zM109.2 216.6h1v1h-1zM122.7 202.0h1v1h-1zM110.8 197.4h1v1h-1zM112.4 198.7h1v1h-1zM116.0 204.9h1v1h-1zM115.6 202.2h1v1h-1zM107.4 196.6h1v1h-1zM121.2 198.3h1v1h-1zM120.0 199.6h1v1h-1zM116.3 210.8h1v1h-1zM115.8 201.6h1v1h-1zM113.7 207.0h1v1h-1zM108.1 215.8h1v1h-1zM114.8 199.7h1v1h-1zM115.0 191.3h1v1h-1zM118.8 211.8h1v1h-1zM114.7 211.1h1v1h-1zM114.0 199.3h1v1h-1zM120.4 208.3h1v1h-1zM116.5 211.0h1v1h-1zM120.8 209.0h1v1h-1zM106.3 204.9h1v1h-1zM109.7 218.5h1v1h-1zM106.7 196.8h1v1h-1zM117.9 194.9h1v1h-1zM114.0 221.1h1v1h-1zM113.3 212.7h1v1h-1zM108.4 198.0h1v1h-1zM116.3 214.0h1v1h-1zM115.8 219.9h1v1h-1zM111.7 200.7h1v1h-1zM113.2 198.8h1v1h-1zM114.2 196.9h1v1h-1zM113.5 200.3h1v1h-1zM117.4 192.1h1v1h-1zM116.0 192.4h1v1h-1zM116.5 198.3h1v1h-1zM114.3 205.4h1v1h-1zM119.0 188.8h1v1h-1zM116.5 219.4h1v1h-1zM115.8 201.6h1v1h-1zM111.3 202.8h1v1h-1zM109.3 211.1h1v1h-1zM114.7 214.2h1v1h-1zM112.8 199.2h1v1h-1zM115.0 209.1h1v1h-1zM118.1 206.3h1v1h-1zM113.6 220.0h1v1h-1zM108.1 213.3h1v1h-1zM114.8 205.5h1v1h-1zM111.0 202.5h1v1h-1zM118.3 209.4h1v1h-1zM115.4 181.4h1v1h-1zM109.3 197.9h1v1h-1zM112.7 203.1h1v1h-1zM116.1 207.6h1v1h-1zM108.8 215.6h1v1h-1zM113.8 202.7h1v1h-1zM113.2 189.2h1v1h-1zM115.0 184.9h1v1h-1zM120.5 197.8h1v1h-1zM118.2 190.5h1v1h-1zM122.5 192.2h1v1h-1zM114.7 216.7h1v1h-1zM119.5 209.3h1v1h-1zM116.3 193.1h1v1h-1zM113.8 189.4h1v1h-1zM114.5 185.6h1v1h-1zM118.4 206.2h1v1h-1zM124.0 196.5h1v1h-1zM113.6 184.0h1v1h-1zM109.0 217.6h1v1h-1zM112.2 221.3h1v1h-1zM109.8 207.8h1v1h-1zM116.3 213.4h1v1h-1zM111.4 185.1h1v1h-1zM116.0 190.6h1v1h-1zM110.1 202.0h1v1h-1zM120.9 212.5h1v1h-1zM110.8 212.9h1v1h-1zM121.0 189.2h1v1h-1zM111.4 193.3h1v1h-1zM111.3 218.8h1v1h-1zM113.7 221.6h1v1h-1zM120.0 215.1h1v1h-1zM115.6 220.7h1v1h-1zM123.5 192.7h1v1h-1zM117.7 212.7h1v1h-1zM115.4 196.7h1v1h-1zM116.1 217.1h1v1h-1zM121.8 195.1h1v1h-1zM123.8 194.9h1v1h-1zM114.1 206.8h1v1h-1zM117.8 205.9h1v1h-1zM116.8 215.4h1v1h-1zM122.3 191.8h1v1h-1zM119.3 196.7h1v1h-1zM115.9 220.5h1v1h-1zM120.1 196.2h1v1h-1zM113.7 218.8h1v1h-1zM114.7 197.6h1v1h-1zM111.4 194.4h1v1h-1zM118.2 204.5h1v1h-1zM115.0 200.0h1v1h-1zM118.0 185.7h1v1h-1zM120.8 185.6h1v1h-1zM113.2 197.3h1v1h-1zM106.6 211.5h1v1h-1zM117.1 205.8h1v1h-1zM115.7 209.2h1v1h-1zM119.0 194.7h1v1h-1zM110.1 208.9h1v1h-1zM117.0 185.9h1v1h-1zM111.1 214.9h1v1h-1zM116.3 216.4h1v1h-1zM115.4 200.0h1v1h-1zM114.9 204.3h1v1h-1zM116.8 194.3h1v1h-1zM117.0 214.2h1v1h-1zM112.1 208.7h1v1h-1zM114.0 201.0h1v1h-1zM115.8 192.0h1v1h-1zM117.5 204.7h1v1h-1zM112.9 197.6h1v1h-1zM121.5 209.7h1v1h-1zM114.0 186.2h1v1h-1zM118.6 213.5h1v1h-1zM114.9 206.9h1v1h-1zM121.8 211.9h1v1h-1zM119.0 208.6h1v1h-1zM118.2 203.7h1v1h-1zM116.0 202.4h1v1h-1zM109.8 218.9h1v1h-1zM117.0 200.9h1v1h-1zM112.9 204.8h1v1h-1zM110.2 210.9h1v1h-1zM114.1 205.4h1v1h-1zM108.8 212.2h1v1h-1zM114.3 203.1h1v1h-1zM113.4 217.6h1v1h-1zM113.4 199.0h1v1h-1zM121.5 194.1h1v1h-1zM113.4 186.3h1v1h-1zM110.4 202.5h1v1h-1zM113.2 208.7h1v1h-1zM114.3 213.5h1v1h-1zM122.9 203.3h1v1h-1zM118.0 209.2h1v1h-1zM113.4 181.8h1v1h-1zM115.2 208.0h1v1h-1zM107.5 206.7h1v1h-1zM112.6 217.3h1v1h-1zM122.9 202.3h1v1h-1zM111.9 202.4h1v1h-1zM117.3 210.5h1v1h-1zM115.6 180.2h1v1h-1zM109.1 213.0h1v1h-1zM115.6 216.8h1v1h-1zM120.3 209.7h1v1h-1zM118.4 197.9h1v1h-1zM106.5 204.7h1v1h-1zM120.1 188.4h1v1h-1zM120.5 204.8h1v1h-1zM113.5 210.0h1v1h-1zM121.6 195.7h1v1h-1zM114.8 210.8h1v1h-1zM114.7 199.0h1v1h-1zM120.8 207.0h1v1h-1zM115.6 195.6h1v1h-1zM119.3 193.5h1v1h-1zM115.6 208.4h1v1h-1zM116.5 199.3h1v1h-1zM111.0 204.1h1v1h-1zM109.5 189.6h1v1h-1zM115.0 205.5h1v1h-1zM111.2 206.2h1v1h-1zM123.1 194.8h1v1h-1zM113.8 211.8h1v1h-1zM119.3 191.7h1v1h-1zM110.1 189.9h1v1h-1zM114.3 208.6h1v1h-1zM109.6 217.6h1v1h-1zM111.1 218.9h1v1h-1zM114.2 210.9h1v1h-1zM114.0 210.2h1v1h-1zM115.2 202.3h1v1h-1zM119.5 203.7h1v1h-1zM120.3 205.7h1v1h-1zM117.2 190.6h1v1h-1zM113.0 191.4h1v1h-1zM118.5 204.0h1v1h-1zM109.2 211.5h1v1h-1zM115.5 199.2h1v1h-1zM110.4 215.4h1v1h-1zM116.2 189.9h1v1h-1zM119.4 201.7h1v1h-1zM117.9 198.8h1v1h-1zM111.5 218.6h1v1h-1zM111.9 216.2h1v1h-1zM108.7 211.8h1v1h-1zM117.4 204.5h1v1h-1zM113.6 187.7h1v1h-1zM114.7 195.1h1v1h-1zM111.9 206.7h1v1h-1zM120.7 205.9h1v1h-1zM116.0 219.9h1v1h-1zM115.1 194.9h1v1h-1zM117.5 217.0h1v1h-1zM109.3 210.8h1v1h-1zM123.2 199.3h1v1h-1zM115.8 182.8h1v1h-1zM119.5 205.4h1v1h-1zM108.0 214.4h1v1h-1zM111.2 201.2h1v1h-1zM113.3 211.9h1v1h-1zM113.6 186.5h1v1h-1zM118.8 189.4h1v1h-1zM108.3 196.0h1v1h-1zM112.5 198.0h1v1h-1zM122.6 204.7h1v1h-1zM114.2 215.3h1v1h-1zM118.3 181.9h1v1h-1zM109.6 195.5h1v1h-1zM115.5 201.9h1v1h-1zM108.3 208.9h1v1h-1zM121.5 198.5h1v1h-1zM120.6 206.0h1v1h-1zM119.7 201.6h1v1h-1zM117.6 213.4h1v1h-1zM112.6 203.7h1v1h-1zM109.8 210.8h1v1h-1zM113.5 206.8h1v1h-1zM106.4 203.9h1v1h-1zM115.9 211.5h1v1h-1zM121.9 209.4h1v1h-1zM110.1 204.4h1v1h-1zM123.5 193.5h1v1h-1zM117.0 216.5h1v1h-1zM118.2 198.1h1v1h-1zM119.3 196.4h1v1h-1zM114.3 199.2h1v1h-1zM114.7 216.1h1v1h-1zM117.9 198.3h1v1h-1zM113.9 190.8h1v1h-1zM139.6 204.0h1v1h-1zM170.8 193.0h1v1h-1zM147.5 195.8h1v1h-1zM139.0 205.0h1v1h-1zM154.4 194.0h1v1h-1zM138.5 199.3h1v1h-1zM162.0 193.8h1v1h-1zM155.7 193.1h1v1h-1zM138.8 195.6h1v1h-1zM157.3 199.9h1v1h-1zM146.1 201.4h1v1h-1zM147.3 204.3h1v1h-1zM151.9 202.8h1v1h-1zM153.6 200.3h1v1h-1zM151.4 194.6h1v1h-1zM157.0 192.5h1v1h-1zM144.9 198.6h1v1h-1zM142.6 191.9h1v1h-1zM136.2 201.2h1v1h-1zM165.2 195.7h1v1h-1zM155.4 196.8h1v1h-1zM160.5 189.8h1v1h-1zM151.7 196.4h1v1h-1zM161.9 194.4h1v1h-1zM143.9 199.0h1v1h-1zM148.9 191.7h1v1h-1zM153.3 195.9h1v1h-1zM138.2 199.0h1v1h-1zM147.1 197.8h1v1h-1zM133.1 199.3h1v1h-1zM168.0 196.4h1v1h-1zM145.4 199.7h1v1h-1zM143.4 198.3h1v1h-1zM152.9 194.8h1v1h-1zM145.9 202.7h1v1h-1zM136.7 201.2h1v1h-1zM135.4 196.0h1v1h-1zM138.0 196.8h1v1h-1zM166.7 193.8h1v1h-1zM156.0 204.3h1v1h-1zM169.0 196.2h1v1h-1zM134.9 201.8h1v1h-1zM150.7 193.1h1v1h-1zM151.1 190.4h1v1h-1zM137.2 200.9h1v1h-1zM154.5 202.0h1v1h-1zM133.2 200.8h1v1h-1zM128.6 199.3h1v1h-1zM156.8 204.7h1v1h-1zM141.7 198.5h1v1h-1zM136.0 197.3h1v1h-1zM163.2 194.5h1v1h-1zM162.0 196.2h1v1h-1zM154.1 193.0h1v1h-1zM152.7 192.4h1v1h-1zM159.1 199.1h1v1h-1zM163.0 199.9h1v1h-1zM143.8 196.8h1v1h-1zM173.7 194.8h1v1h-1zM137.3 198.5h1v1h-1zM145.9 195.7h1v1h-1zM163.5 200.9h1v1h-1zM133.7 199.5h1v1h-1zM162.5 193.6h1v1h-1zM152.5 195.6h1v1h-1zM162.0 201.1h1v1h-1zM143.7 200.3h1v1h-1zM161.4 202.3h1v1h-1zM151.3 197.2h1v1h-1zM142.7 193.2h1v1h-1zM154.5 192.3h1v1h-1zM169.0 201.4h1v1h-1zM163.9 193.9h1v1h-1zM139.8 193.3h1v1h-1zM145.8 203.4h1v1h-1zM159.4 201.3h1v1h-1zM164.8 198.0h1v1h-1zM130.9 199.6h1v1h-1zM167.5 200.8h1v1h-1zM140.4 192.0h1v1h-1zM156.5 203.8h1v1h-1zM157.1 195.7h1v1h-1zM129.6 201.3h1v1h-1zM156.5 201.3h1v1h-1zM152.3 192.8h1v1h-1zM145.9 194.0h1v1h-1zM156.3 197.8h1v1h-1zM165.6 191.2h1v1h-1zM155.0 198.9h1v1h-1zM137.4 194.4h1v1h-1zM159.3 195.7h1v1h-1zM159.7 191.5h1v1h-1zM135.7 200.5h1v1h-1zM162.1 195.5h1v1h-1zM144.1 201.7h1v1h-1zM141.7 201.4h1v1h-1zM158.3 197.3h1v1h-1zM139.0 201.4h1v1h-1zM153.4 202.6h1v1h-1zM146.6 201.6h1v1h-1zM132.7 197.4h1v1h-1zM158.2 202.7h1v1h-1zM146.9 192.5h1v1h-1zM139.6 196.3h1v1h-1zM144.4 200.9h1v1h-1zM137.0 199.6h1v1h-1zM141.6 193.3h1v1h-1zM165.3 191.3h1v1h-1zM141.9 197.7h1v1h-1zM129.9 198.5h1v1h-1zM159.5 197.8h1v1h-1zM160.8 195.5h1v1h-1zM129.7 202.2h1v1h-1zM149.5 197.3h1v1h-1zM137.0 204.5h1v1h-1zM145.0 196.5h1v1h-1zM153.4 196.0h1v1h-1zM149.8 199.2h1v1h-1zM146.7 198.4h1v1h-1zM161.1 193.4h1v1h-1zM171.2 195.3h1v1h-1zM162.7 194.3h1v1h-1zM140.5 204.4h1v1h-1zM154.0 197.6h1v1h-1zM151.8 193.3h1v1h-1zM162.1 193.8h1v1h-1zM151.1 201.3h1v1h-1zM139.5 193.4h1v1h-1zM169.8 200.9h1v1h-1zM143.7 195.6h1v1h-1zM136.1 198.1h1v1h-1zM143.1 199.0h1v1h-1zM142.0 200.3h1v1h-1zM138.5 198.3h1v1h-1zM167.1 193.2h1v1h-1zM161.1 201.1h1v1h-1zM157.6 204.5h1v1h-1zM171.4 199.5h1v1h-1zM152.9 205.2h1v1h-1zM161.9 202.7h1v1h-1zM166.6 192.8h1v1h-1zM149.5 201.8h1v1h-1zM148.9 202.5h1v1h-1zM132.9 197.3h1v1h-1zM137.8 200.6h1v1h-1zM151.6 195.0h1v1h-1zM147.2 192.7h1v1h-1zM140.5 205.5h1v1h-1zM146.5 204.9h1v1h-1zM156.8 200.6h1v1h-1zM159.2 196.6h1v1h-1zM147.8 195.9h1v1h-1zM146.2 200.0h1v1h-1zM154.8 195.3h1v1h-1zM172.3 199.6h1v1h-1zM169.5 194.9h1v1h-1zM131.7 199.2h1v1h-1zM165.2 202.9h1v1h-1zM160.7 202.9h1v1h-1zM157.5 196.5h1v1h-1zM140.1 196.2h1v1h-1zM172.9 192.8h1v1h-1zM153.8 198.5h1v1h-1zM162.1 195.4h1v1h-1zM150.0 205.0h1v1h-1zM154.1 198.6h1v1h-1zM153.7 191.3h1v1h-1zM141.5 199.0h1v1h-1zM162.0 198.1h1v1h-1zM135.4 200.5h1v1h-1zM149.9 193.4h1v1h-1zM169.8 196.1h1v1h-1zM151.9 196.2h1v1h-1zM144.7 194.3h1v1h-1zM143.9 202.9h1v1h-1zM133.9 199.0h1v1h-1zM136.7 199.4h1v1h-1zM166.1 192.5h1v1h-1zM151.1 191.5h1v1h-1zM164.2 201.5h1v1h-1zM140.3 200.6h1v1h-1zM143.4 192.6h1v1h-1zM150.7 190.0h1v1h-1zM164.0 196.0h1v1h-1zM142.3 195.9h1v1h-1zM155.7 202.3h1v1h-1zM161.5 202.3h1v1h-1zM136.3 193.8h1v1h-1zM162.9 196.6h1v1h-1zM128.2 201.1h1v1h-1zM168.8 201.2h1v1h-1zM157.4 194.6h1v1h-1zM136.7 197.9h1v1h-1zM136.8 200.2h1v1h-1zM161.7 189.8h1v1h-1zM159.1 201.2h1v1h-1zM167.0 196.2h1v1h-1zM138.0 198.8h1v1h-1zM153.9 198.2h1v1h-1zM166.2 198.3h1v1h-1zM152.7 205.5h1v1h-1zM152.9 194.8h1v1h-1zM139.9 201.1h1v1h-1zM169.4 192.6h1v1h-1zM159.6 202.7h1v1h-1zM153.3 203.3h1v1h-1zM133.3 200.5h1v1h-1zM152.8 200.8h1v1h-1zM144.0 194.4h1v1h-1zM161.3 193.1h1v1h-1zM160.4 196.8h1v1h-1zM141.6 196.1h1v1h-1zM162.4 190.8h1v1h-1zM134.8 203.3h1v1h-1zM173.1 199.3h1v1h-1zM142.2 197.0h1v1h-1zM160.4 201.3h1v1h-1zM158.2 192.9h1v1h-1zM138.1 196.4h1v1h-1zM135.3 200.9h1v1h-1zM168.4 195.9h1v1h-1zM174.6 197.3h1v1h-1zM148.7 199.9h1v1h-1zM144.9 200.0h1v1h-1zM141.9 194.0h1v1h-1zM156.5 202.0h1v1h-1zM132.0 203.4h1v1h-1zM158.0 191.5h1v1h-1zM147.3 199.2h1v1h-1zM164.3 197.8h1v1h-1zM145.8 191.4h1v1h-1zM141.0 198.0h1v1h-1zM162.1 193.4h1v1h-1zM156.0 193.8h1v1h-1zM139.2 200.6h1v1h-1zM140.4 194.6h1v1h-1zM132.4 199.4h1v1h-1zM160.3 197.5h1v1h-1zM140.5 198.7h1v1h-1zM160.5 199.4h1v1h-1zM146.3 198.7h1v1h-1zM144.4 195.9h1v1h-1zM160.9 192.5h1v1h-1zM155.6 196.4h1v1h-1zM133.5 199.7h1v1h-1zM166.2 196.2h1v1h-1zM170.5 196.3h1v1h-1zM151.3 198.2h1v1h-1zM154.1 201.2h1v1h-1zM142.3 195.9h1v1h-1zM139.7 195.8h1v1h-1zM145.7 197.0h1v1h-1zM138.8 201.3h1v1h-1zM145.4 197.3h1v1h-1zM165.3 193.1h1v1h-1zM146.7 191.7h1v1h-1zM161.3 192.0h1v1h-1zM150.0 197.9h1v1h-1zM168.4 192.8h1v1h-1zM142.1 196.4h1v1h-1zM157.8 195.7h1v1h-1zM143.9 204.4h1v1h-1zM153.0 204.8h1v1h-1zM151.1 195.9h1v1h-1zM151.3 196.2h1v1h-1zM171.5 197.0h1v1h-1zM135.7 198.5h1v1h-1zM157.1 202.6h1v1h-1zM171.0 200.5h1v1h-1zM168.3 193.1h1v1h-1zM138.0 198.1h1v1h-1zM153.5 192.5h1v1h-1zM161.0 197.9h1v1h-1zM137.1 204.8h1v1h-1zM132.1 197.8h1v1h-1zM137.7 194.3h1v1h-1zM132.2 197.9h1v1h-1zM167.2 193.7h1v1h-1zM161.6 192.3h1v1h-1zM145.3 194.7h1v1h-1zM134.3 195.6h1v1h-1zM148.3 191.6h1v1h-1zM159.4 199.1h1v1h-1zM152.8 194.8h1v1h-1zM149.8 201.3h1v1h-1zM148.1 192.5h1v1h-1zM161.8 194.7h1v1h-1zM163.8 191.5h1v1h-1zM159.1 193.5h1v1h-1zM169.0 200.4h1v1h-1zM138.0 196.7h1v1h-1zM145.7 198.2h1v1h-1zM160.4 200.1h1v1h-1zM171.7 195.3h1v1h-1zM149.5 205.7h1v1h-1zM154.8 196.2h1v1h-1zM164.4 196.9h1v1h-1zM159.1 196.8h1v1h-1zM145.1 202.5h1v1h-1zM151.4 194.0h1v1h-1zM141.0 197.3h1v1h-1zM134.1 194.4h1v1h-1zM144.5 205.7h1v1h-1zM172.7 198.2h1v1h-1zM163.0 203.0h1v1h-1zM150.5 198.7h1v1h-1zM147.3 192.1h1v1h-1zM160.2 192.0h1v1h-1zM166.7 194.5h1v1h-1zM154.8 201.8h1v1h-1zM136.4 193.5h1v1h-1zM149.4 193.9h1v1h-1zM170.6 193.4h1v1h-1zM163.6 193.0h1v1h-1zM155.7 190.0h1v1h-1zM143.9 192.5h1v1h-1zM159.4 190.8h1v1h-1zM132.4 201.9h1v1h-1zM168.9 198.1h1v1h-1zM168.5 199.4h1v1h-1zM145.3 197.4h1v1h-1zM137.1 197.4h1v1h-1zM155.9 192.8h1v1h-1zM157.4 202.7h1v1h-1zM167.0 195.6h1v1h-1zM151.0 201.6h1v1h-1zM152.7 199.1h1v1h-1zM151.8 201.8h1v1h-1zM170.6 199.8h1v1h-1zM171.9 195.6h1v1h-1zM144.9 195.9h1v1h-1zM159.0 199.9h1v1h-1zM146.7 205.5h1v1h-1zM146.0 205.0h1v1h-1zM161.0 196.2h1v1h-1zM148.6 200.4h1v1h-1zM160.4 204.4h1v1h-1zM136.9 197.2h1v1h-1zM131.2 203.1h1v1h-1zM144.9 203.1h1v1h-1zM163.0 190.6h1v1h-1zM143.8 199.8h1v1h-1zM139.4 197.5h1v1h-1zM164.4 196.6h1v1h-1zM132.6 197.2h1v1h-1zM131.2 201.1h1v1h-1zM158.0 194.3h1v1h-1zM151.2 191.6h1v1h-1zM157.1 193.0h1v1h-1zM167.7 195.3h1v1h-1zM146.6 201.3h1v1h-1zM161.5 201.7h1v1h-1zM144.8 198.1h1v1h-1zM132.3 203.1h1v1h-1zM156.6 199.1h1v1h-1zM135.8 203.3h1v1h-1zM140.5 204.3h1v1h-1zM144.5 193.6h1v1h-1zM168.9 193.4h1v1h-1zM140.6 194.1h1v1h-1zM169.1 197.8h1v1h-1zM153.1 195.1h1v1h-1zM139.9 192.2h1v1h-1zM155.8 198.0h1v1h-1zM169.6 195.8h1v1h-1zM147.3 203.6h1v1h-1zM140.3 199.3h1v1h-1zM155.9 190.4h1v1h-1zM154.3 199.0h1v1h-1zM140.8 193.9h1v1h-1zM129.0 200.3h1v1h-1zM139.5 196.7h1v1h-1zM154.4 200.0h1v1h-1zM141.2 199.8h1v1h-1zM152.5 195.4h1v1h-1zM146.8 196.5h1v1h-1zM135.3 197.0h1v1h-1zM154.8 199.8h1v1h-1zM168.7 194.9h1v1h-1zM170.9 199.5h1v1h-1zM141.2 203.2h1v1h-1zM143.8 199.1h1v1h-1zM171.6 191.9h1v1h-1zM158.0 198.3h1v1h-1zM151.0 197.0h1v1h-1zM141.2 198.8h1v1h-1zM155.3 197.5h1v1h-1zM144.6 193.9h1v1h-1zM157.2 193.3h1v1h-1zM141.6 197.4h1v1h-1zM161.4 189.7h1v1h-1zM157.1 193.2h1v1h-1zM139.9 195.6h1v1h-1zM135.8 201.6h1v1h-1zM158.3 193.8h1v1h-1zM141.9 203.3h1v1h-1zM152.8 202.4h1v1h-1zM148.3 193.3h1v1h-1zM141.0 200.3h1v1h-1zM150.0 196.8h1v1h-1zM148.2 198.2h1v1h-1zM164.1 190.4h1v1h-1zM156.8 204.4h1v1h-1zM150.7 190.8h1v1h-1zM135.5 202.1h1v1h-1zM146.5 198.4h1v1h-1zM161.5 194.1h1v1h-1zM145.3 190.6h1v1h-1zM166.7 200.2h1v1h-1zM147.2 196.5h1v1h-1zM158.8 204.0h1v1h-1zM148.0 205.3h1v1h-1zM139.8 197.6h1v1h-1zM136.9 203.8h1v1h-1zM140.7 201.1h1v1h-1zM164.3 200.5h1v1h-1zM135.0 193.5h1v1h-1zM142.0 202.8h1v1h-1zM146.2 196.5h1v1h-1zM151.7 190.3h1v1h-1zM169.7 193.3h1v1h-1zM161.6 192.3h1v1h-1zM161.6 194.0h1v1h-1zM156.4 195.5h1v1h-1zM154.6 192.0h1v1h-1zM145.4 205.6h1v1h-1zM138.0 199.9h1v1h-1zM161.0 199.0h1v1h-1zM159.7 200.6h1v1h-1zM145.3 192.5h1v1h-1zM140.0 200.5h1v1h-1zM142.1 201.3h1v1h-1zM167.1 198.4h1v1h-1zM153.2 195.8h1v1h-1zM164.8 195.1h1v1h-1zM171.1 198.6h1v1h-1zM139.9 198.2h1v1h-1zM132.8 196.7h1v1h-1zM136.6 200.9h1v1h-1zM145.8 203.5h1v1h-1zM152.3 198.9h1v1h-1zM146.7 204.5h1v1h-1zM165.6 194.4h1v1h-1zM168.2 193.2h1v1h-1zM171.4 197.9h1v1h-1zM141.4 194.2h1v1h-1zM166.7 196.2h1v1h-1zM141.5 198.8h1v1h-1zM166.1 191.8h1v1h-1zM152.1 193.5h1v1h-1zM163.6 200.7h1v1h-1zM145.3 204.7h1v1h-1zM137.9 200.6h1v1h-1zM164.0 199.1h1v1h-1zM151.7 202.6h1v1h-1zM156.9 199.0h1v1h-1zM159.1 200.3h1v1h-1zM162.9 192.6h1v1h-1zM168.2 194.1h1v1h-1zM141.0 194.9h1v1h-1zM154.2 202.3h1v1h-1zM169.8 199.1h1v1h-1zM160.2 195.3h1v1h-1zM136.5 192.8h1v1h-1zM142.0 204.8h1v1h-1zM160.6 191.9h1v1h-1zM145.2 193.8h1v1h-1zM149.3 194.6h1v1h-1zM147.0 197.3h1v1h-1zM165.6 199.0h1v1h-1zM165.0 200.4h1v1h-1zM143.6 198.9h1v1h-1zM147.1 201.9h1v1h-1zM149.5 199.6h1v1h-1zM138.3 201.2h1v1h-1zM149.1 193.0h1v1h-1zM148.8 204.1h1v1h-1zM133.4 202.4h1v1h-1zM173.1 199.4h1v1h-1zM151.6 200.5h1v1h-1zM149.3 197.6h1v1h-1zM168.5 194.0h1v1h-1zM153.7 193.8h1v1h-1zM149.7 202.8h1v1h-1zM135.3 198.4h1v1h-1zM145.5 200.1h1v1h-1zM168.7 201.2h1v1h-1zM157.0 201.0h1v1h-1zM141.1 198.6h1v1h-1zM150.2 192.4h1v1h-1zM156.7 204.3h1v1h-1zM159.4 201.4h1v1h-1zM139.7 197.2h1v1h-1zM169.3 193.3h1v1h-1zM148.5 195.2h1v1h-1zM155.6 196.0h1v1h-1zM150.7 198.9h1v1h-1zM143.2 203.5h1v1h-1zM172.1 197.2h1v1h-1zM149.1 198.6h1v1h-1zM153.3 193.7h1v1h-1zM170.3 191.7h1v1h-1zM166.0 190.3h1v1h-1zM141.8 205.1h1v1h-1zM145.9 191.4h1v1h-1zM161.4 190.7h1v1h-1zM136.2 200.8h1v1h-1zM168.8 198.4h1v1h-1zM137.0 201.2h1v1h-1zM169.8 192.3h1v1h-1zM145.4 202.2h1v1h-1zM130.2 202.4h1v1h-1zM166.6 198.9h1v1h-1zM136.8 204.5h1v1h-1zM139.9 201.0h1v1h-1zM168.6 196.1h1v1h-1zM153.5 199.2h1v1h-1zM149.5 190.6h1v1h-1zM136.8 203.2h1v1h-1zM157.4 194.6h1v1h-1zM145.5 192.4h1v1h-1zM161.6 192.7h1v1h-1zM168.9 199.8h1v1h-1zM136.7 195.9h1v1h-1zM161.5 201.6h1v1h-1zM146.8 201.0h1v1h-1zM155.8 193.8h1v1h-1zM157.7 190.1h1v1h-1zM132.5 201.8h1v1h-1zM141.9 201.7h1v1h-1zM152.1 194.3h1v1h-1zM133.4 197.0h1v1h-1zM148.7 199.4h1v1h-1zM140.5 202.6h1v1h-1zM137.6 203.5h1v1h-1zM149.1 196.9h1v1h-1zM135.6 201.1h1v1h-1zM141.8 191.4h1v1h-1zM148.7 203.5h1v1h-1zM147.3 203.2h1v1h-1zM152.1 204.2h1v1h-1zM144.6 203.9h1v1h-1zM155.6 198.8h1v1h-1zM155.7 202.2h1v1h-1zM144.5 190.7h1v1h-1zM174.2 193.6h1v1h-1zM141.5 205.1h1v1h-1zM147.9 195.3h1v1h-1zM136.4 198.4h1v1h-1zM150.6 200.6h1v1h-1zM154.1 203.0h1v1h-1zM166.3 199.8h1v1h-1zM133.8 197.4h1v1h-1zM158.3 203.5h1v1h-1zM160.2 201.6h1v1h-1zM164.5 200.4h1v1h-1zM160.2 202.1h1v1h-1zM141.9 195.7h1v1h-1zM164.6 203.1h1v1h-1zM159.3 191.4h1v1h-1zM155.6 201.5h1v1h-1zM163.2 192.2h1v1h-1zM142.5 197.4h1v1h-1zM161.0 193.9h1v1h-1zM148.4 194.3h1v1h-1zM137.9 199.2h1v1h-1zM153.4 201.0h1v1h-1zM148.3 201.5h1v1h-1zM160.4 203.1h1v1h-1zM151.8 204.8h1v1h-1zM166.5 197.4h1v1h-1zM144.1 198.9h1v1h-1zM141.7 195.1h1v1h-1zM155.5 195.4h1v1h-1zM161.9 194.4h1v1h-1zM145.6 202.0h1v1h-1zM154.9 197.3h1v1h-1zM142.9 193.6h1v1h-1zM133.2 197.9h1v1h-1zM165.6 203.0h1v1h-1zM154.5 199.0h1v1h-1zM169.7 191.7h1v1h-1zM159.0 196.6h1v1h-1zM149.4 191.1h1v1h-1zM159.5 197.0h1v1h-1zM172.7 193.1h1v1h-1zM159.3 196.1h1v1h-1zM144.7 195.1h1v1h-1zM148.7 199.2h1v1h-1zM139.5 203.1h1v1h-1zM168.3 196.0h1v1h-1zM165.3 196.9h1v1h-1zM146.8 193.2h1v1h-1zM164.2 196.8h1v1h-1zM162.6 196.2h1v1h-1zM138.4 196.8h1v1h-1zM141.9 202.6h1v1h-1zM165.2 195.0h1v1h-1zM151.7 200.1h1v1h-1zM158.9 197.7h1v1h-1zM155.4 202.0h1v1h-1zM143.0 200.7h1v1h-1zM172.2 196.2h1v1h-1zM149.0 191.6h1v1h-1zM161.2 199.8h1v1h-1zM171.6 195.6h1v1h-1zM155.2 197.7h1v1h-1zM146.6 201.2h1v1h-1zM149.5 190.8h1v1h-1zM166.0 195.4h1v1h-1zM155.8 192.8h1v1h-1zM152.6 199.9h1v1h-1zM167.9 192.6h1v1h-1zM140.6 194.1h1v1h-1zM139.0 202.1h1v1h-1zM129.8 196.8h1v1h-1zM144.9 198.0h1v1h-1zM155.2 196.4h1v1h-1zM160.1 200.1h1v1h-1zM134.1 199.2h1v1h-1zM171.1 199.4h1v1h-1zM171.1 194.6h1v1h-1zM153.8 193.4h1v1h-1zM160.4 196.2h1v1h-1zM142.2 191.8h1v1h-1zM134.0 198.2h1v1h-1zM154.3 202.0h1v1h-1zM150.2 193.0h1v1h-1zM142.7 200.8h1v1h-1zM131.6 200.2h1v1h-1zM133.3 197.5h1v1h-1zM165.4 201.2h1v1h-1zM175.2 196.6h1v1h-1zM159.1 197.7h1v1h-1zM161.8 197.3h1v1h-1zM157.1 201.8h1v1h-1zM143.2 199.5h1v1h-1zM157.9 198.9h1v1h-1zM130.3 198.4h1v1h-1zM133.3 201.8h1v1h-1zM159.8 196.8h1v1h-1zM156.4 194.4h1v1h-1zM133.1 200.5h1v1h-1zM148.9 200.4h1v1h-1zM156.0 194.0h1v1h-1zM155.1 196.1h1v1h-1zM161.9 201.0h1v1h-1zM136.6 200.2h1v1h-1zM150.0 193.8h1v1h-1zM135.6 195.7h1v1h-1zM157.1 195.6h1v1h-1zM167.4 196.9h1v1h-1zM136.8 197.6h1v1h-1zM148.3 204.2h1v1h-1zM160.0 196.9h1v1h-1zM147.8 190.8h1v1h-1zM161.2 198.2h1v1h-1zM154.6 198.1h1v1h-1zM168.4 196.1h1v1h-1zM138.2 202.5h1v1h-1zM148.9 191.9h1v1h-1zM145.0 199.0h1v1h-1zM136.0 199.3h1v1h-1zM166.8 196.6h1v1h-1zM131.9 197.9h1v1h-1zM156.1 202.0h1v1h-1zM142.4 202.4h1v1h-1zM144.8 203.1h1v1h-1zM139.4 194.5h1v1h-1zM145.6 190.6h1v1h-1zM159.2 201.8h1v1h-1zM150.4 194.3h1v1h-1zM152.6 195.3h1v1h-1zM145.5 190.6h1v1h-1zM152.7 203.0h1v1h-1zM170.7 198.3h1v1h-1zM153.9 197.0h1v1h-1zM153.6 204.5h1v1h-1zM144.5 195.8h1v1h-1zM167.6 200.7h1v1h-1zM159.8 189.7h1v1h-1zM150.3 199.9h1v1h-1zM137.8 202.3h1v1h-1zM145.2 198.3h1v1h-1zM140.2 193.6h1v1h-1zM147.1 204.0h1v1h-1zM150.1 205.6h1v1h-1zM159.5 193.3h1v1h-1zM154.3 205.4h1v1h-1zM162.1 199.2h1v1h-1zM156.7 196.3h1v1h-1zM148.5 200.0h1v1h-1zM157.2 199.5h1v1h-1zM163.1 201.3h1v1h-1zM164.3 199.8h1v1h-1zM166.8 192.8h1v1h-1zM160.1 198.0h1v1h-1zM153.1 189.6h1v1h-1zM156.8 190.4h1v1h-1zM134.4 198.2h1v1h-1zM122.2 223.1h1v1h-1zM129.6 224.7h1v1h-1zM117.0 224.9h1v1h-1zM125.2 228.9h1v1h-1zM119.6 219.6h1v1h-1zM123.9 225.2h1v1h-1zM123.6 221.9h1v1h-1zM116.6 226.1h1v1h-1zM121.7 216.7h1v1h-1zM116.5 219.1h1v1h-1zM123.4 227.6h1v1h-1zM120.7 225.8h1v1h-1zM117.9 224.1h1v1h-1zM116.3 220.9h1v1h-1zM123.0 227.1h1v1h-1zM127.8 221.2h1v1h-1zM126.7 218.4h1v1h-1zM123.5 226.5h1v1h-1zM126.1 221.6h1v1h-1zM118.0 224.6h1v1h-1zM117.8 225.1h1v1h-1zM124.7 229.2h1v1h-1zM124.3 226.8h1v1h-1zM123.8 216.8h1v1h-1zM129.7 221.7h1v1h-1zM124.9 221.5h1v1h-1zM121.3 217.9h1v1h-1zM116.2 220.7h1v1h-1zM123.0 227.4h1v1h-1zM129.8 226.6h1v1h-1zM122.7 220.2h1v1h-1zM116.0 225.7h1v1h-1zM119.0 226.8h1v1h-1zM124.8 219.8h1v1h-1zM124.3 219.1h1v1h-1zM122.2 221.8h1v1h-1zM126.7 223.0h1v1h-1zM129.9 220.2h1v1h-1zM123.2 224.0h1v1h-1zM124.5 218.3h1v1h-1zM116.6 219.6h1v1h-1zM123.4 226.6h1v1h-1zM121.4 221.5h1v1h-1zM116.4 223.6h1v1h-1zM123.1 227.3h1v1h-1zM115.2 221.5h1v1h-1zM121.9 217.8h1v1h-1zM129.3 221.2h1v1h-1zM130.1 222.9h1v1h-1zM127.8 220.8h1v1h-1zM120.4 228.6h1v1h-1zM126.9 227.1h1v1h-1zM120.6 227.5h1v1h-1zM122.6 226.3h1v1h-1zM126.0 219.4h1v1h-1zM128.7 222.5h1v1h-1zM130.6 221.3h1v1h-1zM123.5 228.0h1v1h-1zM123.2 216.8h1v1h-1zM125.1 225.3h1v1h-1zM125.0 220.2h1v1h-1zM116.6 225.4h1v1h-1zM125.1 227.4h1v1h-1zM125.3 225.3h1v1h-1zM125.2 217.0h1v1h-1zM124.0 228.4h1v1h-1zM128.3 223.4h1v1h-1zM117.2 222.2h1v1h-1zM128.7 218.2h1v1h-1zM123.3 221.9h1v1h-1zM125.5 219.8h1v1h-1zM119.0 222.8h1v1h-1zM123.8 224.9h1v1h-1zM115.5 225.0h1v1h-1zM127.5 224.6h1v1h-1zM124.0 218.5h1v1h-1zM126.2 218.6h1v1h-1zM127.5 218.1h1v1h-1zM118.3 223.1h1v1h-1zM120.5 221.6h1v1h-1zM117.6 221.4h1v1h-1zM124.3 218.9h1v1h-1zM130.0 221.3h1v1h-1zM123.5 218.1h1v1h-1zM121.7 217.0h1v1h-1zM124.2 227.4h1v1h-1zM124.1 225.1h1v1h-1zM128.4 223.2h1v1h-1zM128.6 220.3h1v1h-1zM123.2 219.0h1v1h-1zM124.8 224.3h1v1h-1zM118.1 223.0h1v1h-1zM120.2 219.8h1v1h-1zM121.7 227.8h1v1h-1zM124.2 222.4h1v1h-1zM125.7 227.0h1v1h-1zM125.5 228.4h1v1h-1zM121.7 217.2h1v1h-1zM127.4 222.4h1v1h-1zM126.2 221.7h1v1h-1zM126.6 222.4h1v1h-1zM123.8 223.5h1v1h-1zM129.2 222.0h1v1h-1zM124.8 219.4h1v1h-1zM123.9 222.4h1v1h-1zM116.3 223.9h1v1h-1zM118.1 222.6h1v1h-1zM130.8 223.2h1v1h-1zM126.3 217.9h1v1h-1zM124.7 223.5h1v1h-1zM116.6 222.7h1v1h-1zM119.2 228.3h1v1h-1zM130.9 221.4h1v1h-1zM122.1 221.0h1v1h-1zM123.8 221.6h1v1h-1zM118.1 218.2h1v1h-1zM123.4 223.3h1v1h-1zM122.0 229.4h1v1h-1zM119.3 223.7h1v1h-1zM120.6 226.7h1v1h-1zM118.3 225.0h1v1h-1zM124.0 217.0h1v1h-1zM129.7 220.3h1v1h-1zM130.7 222.6h1v1h-1zM130.1 220.9h1v1h-1zM127.7 222.3h1v1h-1zM126.7 220.3h1v1h-1zM130.8 223.8h1v1h-1zM121.4 227.1h1v1h-1zM120.1 221.9h1v1h-1zM119.5 218.1h1v1h-1zM122.8 224.7h1v1h-1zM128.3 221.3h1v1h-1zM123.1 220.1h1v1h-1zM125.4 222.5h1v1h-1zM121.6 227.0h1v1h-1zM122.3 221.3h1v1h-1zM124.5 222.9h1v1h-1zM117.0 220.5h1v1h-1zM119.7 225.0h1v1h-1zM126.5 219.7h1v1h-1zM130.5 220.2h1v1h-1zM118.9 226.6h1v1h-1zM125.8 227.1h1v1h-1zM121.8 217.3h1v1h-1zM127.0 224.4h1v1h-1zM126.8 223.1h1v1h-1zM115.2 220.5h1v1h-1zM121.0 226.9h1v1h-1zM128.4 225.5h1v1h-1zM119.7 224.4h1v1h-1zM116.1 225.0h1v1h-1zM118.7 221.3h1v1h-1zM124.1 224.3h1v1h-1zM124.3 223.8h1v1h-1zM119.9 224.5h1v1h-1zM123.3 216.6h1v1h-1zM121.9 219.9h1v1h-1zM123.8 227.1h1v1h-1zM129.2 222.6h1v1h-1zM122.1 226.7h1v1h-1zM116.1 222.9h1v1h-1zM120.4 217.5h1v1h-1zM127.5 225.1h1v1h-1zM120.9 226.3h1v1h-1zM121.9 224.3h1v1h-1zM127.3 221.5h1v1h-1zM115.5 223.9h1v1h-1zM126.8 225.5h1v1h-1zM128.8 227.5h1v1h-1zM127.2 220.9h1v1h-1zM119.4 220.3h1v1h-1zM119.0 219.0h1v1h-1zM126.7 223.3h1v1h-1zM119.8 219.0h1v1h-1zM118.1 220.1h1v1h-1zM127.3 226.3h1v1h-1zM127.0 218.8h1v1h-1zM125.4 228.6h1v1h-1zM120.2 223.1h1v1h-1zM129.4 220.1h1v1h-1zM117.4 219.5h1v1h-1zM120.6 229.0h1v1h-1zM125.7 227.8h1v1h-1zM125.5 223.6h1v1h-1zM125.7 220.2h1v1h-1zM122.4 228.1h1v1h-1zM123.3 223.0h1v1h-1zM122.8 220.0h1v1h-1zM127.6 225.4h1v1h-1zM122.6 224.4h1v1h-1zM122.2 225.6h1v1h-1zM121.5 223.7h1v1h-1zM128.5 219.9h1v1h-1zM126.4 221.0h1v1h-1zM127.9 225.4h1v1h-1zM121.4 226.9h1v1h-1zM122.5 220.5h1v1h-1zM120.3 221.2h1v1h-1zM121.5 227.4h1v1h-1zM118.7 218.8h1v1h-1zM119.7 222.7h1v1h-1zM130.0 220.6h1v1h-1zM124.2 220.1h1v1h-1zM123.7 220.4h1v1h-1zM124.3 225.4h1v1h-1zM125.7 226.2h1v1h-1zM124.0 222.2h1v1h-1zM117.5 220.5h1v1h-1zM122.6 219.3h1v1h-1zM127.4 227.0h1v1h-1zM119.0 221.1h1v1h-1zM118.2 224.1h1v1h-1zM119.1 225.5h1v1h-1zM119.2 225.8h1v1h-1zM120.6 221.6h1v1h-1zM126.3 222.8h1v1h-1zM127.2 218.5h1v1h-1zM116.9 218.9h1v1h-1zM118.3 226.6h1v1h-1zM117.0 226.9h1v1h-1zM122.3 222.0h1v1h-1zM124.4 217.6h1v1h-1zM121.0 219.5h1v1h-1zM121.0 225.6h1v1h-1zM125.7 219.9h1v1h-1zM124.7 225.6h1v1h-1zM118.5 224.1h1v1h-1zM123.6 229.0h1v1h-1zM119.2 227.2h1v1h-1zM125.2 219.4h1v1h-1zM123.4 227.1h1v1h-1zM127.7 223.8h1v1h-1zM126.1 226.2h1v1h-1zM118.9 224.7h1v1h-1zM122.7 217.3h1v1h-1zM119.1 224.4h1v1h-1zM121.2 217.2h1v1h-1zM121.4 226.9h1v1h-1zM128.3 219.0h1v1h-1zM130.0 224.1h1v1h-1zM121.4 223.3h1v1h-1zM126.9 225.5h1v1h-1zM124.7 217.3h1v1h-1zM115.7 225.0h1v1h-1zM122.2 226.4h1v1h-1zM128.6 225.1h1v1h-1zM118.7 222.3h1v1h-1zM122.5 225.6h1v1h-1zM120.5 221.0h1v1h-1zM129.7 223.1h1v1h-1zM121.8 225.7h1v1h-1zM115.5 224.1h1v1h-1zM120.2 224.0h1v1h-1zM121.8 228.2h1v1h-1zM123.0 222.0h1v1h-1zM130.5 224.2h1v1h-1zM116.2 219.4h1v1h-1zM124.4 217.4h1v1h-1zM124.6 218.9h1v1h-1zM128.8 219.8h1v1h-1zM115.3 222.4h1v1h-1zM124.0 221.9h1v1h-1zM117.4 218.2h1v1h-1zM124.9 226.8h1v1h-1zM127.2 228.2h1v1h-1zM122.6 220.7h1v1h-1zM127.1 218.5h1v1h-1zM117.6 218.7h1v1h-1zM130.6 224.3h1v1h-1zM122.1 219.7h1v1h-1zM120.8 224.8h1v1h-1zM121.2 226.6h1v1h-1zM116.7 219.6h1v1h-1zM114.8 223.2h1v1h-1zM129.1 218.6h1v1h-1zM120.8 223.7h1v1h-1zM125.4 219.8h1v1h-1zM115.6 221.1h1v1h-1zM118.7 223.4h1v1h-1zM123.0 225.1h1v1h-1zM116.9 223.5h1v1h-1zM121.3 220.3h1v1h-1zM121.4 228.1h1v1h-1zM115.5 222.3h1v1h-1zM119.1 221.4h1v1h-1zM114.7 222.8h1v1h-1zM122.3 219.6h1v1h-1zM118.3 226.7h1v1h-1zM125.8 223.3h1v1h-1zM117.0 225.8h1v1h-1zM117.7 225.7h1v1h-1zM125.5 217.6h1v1h-1zM126.6 222.9h1v1h-1zM125.4 228.0h1v1h-1zM126.0 217.3h1v1h-1zM124.1 222.7h1v1h-1zM117.4 221.3h1v1h-1zM128.1 222.8h1v1h-1zM115.8 220.4h1v1h-1zM119.3 219.4h1v1h-1zM122.6 218.5h1v1h-1zM121.7 226.1h1v1h-1zM125.7 228.2h1v1h-1zM120.8 219.0h1v1h-1zM129.3 223.1h1v1h-1zM127.2 224.1h1v1h-1zM129.3 224.1h1v1h-1zM125.4 225.8h1v1h-1zM119.8 218.0h1v1h-1zM123.6 229.1h1v1h-1zM121.1 222.8h1v1h-1zM124.7 223.5h1v1h-1zM122.6 228.0h1v1h-1zM123.3 225.9h1v1h-1zM119.8 224.8h1v1h-1zM120.7 219.7h1v1h-1zM119.7 223.7h1v1h-1zM123.8 225.3h1v1h-1zM127.8 227.2h1v1h-1zM120.0 227.0h1v1h-1zM127.8 219.2h1v1h-1zM125.4 220.5h1v1h-1zM127.3 221.7h1v1h-1zM125.0 223.8h1v1h-1zM120.5 227.9h1v1h-1zM119.5 221.9h1v1h-1zM125.9 220.6h1v1h-1zM124.1 220.1h1v1h-1zM125.4 229.2h1v1h-1zM126.2 220.8h1v1h-1zM127.2 219.3h1v1h-1zM122.1 217.6h1v1h-1zM124.7 224.1h1v1h-1zM129.1 223.1h1v1h-1zM125.5 224.2h1v1h-1zM128.0 221.4h1v1h-1zM124.6 219.0h1v1h-1zM117.0 220.2h1v1h-1zM118.7 224.4h1v1h-1zM127.6 224.4h1v1h-1zM118.7 223.9h1v1h-1zM119.4 222.8h1v1h-1zM120.1 228.7h1v1h-1zM122.3 224.3h1v1h-1zM120.8 228.4h1v1h-1zM123.4 227.8h1v1h-1zM123.7 225.2h1v1h-1zM120.9 225.3h1v1h-1zM119.7 222.2h1v1h-1zM121.5 227.6h1v1h-1zM122.2 225.8h1v1h-1zM122.2 223.1h1v1h-1zM127.5 226.0h1v1h-1zM129.3 223.5h1v1h-1zM123.4 226.8h1v1h-1zM125.6 219.2h1v1h-1zM122.1 223.6h1v1h-1zM126.7 223.5h1v1h-1zM123.2 223.0h1v1h-1zM126.4 222.5h1v1h-1zM121.3 226.2h1v1h-1zM124.5 221.5h1v1h-1zM121.7 229.0h1v1h-1zM123.5 225.9h1v1h-1zM126.1 220.3h1v1h-1zM118.6 219.8h1v1h-1zM123.4 222.9h1v1h-1zM126.3 228.6h1v1h-1zM129.9 224.2h1v1h-1zM128.3 220.8h1v1h-1zM120.2 223.9h1v1h-1zM117.7 226.8h1v1h-1zM127.2 226.8h1v1h-1zM125.0 218.8h1v1h-1zM125.2 222.7h1v1h-1zM128.6 219.1h1v1h-1zM125.7 220.4h1v1h-1zM116.6 225.2h1v1h-1zM116.0 222.4h1v1h-1zM138.6 217.9h1v1h-1zM158.7 208.5h1v1h-1zM152.9 217.5h1v1h-1zM139.4 215.4h1v1h-1zM151.3 209.5h1v1h-1zM155.8 210.6h1v1h-1zM165.0 214.9h1v1h-1zM171.9 212.6h1v1h-1zM141.3 216.0h1v1h-1zM152.9 210.5h1v1h-1zM153.1 208.1h1v1h-1zM163.3 214.2h1v1h-1zM142.9 212.1h1v1h-1zM146.4 214.8h1v1h-1zM154.2 213.3h1v1h-1zM146.7 211.9h1v1h-1zM142.1 213.6h1v1h-1zM152.7 208.2h1v1h-1zM147.6 212.6h1v1h-1zM147.3 215.9h1v1h-1zM150.3 213.9h1v1h-1zM145.1 214.5h1v1h-1zM158.5 213.1h1v1h-1zM156.9 217.2h1v1h-1zM147.8 209.1h1v1h-1zM159.7 213.9h1v1h-1zM156.6 217.8h1v1h-1zM156.9 218.7h1v1h-1zM148.9 215.5h1v1h-1zM162.1 214.6h1v1h-1zM155.1 213.7h1v1h-1zM145.5 209.9h1v1h-1zM165.9 213.3h1v1h-1zM145.6 219.1h1v1h-1zM142.0 211.4h1v1h-1zM161.8 211.4h1v1h-1zM155.8 213.2h1v1h-1zM163.7 215.3h1v1h-1zM136.9 218.5h1v1h-1zM147.1 211.9h1v1h-1zM145.2 213.5h1v1h-1zM148.8 216.1h1v1h-1zM162.0 215.4h1v1h-1zM151.2 218.6h1v1h-1zM139.8 218.2h1v1h-1zM149.0 212.0h1v1h-1zM148.2 218.9h1v1h-1zM153.3 218.2h1v1h-1zM162.9 214.4h1v1h-1zM152.9 210.7h1v1h-1zM153.6 210.8h1v1h-1zM133.3 216.0h1v1h-1zM159.6 212.9h1v1h-1zM158.9 215.1h1v1h-1zM141.3 214.8h1v1h-1zM168.8 215.4h1v1h-1zM146.8 219.3h1v1h-1zM164.3 214.3h1v1h-1zM141.3 218.7h1v1h-1zM161.0 211.8h1v1h-1zM153.4 211.1h1v1h-1zM159.4 209.5h1v1h-1zM165.5 216.1h1v1h-1zM153.5 214.7h1v1h-1zM157.3 213.9h1v1h-1zM136.9 211.2h1v1h-1zM160.0 211.9h1v1h-1zM144.1 213.1h1v1h-1zM152.9 213.3h1v1h-1zM148.7 214.0h1v1h-1zM165.0 213.1h1v1h-1zM152.9 216.0h1v1h-1zM139.5 211.3h1v1h-1zM144.6 216.6h1v1h-1zM152.1 211.3h1v1h-1zM170.4 210.1h1v1h-1zM158.2 218.2h1v1h-1zM162.7 211.3h1v1h-1zM172.8 211.4h1v1h-1zM147.6 208.7h1v1h-1zM149.0 213.4h1v1h-1zM144.7 213.6h1v1h-1zM155.6 212.0h1v1h-1zM140.8 212.0h1v1h-1zM137.2 214.9h1v1h-1zM148.6 215.8h1v1h-1zM151.2 218.7h1v1h-1zM166.5 217.8h1v1h-1zM163.2 218.5h1v1h-1zM144.7 215.6h1v1h-1zM157.4 210.1h1v1h-1zM154.3 214.9h1v1h-1zM146.6 209.5h1v1h-1zM162.5 212.0h1v1h-1zM171.3 211.4h1v1h-1zM158.5 211.7h1v1h-1zM144.2 216.3h1v1h-1zM166.1 214.1h1v1h-1zM148.4 210.8h1v1h-1zM154.1 211.7h1v1h-1zM164.5 215.7h1v1h-1zM164.4 215.8h1v1h-1zM152.4 211.0h1v1h-1zM148.1 216.4h1v1h-1zM139.1 211.6h1v1h-1zM161.0 213.8h1v1h-1zM152.2 214.1h1v1h-1zM156.5 214.6h1v1h-1zM172.1 212.5h1v1h-1zM148.8 214.3h1v1h-1zM134.4 212.5h1v1h-1zM169.9 212.0h1v1h-1zM154.4 212.6h1v1h-1zM138.2 215.8h1v1h-1zM157.8 216.8h1v1h-1zM153.1 213.4h1v1h-1zM159.0 215.9h1v1h-1zM164.4 216.9h1v1h-1zM154.4 219.0h1v1h-1zM159.2 216.2h1v1h-1zM144.6 214.8h1v1h-1zM158.7 214.0h1v1h-1zM138.9 214.5h1v1h-1zM146.6 211.9h1v1h-1zM145.8 213.7h1v1h-1zM152.4 216.8h1v1h-1zM158.5 218.2h1v1h-1zM141.9 217.1h1v1h-1zM169.1 213.4h1v1h-1zM158.2 208.1h1v1h-1zM138.5 218.9h1v1h-1zM146.8 213.2h1v1h-1zM157.2 209.0h1v1h-1zM164.9 212.5h1v1h-1zM142.0 209.8h1v1h-1zM165.3 213.0h1v1h-1zM166.0 210.3h1v1h-1zM152.4 208.7h1v1h-1zM150.4 216.8h1v1h-1zM140.1 210.2h1v1h-1zM151.9 211.1h1v1h-1zM164.9 213.2h1v1h-1zM161.3 210.3h1v1h-1zM141.2 218.0h1v1h-1zM154.2 219.2h1v1h-1zM164.1 212.0h1v1h-1zM144.1 211.7h1v1h-1zM168.6 212.8h1v1h-1zM151.4 214.4h1v1h-1zM148.5 215.3h1v1h-1zM150.7 211.5h1v1h-1zM145.5 211.1h1v1h-1zM145.6 212.3h1v1h-1zM159.7 212.5h1v1h-1zM155.3 211.4h1v1h-1zM144.7 210.4h1v1h-1zM153.9 218.8h1v1h-1zM162.3 217.3h1v1h-1zM146.6 217.6h1v1h-1zM142.7 211.3h1v1h-1zM153.9 211.7h1v1h-1zM157.5 212.3h1v1h-1zM157.5 210.5h1v1h-1zM165.3 213.8h1v1h-1zM133.2 216.2h1v1h-1zM136.5 215.7h1v1h-1zM135.4 213.8h1v1h-1zM154.1 217.3h1v1h-1zM153.9 210.6h1v1h-1zM169.0 212.4h1v1h-1zM147.8 217.4h1v1h-1zM154.8 217.2h1v1h-1zM164.2 217.7h1v1h-1zM162.9 213.0h1v1h-1zM149.0 213.0h1v1h-1zM140.5 217.6h1v1h-1zM150.0 210.9h1v1h-1zM143.2 213.8h1v1h-1zM137.4 215.7h1v1h-1zM149.3 216.5h1v1h-1zM151.6 218.7h1v1h-1zM159.7 214.4h1v1h-1zM165.3 210.9h1v1h-1zM161.0 208.4h1v1h-1zM146.8 216.2h1v1h-1zM150.4 216.5h1v1h-1zM169.2 215.0h1v1h-1zM146.6 218.7h1v1h-1zM152.5 209.2h1v1h-1zM141.7 212.6h1v1h-1zM149.0 213.5h1v1h-1zM146.5 218.4h1v1h-1zM157.9 211.4h1v1h-1zM145.0 215.3h1v1h-1zM135.3 216.4h1v1h-1zM154.7 215.8h1v1h-1zM173.0 213.1h1v1h-1zM157.1 216.5h1v1h-1zM148.9 212.9h1v1h-1zM142.2 211.5h1v1h-1zM157.1 213.6h1v1h-1zM142.3 212.6h1v1h-1zM168.4 211.6h1v1h-1zM152.5 218.7h1v1h-1zM135.5 214.2h1v1h-1zM149.2 216.8h1v1h-1zM146.6 214.6h1v1h-1zM147.7 217.3h1v1h-1zM157.1 209.8h1v1h-1zM146.5 213.2h1v1h-1zM156.1 213.5h1v1h-1zM167.2 213.9h1v1h-1zM160.8 212.2h1v1h-1zM134.1 216.1h1v1h-1zM148.4 219.5h1v1h-1zM154.5 212.8h1v1h-1zM165.5 209.2h1v1h-1zM154.0 215.2h1v1h-1zM170.1 213.0h1v1h-1zM141.5 214.4h1v1h-1zM140.6 214.5h1v1h-1zM145.8 209.3h1v1h-1zM143.7 217.4h1v1h-1zM142.9 213.0h1v1h-1zM147.3 212.3h1v1h-1zM157.2 212.1h1v1h-1zM136.2 216.9h1v1h-1zM150.2 214.6h1v1h-1zM167.5 215.4h1v1h-1zM142.9 214.7h1v1h-1zM162.7 212.4h1v1h-1zM147.1 208.9h1v1h-1zM150.8 212.6h1v1h-1zM158.4 213.3h1v1h-1zM167.8 217.1h1v1h-1zM142.4 218.8h1v1h-1zM134.9 214.2h1v1h-1zM165.3 214.1h1v1h-1zM163.4 216.3h1v1h-1zM162.7 209.4h1v1h-1zM160.4 216.8h1v1h-1zM141.0 212.7h1v1h-1zM156.4 211.2h1v1h-1zM144.7 215.2h1v1h-1zM158.5 210.6h1v1h-1zM163.7 210.2h1v1h-1zM155.5 211.7h1v1h-1zM143.1 212.3h1v1h-1zM138.3 213.0h1v1h-1zM165.2 217.4h1v1h-1zM151.2 210.4h1v1h-1zM167.6 212.0h1v1h-1zM172.3 214.1h1v1h-1zM162.5 218.6h1v1h-1zM155.6 211.1h1v1h-1zM148.4 210.0h1v1h-1zM153.8 214.4h1v1h-1zM146.9 210.5h1v1h-1zM149.2 209.9h1v1h-1zM164.1 217.2h1v1h-1zM139.7 210.6h1v1h-1zM154.8 216.2h1v1h-1zM153.0 218.7h1v1h-1zM147.9 216.1h1v1h-1zM164.2 211.8h1v1h-1zM152.0 217.8h1v1h-1zM146.4 214.8h1v1h-1zM164.7 217.0h1v1h-1zM142.3 213.4h1v1h-1zM145.0 212.1h1v1h-1zM162.9 218.1h1v1h-1zM138.4 216.1h1v1h-1zM155.2 216.2h1v1h-1zM150.0 214.0h1v1h-1zM146.2 210.3h1v1h-1zM148.3 211.1h1v1h-1zM139.6 214.0h1v1h-1zM157.6 216.6h1v1h-1zM149.9 212.9h1v1h-1zM140.0 215.8h1v1h-1zM170.1 216.0h1v1h-1zM152.0 216.5h1v1h-1zM152.9 213.9h1v1h-1zM167.2 215.5h1v1h-1zM138.2 215.6h1v1h-1zM140.0 214.6h1v1h-1zM165.6 211.9h1v1h-1zM139.5 217.7h1v1h-1zM159.9 218.0h1v1h-1zM155.2 211.7h1v1h-1zM151.9 216.6h1v1h-1zM151.0 219.2h1v1h-1zM148.7 212.4h1v1h-1zM162.7 211.0h1v1h-1zM142.1 213.3h1v1h-1zM151.4 212.8h1v1h-1zM161.8 213.1h1v1h-1zM139.7 211.9h1v1h-1zM150.4 218.0h1v1h-1zM165.3 213.6h1v1h-1zM138.8 214.7h1v1h-1zM153.6 213.2h1v1h-1zM169.6 212.2h1v1h-1zM163.7 213.6h1v1h-1zM154.9 216.0h1v1h-1zM150.0 215.3h1v1h-1zM153.2 210.2h1v1h-1zM155.3 216.9h1v1h-1zM157.8 217.3h1v1h-1zM143.2 210.6h1v1h-1zM149.1 209.6h1v1h-1zM149.1 216.0h1v1h-1zM149.8 213.5h1v1h-1zM146.7 211.7h1v1h-1zM136.0 213.8h1v1h-1zM150.6 219.8h1v1h-1zM152.3 218.6h1v1h-1zM170.0 212.4h1v1h-1zM135.1 213.8h1v1h-1zM149.9 215.7h1v1h-1zM140.2 213.7h1v1h-1zM156.9 215.3h1v1h-1zM157.9 213.8h1v1h-1zM145.8 216.5h1v1h-1zM146.5 212.0h1v1h-1zM147.7 210.3h1v1h-1zM146.2 210.0h1v1h-1zM155.3 210.6h1v1h-1zM155.3 211.1h1v1h-1zM153.9 214.4h1v1h-1zM138.8 213.6h1v1h-1zM142.7 214.5h1v1h-1zM157.7 216.5h1v1h-1zM168.1 211.7h1v1h-1zM153.5 208.9h1v1h-1zM144.5 216.3h1v1h-1zM158.2 210.1h1v1h-1zM145.5 219.1h1v1h-1zM168.4 212.2h1v1h-1zM148.7 215.3h1v1h-1zM151.1 212.8h1v1h-1zM153.1 210.5h1v1h-1zM156.9 213.9h1v1h-1zM157.2 211.8h1v1h-1zM161.2 218.5h1v1h-1zM154.6 214.8h1v1h-1zM161.3 209.6h1v1h-1zM160.2 218.6h1v1h-1zM147.2 213.9h1v1h-1zM135.7 215.1h1v1h-1zM156.6 217.0h1v1h-1zM144.8 211.5h1v1h-1zM152.5 219.9h1v1h-1zM168.4 213.1h1v1h-1zM154.7 217.2h1v1h-1zM146.4 216.5h1v1h-1zM156.4 212.6h1v1h-1zM166.1 209.2h1v1h-1zM152.9 209.3h1v1h-1zM152.1 212.5h1v1h-1zM164.7 217.5h1v1h-1zM154.5 215.0h1v1h-1zM152.9 215.4h1v1h-1zM151.2 213.6h1v1h-1zM164.0 211.2h1v1h-1zM142.7 211.6h1v1h-1zM155.7 213.6h1v1h-1zM145.9 216.8h1v1h-1zM160.8 213.9h1v1h-1zM139.7 211.6h1v1h-1zM147.2 212.1h1v1h-1zM164.1 218.1h1v1h-1zM148.5 211.9h1v1h-1zM157.0 215.3h1v1h-1zM149.5 213.6h1v1h-1zM152.6 217.4h1v1h-1zM150.9 213.7h1v1h-1zM153.1 210.6h1v1h-1zM145.2 219.5h1v1h-1zM152.8 214.1h1v1h-1z" fill="#111" fill-opacity="0.92"/>
<path d="M143.5 181.0h1v1h-1zM157.0 196.4h1v1h-1zM142.4 170.7h1v1h-1zM151.5 201.4h1v1h-1zM160.6 190.1h1v1h-1zM141.3 189.9h1v1h-1zM154.2 204.9h1v1h-1zM159.3 182.8h1v1h-1zM166.0 177.5h1v1h-1zM156.1 191.2h1v1h-1zM142.3 205.4h1v1h-1zM160.2 187.3h1v1h-1zM164.7 198.7h1v1h-1zM146.8 181.9h1v1h-1zM165.8 176.1h1v1h-1zM134.3 211.9h1v1h-1zM148.3 207.9h1v1h-1zM156.9 204.3h1v1h-1zM133.9 203.3h1v1h-1zM131.2 184.5h1v1h-1zM163.7 197.5h1v1h-1zM139.4 205.9h1v1h-1zM142.2 201.0h1v1h-1zM168.7 184.7h1v1h-1zM127.6 192.8h1v1h-1zM112.9 193.9h1v1h-1zM115.4 190.3h1v1h-1zM134.9 190.6h1v1h-1zM148.9 190.9h1v1h-1zM160.2 192.3h1v1h-1zM170.0 185.0h1v1h-1zM147.8 182.0h1v1h-1zM145.1 179.9h1v1h-1zM140.4 202.0h1v1h-1zM169.1 193.1h1v1h-1zM139.9 192.7h1v1h-1zM165.6 199.4h1v1h-1zM173.0 195.5h1v1h-1zM161.5 183.0h1v1h-1zM149.0 188.7h1v1h-1zM154.2 202.0h1v1h-1zM147.8 193.9h1v1h-1zM150.8 189.6h1v1h-1zM161.6 196.5h1v1h-1zM153.9 187.9h1v1h-1zM115.2 187.5h1v1h-1zM148.7 183.1h1v1h-1zM141.3 187.7h1v1h-1zM155.4 180.0h1v1h-1zM146.1 209.9h1v1h-1zM179.6 184.8h1v1h-1zM144.2 208.6h1v1h-1zM121.9 196.7h1v1h-1zM155.8 183.5h1v1h-1zM134.2 181.9h1v1h-1zM151.7 201.2h1v1h-1zM185.8 181.7h1v1h-1zM161.2 187.9h1v1h-1zM173.6 175.0h1v1h-1zM153.3 195.7h1v1h-1zM130.1 197.3h1v1h-1zM138.7 181.8h1v1h-1zM183.1 180.0h1v1h-1zM153.3 195.1h1v1h-1zM138.6 187.5h1v1h-1zM169.8 196.2h1v1h-1zM156.9 189.9h1v1h-1zM156.8 187.4h1v1h-1zM178.2 177.4h1v1h-1zM147.5 196.5h1v1h-1zM155.6 194.0h1v1h-1zM142.8 188.5h1v1h-1zM144.2 202.0h1v1h-1zM159.6 176.7h1v1h-1zM155.8 195.6h1v1h-1zM128.2 205.3h1v1h-1zM184.6 182.0h1v1h-1zM139.9 202.2h1v1h-1zM142.4 188.8h1v1h-1zM144.5 186.4h1v1h-1zM160.1 201.0h1v1h-1zM148.6 190.0h1v1h-1zM155.0 176.5h1v1h-1zM142.2 186.1h1v1h-1zM166.9 192.9h1v1h-1zM165.3 201.5h1v1h-1zM157.0 184.0h1v1h-1zM173.7 191.8h1v1h-1zM141.5 179.0h1v1h-1zM155.4 182.6h1v1h-1zM123.4 203.1h1v1h-1zM140.6 192.4h1v1h-1zM149.3 179.2h1v1h-1zM131.7 184.7h1v1h-1zM137.2 199.6h1v1h-1zM142.2 197.3h1v1h-1zM144.1 177.8h1v1h-1zM146.6 204.7h1v1h-1zM145.8 192.6h1v1h-1zM154.3 187.5h1v1h-1zM153.9 197.2h1v1h-1zM164.9 184.8h1v1h-1zM169.6 187.1h1v1h-1zM127.3 192.2h1v1h-1zM142.7 191.1h1v1h-1zM159.4 199.8h1v1h-1zM150.5 196.4h1v1h-1zM126.9 212.0h1v1h-1zM160.8 202.9h1v1h-1zM172.9 198.2h1v1h-1zM134.5 175.1h1v1h-1zM142.8 185.9h1v1h-1zM152.2 182.1h1v1h-1zM164.8 191.0h1v1h-1zM157.2 206.7h1v1h-1zM184.2 184.8h1v1h-1zM135.7 194.7h1v1h-1zM142.0 211.2h1v1h-1zM130.7 202.4h1v1h-1zM137.1 192.7h1v1h-1zM148.6 180.6h1v1h-1zM156.9 192.9h1v1h-1zM148.8 186.5h1v1h-1zM121.3 202.5h1v1h-1zM147.8 185.6h1v1h-1zM141.7 199.4h1v1h-1zM147.1 199.2h1v1h-1zM126.1 196.3h1v1h-1zM146.7 187.9h1v1h-1zM168.7 181.9h1v1h-1zM172.0 189.1h1v1h-1zM151.7 194.9h1v1h-1zM139.8 196.9h1v1h-1zM151.1 192.0h1v1h-1zM152.7 190.7h1v1h-1zM135.3 196.5h1v1h-1zM157.9 187.7h1v1h-1zM159.0 183.7h1v1h-1zM154.0 186.3h1v1h-1zM141.3 183.5h1v1h-1zM165.5 195.0h1v1h-1zM184.8 181.4h1v1h-1zM147.3 187.8h1v1h-1zM164.9 193.3h1v1h-1zM137.3 197.3h1v1h-1zM135.7 178.9h1v1h-1zM147.1 190.2h1v1h-1zM165.4 192.6h1v1h-1zM136.2 183.6h1v1h-1zM135.3 175.3h1v1h-1zM170.7 181.2h1v1h-1zM151.6 192.1h1v1h-1zM148.4 197.3h1v1h-1zM161.3 193.4h1v1h-1zM155.6 204.8h1v1h-1zM129.5 183.4h1v1h-1zM137.8 191.8h1v1h-1zM139.9 206.1h1v1h-1zM122.7 209.5h1v1h-1zM140.5 205.8h1v1h-1zM147.8 184.5h1v1h-1zM133.1 184.7h1v1h-1zM151.4 193.9h1v1h-1zM119.3 208.2h1v1h-1zM160.5 196.6h1v1h-1zM165.3 187.9h1v1h-1zM159.9 196.0h1v1h-1zM127.1 180.6h1v1h-1zM131.8 196.0h1v1h-1zM170.7 207.1h1v1h-1zM167.6 190.6h1v1h-1zM130.8 198.1h1v1h-1zM164.2 188.8h1v1h-1zM142.0 188.1h1v1h-1zM156.3 193.6h1v1h-1zM156.0 188.8h1v1h-1zM125.8 209.2h1v1h-1zM172.8 205.2h1v1h-1zM145.4 189.7h1v1h-1zM177.9 183.3h1v1h-1zM181.9 196.8h1v1h-1zM122.0 184.2h1v1h-1zM118.9 183.1h1v1h-1zM149.4 197.5h1v1h-1zM145.7 154.6h1v1h-1zM171.6 186.1h1v1h-1zM146.7 212.5h1v1h-1zM185.4 190.9h1v1h-1zM140.9 175.6h1v1h-1zM162.3 188.7h1v1h-1zM137.7 188.1h1v1h-1zM137.2 204.1h1v1h-1zM163.1 178.7h1v1h-1zM161.4 192.2h1v1h-1zM151.4 210.0h1v1h-1zM141.1 181.9h1v1h-1zM146.6 195.0h1v1h-1zM152.6 201.3h1v1h-1zM131.2 204.9h1v1h-1zM135.6 196.1h1v1h-1zM149.7 190.5h1v1h-1zM170.8 179.0h1v1h-1zM170.5 187.6h1v1h-1zM143.1 173.5h1v1h-1zM155.0 189.4h1v1h-1zM159.4 184.0h1v1h-1zM172.3 193.4h1v1h-1zM144.4 182.8h1v1h-1zM167.0 187.3h1v1h-1zM154.7 183.4h1v1h-1zM184.0 191.4h1v1h-1zM143.9 183.7h1v1h-1zM151.7 190.8h1v1h-1zM152.5 193.1h1v1h-1zM172.6 181.5h1v1h-1zM145.4 197.1h1v1h-1zM170.3 191.9h1v1h-1zM166.9 193.8h1v1h-1zM147.2 177.9h1v1h-1zM156.3 184.8h1v1h-1zM136.9 167.2h1v1h-1zM185.8 185.0h1v1h-1zM155.7 182.1h1v1h-1zM149.7 191.1h1v1h-1zM138.0 200.3h1v1h-1zM146.0 194.2h1v1h-1zM132.1 193.9h1v1h-1zM146.0 197.1h1v1h-1zM155.9 182.8h1v1h-1zM173.7 202.6h1v1h-1zM168.3 196.7h1v1h-1zM131.1 206.2h1v1h-1zM152.4 183.8h1v1h-1zM146.0 187.1h1v1h-1zM144.8 170.1h1v1h-1zM168.8 192.5h1v1h-1zM128.2 180.9h1v1h-1zM172.9 196.7h1v1h-1zM151.7 187.4h1v1h-1zM159.3 195.6h1v1h-1zM134.9 196.9h1v1h-1zM162.9 199.9h1v1h-1zM134.7 187.4h1v1h-1zM153.7 181.0h1v1h-1zM143.1 188.7h1v1h-1zM167.8 184.0h1v1h-1zM135.6 194.9h1v1h-1zM158.8 185.1h1v1h-1zM163.9 203.8h1v1h-1zM149.9 196.1h1v1h-1zM183.1 190.1h1v1h-1zM145.0 187.6h1v1h-1zM178.4 194.8h1v1h-1zM152.1 184.1h1v1h-1zM144.7 207.8h1v1h-1zM128.4 204.9h1v1h-1zM147.3 189.5h1v1h-1zM136.0 188.6h1v1h-1zM156.9 194.5h1v1h-1zM136.6 201.6h1v1h-1zM120.5 187.5h1v1h-1zM175.9 192.7h1v1h-1zM155.2 188.8h1v1h-1zM141.0 208.0h1v1h-1zM160.9 200.7h1v1h-1zM149.3 200.8h1v1h-1zM168.6 189.8h1v1h-1zM168.3 201.5h1v1h-1zM151.4 189.6h1v1h-1zM152.1 190.0h1v1h-1zM177.8 192.3h1v1h-1zM154.1 191.4h1v1h-1zM149.0 190.2h1v1h-1zM183.1 200.9h1v1h-1zM162.5 211.3h1v1h-1zM158.4 192.4h1v1h-1zM168.6 179.8h1v1h-1zM150.9 185.7h1v1h-1zM141.8 197.6h1v1h-1zM147.6 197.6h1v1h-1zM148.5 190.9h1v1h-1zM155.6 203.4h1v1h-1zM139.3 183.0h1v1h-1zM129.7 197.1h1v1h-1zM182.4 178.6h1v1h-1zM136.3 180.0h1v1h-1zM150.5 202.6h1v1h-1zM135.6 184.1h1v1h-1zM161.1 191.5h1v1h-1zM162.3 189.5h1v1h-1zM150.1 192.2h1v1h-1zM158.7 198.0h1v1h-1zM153.3 188.9h1v1h-1zM164.5 197.9h1v1h-1zM145.3 195.5h1v1h-1zM168.3 187.9h1v1h-1zM135.9 177.8h1v1h-1zM162.7 192.2h1v1h-1zM140.3 205.0h1v1h-1zM138.2 195.6h1v1h-1zM130.7 187.6h1v1h-1zM113.6 200.3h1v1h-1zM132.9 194.0h1v1h-1zM146.8 188.7h1v1h-1zM156.7 206.8h1v1h-1zM157.6 195.4h1v1h-1zM136.8 194.6h1v1h-1zM167.8 183.2h1v1h-1zM156.5 202.7h1v1h-1zM144.4 178.5h1v1h-1zM163.1 186.3h1v1h-1zM162.2 182.4h1v1h-1zM146.7 193.9h1v1h-1zM165.4 203.2h1v1h-1zM169.4 183.8h1v1h-1zM148.8 178.5h1v1h-1zM148.4 203.1h1v1h-1zM155.1 208.0h1v1h-1zM167.1 185.5h1v1h-1zM149.2 198.5h1v1h-1zM168.1 188.6h1v1h-1zM181.9 195.7h1v1h-1zM134.3 175.4h1v1h-1zM141.3 176.6h1v1h-1zM141.5 199.5h1v1h-1zM153.0 193.2h1v1h-1zM156.0 197.6h1v1h-1zM144.8 195.0h1v1h-1zM149.2 194.5h1v1h-1zM160.3 192.4h1v1h-1zM150.0 186.3h1v1h-1zM153.5 177.8h1v1h-1zM154.8 195.5h1v1h-1zM154.1 187.4h1v1h-1zM169.3 184.9h1v1h-1zM170.5 190.8h1v1h-1zM125.1 201.8h1v1h-1zM142.5 208.3h1v1h-1zM175.4 186.4h1v1h-1zM148.2 186.0h1v1h-1zM147.9 201.1h1v1h-1zM174.7 183.7h1v1h-1zM150.5 192.2h1v1h-1zM148.0 179.5h1v1h-1zM146.0 184.2h1v1h-1zM145.5 197.3h1v1h-1zM151.4 186.2h1v1h-1zM167.3 208.8h1v1h-1zM123.7 188.3h1v1h-1zM163.3 191.2h1v1h-1zM156.3 193.6h1v1h-1zM168.2 203.4h1v1h-1zM149.8 183.5h1v1h-1zM167.7 198.8h1v1h-1zM176.7 177.8h1v1h-1zM118.1 190.4h1v1h-1zM164.8 202.5h1v1h-1zM143.4 190.0h1v1h-1zM141.7 191.1h1v1h-1zM138.9 180.4h1v1h-1zM155.9 193.1h1v1h-1zM129.9 196.0h1v1h-1zM173.8 185.0h1v1h-1zM148.1 188.4h1v1h-1zM153.8 185.8h1v1h-1zM140.9 180.8h1v1h-1zM167.8 189.9h1v1h-1zM137.5 185.7h1v1h-1zM138.4 199.2h1v1h-1zM146.0 189.6h1v1h-1zM151.5 187.1h1v1h-1zM158.0 204.8h1v1h-1zM148.0 192.5h1v1h-1zM156.1 200.3h1v1h-1zM145.0 174.2h1v1h-1zM145.9 192.3h1v1h-1zM158.0 204.4h1v1h-1zM160.3 209.8h1v1h-1zM129.6 178.3h1v1h-1zM147.9 193.0h1v1h-1zM151.4 179.5h1v1h-1zM143.2 202.3h1v1h-1zM154.6 207.3h1v1h-1zM167.8 180.6h1v1h-1zM142.3 177.0h1v1h-1zM137.5 193.5h1v1h-1zM149.5 189.0h1v1h-1zM135.7 187.5h1v1h-1zM161.4 198.9h1v1h-1zM140.3 183.5h1v1h-1zM157.7 187.5h1v1h-1zM166.1 179.5h1v1h-1zM156.6 194.2h1v1h-1zM154.8 187.9h1v1h-1zM163.7 185.6h1v1h-1zM159.5 186.4h1v1h-1zM177.5 189.9h1v1h-1zM159.6 199.2h1v1h-1zM144.8 180.9h1v1h-1zM147.6 182.0h1v1h-1zM132.3 202.2h1v1h-1zM163.2 189.6h1v1h-1zM141.2 201.9h1v1h-1zM151.1 177.6h1v1h-1zM176.7 190.8h1v1h-1zM144.8 190.5h1v1h-1zM138.8 197.6h1v1h-1zM143.9 204.2h1v1h-1zM158.3 185.2h1v1h-1zM136.7 191.9h1v1h-1zM152.1 198.0h1v1h-1zM141.1 193.2h1v1h-1zM145.9 188.3h1v1h-1zM141.5 186.7h1v1h-1zM140.7 198.4h1v1h-1zM132.4 214.4h1v1h-1zM176.6 195.9h1v1h-1zM171.8 200.0h1v1h-1zM150.4 186.3h1v1h-1zM162.0 190.6h1v1h-1zM163.1 191.3h1v1h-1zM147.5 194.5h1v1h-1zM122.4 214.7h1v1h-1zM131.0 183.5h1v1h-1zM166.0 217.7h1v1h-1zM141.1 193.8h1v1h-1zM173.1 212.1h1v1h-1zM140.8 207.4h1v1h-1zM167.5 191.4h1v1h-1zM141.4 198.4h1v1h-1zM161.4 193.5h1v1h-1zM156.2 190.9h1v1h-1zM166.0 213.2h1v1h-1zM135.9 188.2h1v1h-1zM163.7 195.5h1v1h-1zM166.8 186.6h1v1h-1zM140.3 189.4h1v1h-1zM131.6 199.4h1v1h-1zM169.1 181.9h1v1h-1zM133.0 192.0h1v1h-1zM153.9 183.7h1v1h-1zM134.8 192.1h1v1h-1zM151.2 186.5h1v1h-1zM126.3 196.4h1v1h-1zM107.4 197.1h1v1h-1zM157.6 220.6h1v1h-1zM147.7 207.2h1v1h-1zM130.6 206.7h1v1h-1zM121.3 196.8h1v1h-1zM136.2 192.9h1v1h-1zM144.5 221.6h1v1h-1zM155.0 212.7h1v1h-1zM157.0 207.6h1v1h-1zM151.4 200.9h1v1h-1zM155.5 221.5h1v1h-1zM165.1 207.2h1v1h-1zM153.1 209.8h1v1h-1zM150.6 226.8h1v1h-1zM145.8 205.9h1v1h-1zM141.0 220.6h1v1h-1zM157.9 203.3h1v1h-1zM147.2 213.3h1v1h-1zM140.3 211.7h1v1h-1zM164.6 195.2h1v1h-1zM130.4 203.9h1v1h-1zM161.7 215.3h1v1h-1zM137.7 198.9h1v1h-1zM161.4 217.5h1v1h-1zM128.8 203.5h1v1h-1zM133.7 209.2h1v1h-1zM117.8 209.8h1v1h-1zM143.3 212.2h1v1h-1zM106.7 207.0h1v1h-1zM156.2 207.0h1v1h-1zM136.0 199.6h1v1h-1zM175.6 211.4h1v1h-1zM145.3 209.7h1v1h-1zM132.9 222.1h1v1h-1zM141.5 215.2h1v1h-1zM172.8 197.6h1v1h-1zM147.6 200.8h1v1h-1zM129.1 211.9h1v1h-1zM175.7 215.3h1v1h-1zM142.0 204.7h1v1h-1zM183.7 219.1h1v1h-1zM119.6 201.9h1v1h-1zM146.9 219.4h1v1h-1zM168.4 218.2h1v1h-1zM134.4 211.3h1v1h-1zM144.9 216.7h1v1h-1zM172.3 201.9h1v1h-1zM146.5 201.7h1v1h-1zM140.9 220.3h1v1h-1zM144.3 196.5h1v1h-1zM153.6 212.2h1v1h-1zM164.4 210.7h1v1h-1zM119.9 219.6h1v1h-1zM155.6 207.2h1v1h-1zM143.1 211.3h1v1h-1zM138.8 217.0h1v1h-1zM148.4 208.9h1v1h-1zM139.3 205.1h1v1h-1zM138.6 211.2h1v1h-1zM108.9 206.4h1v1h-1zM137.3 211.7h1v1h-1zM139.1 214.3h1v1h-1zM136.1 207.2h1v1h-1zM152.2 212.0h1v1h-1zM135.0 207.2h1v1h-1zM155.7 217.4h1v1h-1zM167.3 209.7h1v1h-1zM154.8 203.6h1v1h-1zM105.4 204.7h1v1h-1zM171.6 220.5h1v1h-1zM125.4 215.5h1v1h-1zM177.1 217.2h1v1h-1zM162.2 220.1h1v1h-1zM168.9 203.3h1v1h-1zM154.7 221.4h1v1h-1zM146.7 210.7h1v1h-1zM146.1 195.8h1v1h-1zM170.5 217.9h1v1h-1zM165.5 229.6h1v1h-1zM124.7 207.3h1v1h-1zM131.9 208.6h1v1h-1zM149.4 210.3h1v1h-1zM101.3 221.5h1v1h-1zM147.9 221.5h1v1h-1zM160.0 199.9h1v1h-1zM118.2 233.5h1v1h-1zM136.0 215.1h1v1h-1zM133.5 202.4h1v1h-1zM136.9 206.1h1v1h-1zM173.4 215.6h1v1h-1zM144.0 214.3h1v1h-1zM138.6 200.3h1v1h-1zM181.8 215.3h1v1h-1zM123.2 199.5h1v1h-1zM158.6 217.4h1v1h-1zM134.9 206.2h1v1h-1zM149.5 198.8h1v1h-1zM147.3 208.1h1v1h-1zM106.7 213.4h1v1h-1zM150.7 209.6h1v1h-1zM160.3 213.3h1v1h-1zM121.9 222.5h1v1h-1zM120.1 200.5h1v1h-1zM142.3 212.7h1v1h-1zM150.2 206.3h1v1h-1zM142.0 208.7h1v1h-1zM168.2 213.1h1v1h-1zM120.3 220.0h1v1h-1zM121.5 215.3h1v1h-1zM134.8 201.7h1v1h-1zM156.9 217.6h1v1h-1zM129.4 203.8h1v1h-1zM176.9 228.0h1v1h-1zM170.0 206.5h1v1h-1zM183.3 216.0h1v1h-1zM152.0 225.2h1v1h-1zM152.3 223.7h1v1h-1zM148.6 220.9h1v1h-1zM149.0 225.7h1v1h-1zM138.6 226.2h1v1h-1zM182.0 206.5h1v1h-1zM164.7 208.4h1v1h-1zM151.4 190.6h1v1h-1zM130.9 218.9h1v1h-1zM175.0 211.8h1v1h-1zM144.9 206.3h1v1h-1zM122.9 222.9h1v1h-1zM168.3 201.0h1v1h-1zM178.1 221.5h1v1h-1zM148.2 214.9h1v1h-1zM176.4 209.4h1v1h-1zM158.9 215.4h1v1h-1zM132.5 226.1h1v1h-1zM145.2 204.7h1v1h-1zM163.3 218.0h1v1h-1zM161.4 203.5h1v1h-1zM104.9 203.1h1v1h-1zM179.9 207.5h1v1h-1zM139.1 214.5h1v1h-1zM121.7 225.8h1v1h-1zM137.4 209.1h1v1h-1zM143.1 218.0h1v1h-1zM162.0 224.8h1v1h-1zM149.8 208.7h1v1h-1zM172.5 213.5h1v1h-1zM152.3 215.8h1v1h-1zM157.6 210.7h1v1h-1zM157.5 201.3h1v1h-1zM145.9 222.0h1v1h-1zM144.8 219.1h1v1h-1zM152.1 214.7h1v1h-1zM162.3 204.7h1v1h-1zM128.4 227.1h1v1h-1zM151.0 195.0h1v1h-1zM163.6 212.0h1v1h-1zM169.2 217.9h1v1h-1zM157.8 222.0h1v1h-1zM143.1 198.0h1v1h-1zM155.6 208.3h1v1h-1zM163.8 217.3h1v1h-1zM141.2 218.8h1v1h-1zM154.1 218.8h1v1h-1zM136.0 209.2h1v1h-1zM136.0 206.6h1v1h-1zM141.9 220.0h1v1h-1zM133.5 214.7h1v1h-1zM150.8 215.1h1v1h-1zM145.6 213.7h1v1h-1zM126.9 216.7h1v1h-1zM147.7 204.8h1v1h-1zM148.8 215.5h1v1h-1zM160.6 213.7h1v1h-1zM141.3 204.2h1v1h-1zM154.6 203.8h1v1h-1zM153.7 210.7h1v1h-1zM164.3 208.9h1v1h-1zM171.5 215.7h1v1h-1zM142.3 217.0h1v1h-1zM149.0 210.8h1v1h-1zM128.0 207.2h1v1h-1zM152.4 209.7h1v1h-1zM149.5 215.0h1v1h-1zM162.2 217.1h1v1h-1zM121.0 211.4h1v1h-1zM169.4 217.2h1v1h-1zM176.7 206.2h1v1h-1zM179.9 210.4h1v1h-1zM166.5 220.9h1v1h-1zM149.2 204.4h1v1h-1zM169.2 210.1h1v1h-1zM146.1 205.5h1v1h-1zM127.8 224.2h1v1h-1zM111.9 198.0h1v1h-1zM158.1 217.1h1v1h-1zM138.0 205.5h1v1h-1zM155.4 203.3h1v1h-1zM156.8 204.7h1v1h-1zM177.2 210.3h1v1h-1zM178.4 218.1h1v1h-1zM169.1 210.4h1v1h-1zM184.4 212.4h1v1h-1zM161.9 205.3h1v1h-1zM124.8 224.9h1v1h-1zM115.4 216.1h1v1h-1zM148.3 222.6h1v1h-1zM154.8 209.4h1v1h-1zM156.5 205.7h1v1h-1zM160.2 216.7h1v1h-1zM171.9 210.2h1v1h-1zM123.1 202.9h1v1h-1zM130.2 215.1h1v1h-1zM111.5 221.0h1v1h-1zM172.5 208.0h1v1h-1zM162.9 201.1h1v1h-1zM122.3 234.8h1v1h-1zM165.1 220.7h1v1h-1zM152.3 194.8h1v1h-1zM127.0 178.1h1v1h-1zM130.9 176.1h1v1h-1zM125.0 195.8h1v1h-1zM123.2 192.7h1v1h-1zM119.5 192.3h1v1h-1zM138.1 187.8h1v1h-1zM122.9 184.9h1v1h-1zM121.7 184.6h1v1h-1zM135.7 190.4h1v1h-1zM115.1 209.4h1v1h-1zM132.6 215.8h1v1h-1zM118.5 198.2h1v1h-1zM112.2 202.3h1v1h-1zM112.7 202.9h1v1h-1zM121.9 207.5h1v1h-1zM134.2 222.2h1v1h-1zM103.2 219.2h1v1h-1zM119.7 227.3h1v1h-1zM131.0 226.8h1v1h-1zM142.6 197.3h1v1h-1zM124.3 209.3h1v1h-1zM119.9 183.6h1v1h-1zM126.5 179.1h1v1h-1zM138.4 206.5h1v1h-1zM132.5 199.8h1v1h-1zM120.4 197.8h1v1h-1zM146.2 209.4h1v1h-1zM126.4 211.2h1v1h-1zM126.3 186.9h1v1h-1zM123.2 228.0h1v1h-1zM122.1 210.1h1v1h-1zM126.8 187.6h1v1h-1zM143.1 204.9h1v1h-1zM129.3 220.0h1v1h-1zM132.3 210.2h1v1h-1zM138.7 195.7h1v1h-1zM130.2 219.1h1v1h-1zM131.6 212.8h1v1h-1zM125.7 180.2h1v1h-1zM118.7 199.8h1v1h-1zM135.3 181.0h1v1h-1zM133.0 224.4h1v1h-1zM123.8 202.6h1v1h-1zM138.3 204.8h1v1h-1zM131.3 181.7h1v1h-1zM139.7 213.6h1v1h-1zM131.2 186.3h1v1h-1zM130.8 186.3h1v1h-1zM124.9 181.0h1v1h-1zM133.8 213.2h1v1h-1zM147.6 184.4h1v1h-1zM134.9 221.8h1v1h-1zM130.4 209.6h1v1h-1zM129.8 224.0h1v1h-1zM119.1 218.3h1v1h-1zM114.1 194.2h1v1h-1zM130.2 197.6h1v1h-1zM138.3 204.9h1v1h-1zM118.5 199.3h1v1h-1zM121.8 219.0h1v1h-1zM119.6 227.9h1v1h-1zM118.7 215.8h1v1h-1zM127.6 224.8h1v1h-1zM126.6 217.1h1v1h-1zM138.6 203.6h1v1h-1zM125.1 227.4h1v1h-1zM128.3 201.2h1v1h-1zM135.2 205.4h1v1h-1zM118.8 188.1h1v1h-1zM126.0 195.4h1v1h-1zM135.6 204.9h1v1h-1zM121.3 201.2h1v1h-1zM132.4 199.4h1v1h-1zM123.4 202.7h1v1h-1zM130.8 188.6h1v1h-1zM147.5 213.3h1v1h-1zM113.7 222.3h1v1h-1zM141.6 222.2h1v1h-1zM118.7 236.0h1v1h-1zM122.1 224.2h1v1h-1zM127.9 197.7h1v1h-1zM120.2 178.1h1v1h-1zM140.5 197.1h1v1h-1zM130.5 199.3h1v1h-1zM143.0 207.6h1v1h-1zM128.1 189.4h1v1h-1zM126.4 206.5h1v1h-1zM125.6 197.9h1v1h-1zM125.5 195.0h1v1h-1zM141.1 226.6h1v1h-1zM134.7 222.0h1v1h-1zM133.5 211.4h1v1h-1zM111.7 212.1h1v1h-1zM135.9 196.3h1v1h-1zM137.4 189.3h1v1h-1zM118.8 197.4h1v1h-1zM128.1 209.6h1v1h-1zM129.0 199.4h1v1h-1zM140.9 204.6h1v1h-1zM129.5 191.3h1v1h-1zM126.7 195.1h1v1h-1zM133.4 222.7h1v1h-1zM141.2 189.0h1v1h-1zM128.3 211.1h1v1h-1zM129.9 212.5h1v1h-1zM118.3 203.9h1v1h-1zM122.3 202.4h1v1h-1zM122.7 233.3h1v1h-1zM126.3 219.6h1v1h-1zM125.7 215.7h1v1h-1zM128.1 195.3h1v1h-1zM129.1 207.4h1v1h-1zM129.9 218.8h1v1h-1zM121.4 219.5h1v1h-1zM122.6 203.8h1v1h-1zM128.4 206.6h1v1h-1zM133.7 227.3h1v1h-1zM115.4 197.5h1v1h-1zM113.7 185.2h1v1h-1z" fill="#333" fill-opacity="0.5"/>
<ellipse cx="115" cy="200.5" rx="9.8" ry="22.5" transform="rotate(4 115 200.5)" fill="none" stroke="#c62b33" stroke-width="2.2"/>
<ellipse cx="151.5" cy="197.7" rx="25.4" ry="9.2" transform="rotate(-5 151.5 197.7)" fill="none" stroke="#7cc758" stroke-width="2.2"/>
<ellipse cx="123" cy="223" rx="9" ry="7" transform="rotate(0 123 223)" fill="none" stroke="#2e39bd" stroke-width="2.2"/>
<ellipse cx="152.7" cy="214" rx="21.9" ry="6.9" transform="rotate(-3 152.7 214)" fill="none" stroke="#111111" stroke-width="2.2"/>
<text transform="translate(106.5,161) scale(1,1.05)" font-size="9.9" font-weight="bold" font-style="normal" fill="#bb2730" text-anchor="start" stroke="#bb2730" stroke-width="0.3" >31.5%</text>
<text transform="translate(159.8,160.6) scale(1,1.05)" font-size="9.9" font-weight="bold" font-style="normal" fill="#64a852" text-anchor="start" stroke="#64a852" stroke-width="0.3" >21.2%</text>
<text transform="translate(104,240.2) scale(1,1.05)" font-size="9.9" font-weight="bold" font-style="normal" fill="#2e39bd" text-anchor="start" stroke="#2e39bd" stroke-width="0.3" >26.3%</text>
<text transform="translate(163,240.2) scale(1,1.05)" font-size="9.9" font-weight="bold" font-style="normal" fill="#111111" text-anchor="start" stroke="#111111" stroke-width="0.3" >8.7%</text>
<text x="0" y="0" transform="translate(77.2,181) rotate(-90)" font-size="7.9" font-weight="bold" font-style="normal" fill="#000" text-anchor="middle">SSC</text>
<text transform="translate(114.5,254.9) scale(1,1.1)" font-size="7.4" font-weight="bold" font-style="normal" fill="#000" text-anchor="start" >FSC</text>
<rect x="206.3" y="26.7" width="68.3" height="73.7" fill="none" stroke="#8c8c8c" stroke-width="0.8"/>
<text x="204.3" y="27.7" font-size="2.8" fill="#777" text-anchor="end" font-weight="normal">100</text>
<path d="M205.1 26.7h1.2" stroke="#999" stroke-width=".5"/>
<text x="204.3" y="42.5" font-size="2.8" fill="#777" text-anchor="end" font-weight="normal">80</text>
<path d="M205.1 41.5h1.2" stroke="#999" stroke-width=".5"/>
<text x="204.3" y="57.2" font-size="2.8" fill="#777" text-anchor="end" font-weight="normal">60</text>
<path d="M205.1 56.2h1.2" stroke="#999" stroke-width=".5"/>
<text x="204.3" y="71.9" font-size="2.8" fill="#777" text-anchor="end" font-weight="normal">40</text>
<path d="M205.1 70.9h1.2" stroke="#999" stroke-width=".5"/>
<text x="204.3" y="86.7" font-size="2.8" fill="#777" text-anchor="end" font-weight="normal">20</text>
<path d="M205.1 85.7h1.2" stroke="#999" stroke-width=".5"/>
<text x="204.3" y="101.4" font-size="2.8" fill="#777" text-anchor="end" font-weight="normal">0</text>
<path d="M205.1 100.4h1.2" stroke="#999" stroke-width=".5"/>
<text x="205.1" y="108.2" font-size="3.3" fill="#777" text-anchor="middle" font-weight="normal">10<tspan font-size="2.4" dy="-1.5">0</tspan></text>
<path d="M206.3 100.4v1.5" stroke="#999" stroke-width=".5"/>
<text x="222.0" y="108.2" font-size="3.3" fill="#777" text-anchor="middle" font-weight="normal">10<tspan font-size="2.4" dy="-1.5">1</tspan></text>
<path d="M223.2 100.4v1.5" stroke="#999" stroke-width=".5"/>
<text x="238.9" y="108.2" font-size="3.3" fill="#777" text-anchor="middle" font-weight="normal">10<tspan font-size="2.4" dy="-1.5">2</tspan></text>
<path d="M240.1 100.4v1.5" stroke="#999" stroke-width=".5"/>
<text x="255.7" y="108.2" font-size="3.3" fill="#777" text-anchor="middle" font-weight="normal">10<tspan font-size="2.4" dy="-1.5">3</tspan></text>
<path d="M256.9 100.4v1.5" stroke="#999" stroke-width=".5"/>
<text x="230.5" y="113.8" font-size="3" fill="#888" text-anchor="middle" font-weight="normal">FL1-H: gfp</text>
<text transform="translate(194.3,63.6) rotate(-90)" font-size="2.8" fill="#888" text-anchor="middle" font-weight="normal">% of Max</text>
<path d="M206.73 26.92 L206.73 56.73 L209.23 35.58 L210.77 41.35 L212.69 50.00 L215.38 63.46 L218.46 80.77 L220.77 94.23 L222.69 100.00" fill="none" stroke="#da6268" stroke-width="0.8" stroke-linejoin="round"/>
<path d="M206.35 99.62 L215.00 99.04 L223.65 100.38 L228.46 99.04 L240.00 97.69 L245.77 94.23 L249.62 88.46 L252.50 76.92 L254.42 67.31 L256.35 57.69 L257.31 47.12 L258.46 57.69 L259.62 63.46 L260.77 84.62 L262.12 100.38" fill="none" stroke="#98d888" stroke-width="0.8" stroke-linejoin="round"/>
<path d="M225.6 47.7H274.6M225.6 46.2v3" stroke="#666" stroke-width="0.9" fill="none"/>
<text transform="translate(241,44) scale(1,1.03)" font-size="9.8" font-weight="bold" font-style="normal" fill="#000" text-anchor="start" stroke="#000" stroke-width="0.3" >93%</text>
<rect x="302.5" y="26.8" width="73.8" height="74.0" fill="none" stroke="#8c8c8c" stroke-width="0.8"/>
<text x="300.5" y="27.8" font-size="2.8" fill="#777" text-anchor="end" font-weight="normal">100</text>
<path d="M301.3 26.8h1.2" stroke="#999" stroke-width=".5"/>
<text x="300.5" y="42.6" font-size="2.8" fill="#777" text-anchor="end" font-weight="normal">80</text>
<path d="M301.3 41.6h1.2" stroke="#999" stroke-width=".5"/>
<text x="300.5" y="57.4" font-size="2.8" fill="#777" text-anchor="end" font-weight="normal">60</text>
<path d="M301.3 56.4h1.2" stroke="#999" stroke-width=".5"/>
<text x="300.5" y="72.2" font-size="2.8" fill="#777" text-anchor="end" font-weight="normal">40</text>
<path d="M301.3 71.2h1.2" stroke="#999" stroke-width=".5"/>
<text x="300.5" y="87.0" font-size="2.8" fill="#777" text-anchor="end" font-weight="normal">20</text>
<path d="M301.3 86.0h1.2" stroke="#999" stroke-width=".5"/>
<text x="300.5" y="101.8" font-size="2.8" fill="#777" text-anchor="end" font-weight="normal">0</text>
<path d="M301.3 100.8h1.2" stroke="#999" stroke-width=".5"/>
<text x="301.3" y="108.6" font-size="3.3" fill="#777" text-anchor="middle" font-weight="normal">10<tspan font-size="2.4" dy="-1.5">0</tspan></text>
<path d="M302.5 100.8v1.5" stroke="#999" stroke-width=".5"/>
<text x="319.5" y="108.6" font-size="3.3" fill="#777" text-anchor="middle" font-weight="normal">10<tspan font-size="2.4" dy="-1.5">1</tspan></text>
<path d="M320.7 100.8v1.5" stroke="#999" stroke-width=".5"/>
<text x="337.7" y="108.6" font-size="3.3" fill="#777" text-anchor="middle" font-weight="normal">10<tspan font-size="2.4" dy="-1.5">2</tspan></text>
<path d="M338.9 100.8v1.5" stroke="#999" stroke-width=".5"/>
<text x="355.9" y="108.6" font-size="3.3" fill="#777" text-anchor="middle" font-weight="normal">10<tspan font-size="2.4" dy="-1.5">3</tspan></text>
<path d="M357.1 100.8v1.5" stroke="#999" stroke-width=".5"/>
<text x="329.4" y="114.2" font-size="3" fill="#888" text-anchor="middle" font-weight="normal">FL1-H: gfp</text>
<text transform="translate(290.5,63.8) rotate(-90)" font-size="2.8" fill="#888" text-anchor="middle" font-weight="normal">% of Max</text>
<path d="M302.89 27.03 L302.89 56.13 L305.59 34.30 L307.67 40.54 L310.79 49.90 L313.91 68.61 L317.03 87.32 L320.15 99.38 L321.19 100.83" fill="none" stroke="#da6268" stroke-width="0.8" stroke-linejoin="round"/>
<path d="M302.89 100.83 L302.89 79.00 L304.55 75.88 L307.05 74.43 L309.75 77.96 L312.87 87.32 L317.03 96.67 L321.19 99.79 L327.42 99.79 L331.58 95.63 L335.74 79.00 L338.86 54.05 L340.94 39.50 L343.01 36.38 L345.09 37.42 L346.55 43.66 L349.25 66.53 L352.37 87.32 L355.49 97.71 L358.61 100.83" fill="none" stroke="#98d888" stroke-width="0.8" stroke-linejoin="round"/>
<path d="M323.0 47.8H376.3M323.0 46.3v3" stroke="#666" stroke-width="0.9" fill="none"/>
<text transform="translate(355.5,44) scale(1,1.03)" font-size="9.8" font-weight="bold" font-style="normal" fill="#000" text-anchor="start" stroke="#000" stroke-width="0.3" >71%</text>
<rect x="397.9" y="26.8" width="69.0" height="74.0" fill="none" stroke="#8c8c8c" stroke-width="0.8"/>
<text x="395.9" y="27.8" font-size="2.8" fill="#777" text-anchor="end" font-weight="normal">100</text>
<path d="M396.7 26.8h1.2" stroke="#999" stroke-width=".5"/>
<text x="395.9" y="42.6" font-size="2.8" fill="#777" text-anchor="end" font-weight="normal">80</text>
<path d="M396.7 41.6h1.2" stroke="#999" stroke-width=".5"/>
<text x="395.9" y="57.4" font-size="2.8" fill="#777" text-anchor="end" font-weight="normal">60</text>
<path d="M396.7 56.4h1.2" stroke="#999" stroke-width=".5"/>
<text x="395.9" y="72.2" font-size="2.8" fill="#777" text-anchor="end" font-weight="normal">40</text>
<path d="M396.7 71.2h1.2" stroke="#999" stroke-width=".5"/>
<text x="395.9" y="87.0" font-size="2.8" fill="#777" text-anchor="end" font-weight="normal">20</text>
<path d="M396.7 86.0h1.2" stroke="#999" stroke-width=".5"/>
<text x="395.9" y="101.8" font-size="2.8" fill="#777" text-anchor="end" font-weight="normal">0</text>
<path d="M396.7 100.8h1.2" stroke="#999" stroke-width=".5"/>
<text x="396.7" y="108.6" font-size="3.3" fill="#777" text-anchor="middle" font-weight="normal">10<tspan font-size="2.4" dy="-1.5">0</tspan></text>
<path d="M397.9 100.8v1.5" stroke="#999" stroke-width=".5"/>
<text x="413.7" y="108.6" font-size="3.3" fill="#777" text-anchor="middle" font-weight="normal">10<tspan font-size="2.4" dy="-1.5">1</tspan></text>
<path d="M414.9 100.8v1.5" stroke="#999" stroke-width=".5"/>
<text x="430.8" y="108.6" font-size="3.3" fill="#777" text-anchor="middle" font-weight="normal">10<tspan font-size="2.4" dy="-1.5">2</tspan></text>
<path d="M432.0 100.8v1.5" stroke="#999" stroke-width=".5"/>
<text x="447.8" y="108.6" font-size="3.3" fill="#777" text-anchor="middle" font-weight="normal">10<tspan font-size="2.4" dy="-1.5">3</tspan></text>
<path d="M449.0 100.8v1.5" stroke="#999" stroke-width=".5"/>
<text x="422.4" y="114.2" font-size="3" fill="#888" text-anchor="middle" font-weight="normal">FL1-H: gfp</text>
<text transform="translate(385.9,63.8) rotate(-90)" font-size="2.8" fill="#888" text-anchor="middle" font-weight="normal">% of Max</text>
<path d="M398.32 26.82 L398.32 60.29 L398.73 37.42 L401.43 36.38 L403.51 41.58 L405.59 54.05 L407.67 72.77 L409.75 87.32 L411.83 95.63 L414.53 100.83" fill="none" stroke="#da6268" stroke-width="0.8" stroke-linejoin="round"/>
<path d="M397.90 100.83 L397.90 87.32 L399.36 83.16 L401.43 80.04 L404.14 82.12 L406.63 91.48 L409.75 94.59 L413.91 95.63 L417.03 91.48 L421.19 88.36 L426.38 87.32 L430.54 83.16 L433.66 76.92 L436.78 66.53 L439.90 61.33 L443.64 56.13 L446.13 51.98 L447.80 46.78 L449.25 54.05 L450.71 72.77 L452.37 95.63 L453.41 100.83" fill="none" stroke="#98d888" stroke-width="0.8" stroke-linejoin="round"/>
<path d="M417.0 47.8H467.0M417.0 46.3v3" stroke="#666" stroke-width="0.9" fill="none"/>
<text transform="translate(440,44) scale(1,1.03)" font-size="9.8" font-weight="bold" font-style="normal" fill="#000" text-anchor="start" stroke="#000" stroke-width="0.3" >79%</text>
<path d="M218.1 150.4H274.8V224.6H206.2V150.4" fill="none" stroke="#8c8c8c" stroke-width="0.8"/>
<text x="204.2" y="151.4" font-size="2.8" fill="#777" text-anchor="end" font-weight="normal">100</text>
<path d="M205.0 150.4h1.2" stroke="#999" stroke-width=".5"/>
<text x="204.2" y="166.2" font-size="2.8" fill="#777" text-anchor="end" font-weight="normal">80</text>
<path d="M205.0 165.2h1.2" stroke="#999" stroke-width=".5"/>
<text x="204.2" y="181.1" font-size="2.8" fill="#777" text-anchor="end" font-weight="normal">60</text>
<path d="M205.0 180.1h1.2" stroke="#999" stroke-width=".5"/>
<text x="204.2" y="195.9" font-size="2.8" fill="#777" text-anchor="end" font-weight="normal">40</text>
<path d="M205.0 194.9h1.2" stroke="#999" stroke-width=".5"/>
<text x="204.2" y="210.8" font-size="2.8" fill="#777" text-anchor="end" font-weight="normal">20</text>
<path d="M205.0 209.8h1.2" stroke="#999" stroke-width=".5"/>
<text x="204.2" y="225.6" font-size="2.8" fill="#777" text-anchor="end" font-weight="normal">0</text>
<path d="M205.0 224.6h1.2" stroke="#999" stroke-width=".5"/>
<text x="205.0" y="232.4" font-size="3.3" fill="#777" text-anchor="middle" font-weight="normal">10<tspan font-size="2.4" dy="-1.5">0</tspan></text>
<path d="M206.2 224.6v1.5" stroke="#999" stroke-width=".5"/>
<text x="222.0" y="232.4" font-size="3.3" fill="#777" text-anchor="middle" font-weight="normal">10<tspan font-size="2.4" dy="-1.5">1</tspan></text>
<path d="M223.2 224.6v1.5" stroke="#999" stroke-width=".5"/>
<text x="238.9" y="232.4" font-size="3.3" fill="#777" text-anchor="middle" font-weight="normal">10<tspan font-size="2.4" dy="-1.5">2</tspan></text>
<path d="M240.1 224.6v1.5" stroke="#999" stroke-width=".5"/>
<text x="255.8" y="232.4" font-size="3.3" fill="#777" text-anchor="middle" font-weight="normal">10<tspan font-size="2.4" dy="-1.5">3</tspan></text>
<path d="M257.0 224.6v1.5" stroke="#999" stroke-width=".5"/>
<text x="230.5" y="238.0" font-size="3" fill="#888" text-anchor="middle" font-weight="normal">FL1-H: gfp</text>
<text transform="translate(194.2,187.5) rotate(-90)" font-size="2.8" fill="#888" text-anchor="middle" font-weight="normal">% of Max</text>
<path d="M206.63 224.59 L206.63 150.79 L207.05 186.13 L209.75 160.77 L211.83 171.58 L213.28 177.82 L215.99 196.53 L218.07 210.04 L220.15 221.48 L221.19 224.59" fill="none" stroke="#da6268" stroke-width="0.8" stroke-linejoin="round"/>
<path d="M206.22 224.59 L206.22 221.48 L210.79 220.44 L221.19 220.44 L227.42 218.36 L233.66 213.16 L239.90 210.04 L245.09 204.84 L249.25 200.69 L250.71 192.37 L252.37 171.58 L254.45 160.77 L256.53 165.34 L258.61 192.37 L260.69 217.32 L262.77 224.59" fill="none" stroke="#5f66d4" stroke-width="0.8" stroke-linejoin="round"/>
<path d="M225.3 172.2H274.8M225.3 170.7v3" stroke="#666" stroke-width="0.9" fill="none"/>
<text transform="translate(228.5,168.5) scale(1,1.03)" font-size="9.8" font-weight="bold" font-style="normal" fill="#000" text-anchor="start" stroke="#000" stroke-width="0.3" >91%</text>
<rect x="302.5" y="150.4" width="68.2" height="74.2" fill="none" stroke="#8c8c8c" stroke-width="0.8"/>
<text x="300.5" y="151.4" font-size="2.8" fill="#777" text-anchor="end" font-weight="normal">100</text>
<path d="M301.3 150.4h1.2" stroke="#999" stroke-width=".5"/>
<text x="300.5" y="166.2" font-size="2.8" fill="#777" text-anchor="end" font-weight="normal">80</text>
<path d="M301.3 165.2h1.2" stroke="#999" stroke-width=".5"/>
<text x="300.5" y="181.1" font-size="2.8" fill="#777" text-anchor="end" font-weight="normal">60</text>
<path d="M301.3 180.1h1.2" stroke="#999" stroke-width=".5"/>
<text x="300.5" y="195.9" font-size="2.8" fill="#777" text-anchor="end" font-weight="normal">40</text>
<path d="M301.3 194.9h1.2" stroke="#999" stroke-width=".5"/>
<text x="300.5" y="210.8" font-size="2.8" fill="#777" text-anchor="end" font-weight="normal">20</text>
<path d="M301.3 209.8h1.2" stroke="#999" stroke-width=".5"/>
<text x="300.5" y="225.6" font-size="2.8" fill="#777" text-anchor="end" font-weight="normal">0</text>
<path d="M301.3 224.6h1.2" stroke="#999" stroke-width=".5"/>
<text x="301.3" y="232.4" font-size="3.3" fill="#777" text-anchor="middle" font-weight="normal">10<tspan font-size="2.4" dy="-1.5">0</tspan></text>
<path d="M302.5 224.6v1.5" stroke="#999" stroke-width=".5"/>
<text x="318.1" y="232.4" font-size="3.3" fill="#777" text-anchor="middle" font-weight="normal">10<tspan font-size="2.4" dy="-1.5">1</tspan></text>
<path d="M319.3 224.6v1.5" stroke="#999" stroke-width=".5"/>
<text x="334.9" y="232.4" font-size="3.3" fill="#777" text-anchor="middle" font-weight="normal">10<tspan font-size="2.4" dy="-1.5">2</tspan></text>
<path d="M336.1 224.6v1.5" stroke="#999" stroke-width=".5"/>
<text x="351.8" y="232.4" font-size="3.3" fill="#777" text-anchor="middle" font-weight="normal">10<tspan font-size="2.4" dy="-1.5">3</tspan></text>
<path d="M353.0 224.6v1.5" stroke="#999" stroke-width=".5"/>
<text x="326.6" y="238.0" font-size="3" fill="#888" text-anchor="middle" font-weight="normal">FL1-H: gfp</text>
<text transform="translate(290.5,187.5) rotate(-90)" font-size="2.8" fill="#888" text-anchor="middle" font-weight="normal">% of Max</text>
<path d="M302.89 224.59 L302.89 188.21 L306.22 161.19 L308.71 173.66 L311.83 192.37 L314.95 213.16 L318.07 224.59" fill="none" stroke="#da6268" stroke-width="0.8" stroke-linejoin="round"/>
<path d="M302.89 224.59 L302.89 150.79 L303.51 192.37 L306.22 166.38 L308.30 167.42 L310.79 168.46 L312.87 181.98 L315.99 200.69 L320.15 215.24 L325.34 221.48 L328.46 222.52 L331.58 217.32 L334.70 204.84 L337.82 177.82 L340.94 157.03 L343.01 165.34 L345.09 190.29 L348.21 215.24 L352.37 219.40 L356.53 224.59" fill="none" stroke="#5f66d4" stroke-width="0.8" stroke-linejoin="round"/>
<path d="M322.0 172.2H370.7M322.0 170.7v3" stroke="#666" stroke-width="0.9" fill="none"/>
<text transform="translate(350,168.5) scale(1,1.03)" font-size="9.8" font-weight="bold" font-style="normal" fill="#000" text-anchor="start" stroke="#000" stroke-width="0.3" >44%</text>
<rect x="398.3" y="150.4" width="69.0" height="74.2" fill="none" stroke="#8c8c8c" stroke-width="0.8"/>
<text x="396.3" y="151.4" font-size="2.8" fill="#777" text-anchor="end" font-weight="normal">100</text>
<path d="M397.1 150.4h1.2" stroke="#999" stroke-width=".5"/>
<text x="396.3" y="166.2" font-size="2.8" fill="#777" text-anchor="end" font-weight="normal">80</text>
<path d="M397.1 165.2h1.2" stroke="#999" stroke-width=".5"/>
<text x="396.3" y="181.1" font-size="2.8" fill="#777" text-anchor="end" font-weight="normal">60</text>
<path d="M397.1 180.1h1.2" stroke="#999" stroke-width=".5"/>
<text x="396.3" y="195.9" font-size="2.8" fill="#777" text-anchor="end" font-weight="normal">40</text>
<path d="M397.1 194.9h1.2" stroke="#999" stroke-width=".5"/>
<text x="396.3" y="210.8" font-size="2.8" fill="#777" text-anchor="end" font-weight="normal">20</text>
<path d="M397.1 209.8h1.2" stroke="#999" stroke-width=".5"/>
<text x="396.3" y="225.6" font-size="2.8" fill="#777" text-anchor="end" font-weight="normal">0</text>
<path d="M397.1 224.6h1.2" stroke="#999" stroke-width=".5"/>
<text x="397.1" y="232.4" font-size="3.3" fill="#777" text-anchor="middle" font-weight="normal">10<tspan font-size="2.4" dy="-1.5">0</tspan></text>
<path d="M398.3 224.6v1.5" stroke="#999" stroke-width=".5"/>
<text x="414.2" y="232.4" font-size="3.3" fill="#777" text-anchor="middle" font-weight="normal">10<tspan font-size="2.4" dy="-1.5">1</tspan></text>
<path d="M415.4 224.6v1.5" stroke="#999" stroke-width=".5"/>
<text x="431.2" y="232.4" font-size="3.3" fill="#777" text-anchor="middle" font-weight="normal">10<tspan font-size="2.4" dy="-1.5">2</tspan></text>
<path d="M432.4 224.6v1.5" stroke="#999" stroke-width=".5"/>
<text x="448.2" y="232.4" font-size="3.3" fill="#777" text-anchor="middle" font-weight="normal">10<tspan font-size="2.4" dy="-1.5">3</tspan></text>
<path d="M449.4 224.6v1.5" stroke="#999" stroke-width=".5"/>
<text x="422.8" y="238.0" font-size="3" fill="#888" text-anchor="middle" font-weight="normal">FL1-H: gfp</text>
<text transform="translate(386.3,187.5) rotate(-90)" font-size="2.8" fill="#888" text-anchor="middle" font-weight="normal">% of Max</text>
<path d="M398.73 224.59 L398.73 150.79 L399.36 184.05 L402.06 165.34 L404.55 175.74 L407.67 192.37 L409.75 206.92 L412.87 221.48 L414.95 224.59" fill="none" stroke="#da6268" stroke-width="0.8" stroke-linejoin="round"/>
<path d="M398.32 224.59 L398.32 192.37 L399.36 213.16 L401.43 206.92 L404.55 201.73 L407.67 204.84 L410.79 207.96 L413.91 213.16 L417.03 216.28 L420.15 213.16 L423.26 212.12 L426.38 214.20 L430.54 215.24 L433.66 213.16 L436.78 206.92 L439.90 207.96 L443.01 201.73 L445.09 190.29 L446.55 171.58 L447.80 162.22 L449.25 166.38 L451.33 181.98 L453.41 213.16 L455.49 224.59" fill="none" stroke="#5f66d4" stroke-width="0.8" stroke-linejoin="round"/>
<path d="M418.0 172.2H467.3M418.0 170.7v3" stroke="#666" stroke-width="0.9" fill="none"/>
<text transform="translate(423,168.5) scale(1,1.03)" font-size="9.8" font-weight="bold" font-style="normal" fill="#000" text-anchor="start" stroke="#000" stroke-width="0.3" >70%</text>
<text transform="translate(221.6,19.5) scale(1,1.03)" font-size="11.7" font-weight="bold" font-style="normal" fill="#74bc58" text-anchor="start" >Myeloid</text>
<text transform="translate(308.6,19.5) scale(1,1.03)" font-size="11.7" font-weight="bold" font-style="normal" fill="#2d33a6" text-anchor="start" >Lymphoid</text>
<text transform="translate(405.5,19.5) scale(1,1.03)" font-size="11.7" font-weight="bold" font-style="normal" fill="#000" text-anchor="start" >Precursors</text>
<path d="M200 250.2H321.5M365.4 250.2H480.5" stroke="#000" stroke-width="2.4"/>
<text x="331.8" y="254.1" font-size="12.0" font-weight="bold" font-style="normal" fill="#000" text-anchor="start" stroke="#000" stroke-width="0.25" letter-spacing="-0.2">GFP</text>
<path d="M62 284.4H338.7V451.6" fill="none" stroke="#c4c4c4" stroke-width="0.8"/>
<path d="M62.3 283.9V451.6H338.7" fill="none" stroke="#4a4a4a" stroke-width="0.9"/>
<path d="M60 451.6h2" stroke="#444" stroke-width=".8"/>
<text transform="translate(56.7,454.6) scale(1,1.1)" font-size="7" font-weight="bold" font-style="normal" fill="#000" text-anchor="end" stroke="#000" stroke-width="0.2" >0</text>
<path d="M60 434.9h2" stroke="#444" stroke-width=".8"/>
<text transform="translate(56.7,437.88) scale(1,1.1)" font-size="7" font-weight="bold" font-style="normal" fill="#000" text-anchor="end" stroke="#000" stroke-width="0.2" >0.1</text>
<path d="M60 418.2h2" stroke="#444" stroke-width=".8"/>
<text transform="translate(56.7,421.16) scale(1,1.1)" font-size="7" font-weight="bold" font-style="normal" fill="#000" text-anchor="end" stroke="#000" stroke-width="0.2" >0.2</text>
<path d="M60 401.4h2" stroke="#444" stroke-width=".8"/>
<text transform="translate(56.7,404.44000000000005) scale(1,1.1)" font-size="7" font-weight="bold" font-style="normal" fill="#000" text-anchor="end" stroke="#000" stroke-width="0.2" >0.3</text>
<path d="M60 384.7h2" stroke="#444" stroke-width=".8"/>
<text transform="translate(56.7,387.72) scale(1,1.1)" font-size="7" font-weight="bold" font-style="normal" fill="#000" text-anchor="end" stroke="#000" stroke-width="0.2" >0.4</text>
<path d="M60 368.0h2" stroke="#444" stroke-width=".8"/>
<text transform="translate(56.7,371.0) scale(1,1.1)" font-size="7" font-weight="bold" font-style="normal" fill="#000" text-anchor="end" stroke="#000" stroke-width="0.2" >0.5</text>
<path d="M60 351.3h2" stroke="#444" stroke-width=".8"/>
<text transform="translate(56.7,354.28000000000003) scale(1,1.1)" font-size="7" font-weight="bold" font-style="normal" fill="#000" text-anchor="end" stroke="#000" stroke-width="0.2" >0.6</text>
<path d="M60 334.6h2" stroke="#444" stroke-width=".8"/>
<text transform="translate(56.7,337.56000000000006) scale(1,1.1)" font-size="7" font-weight="bold" font-style="normal" fill="#000" text-anchor="end" stroke="#000" stroke-width="0.2" >0.7</text>
<path d="M60 317.8h2" stroke="#444" stroke-width=".8"/>
<text transform="translate(56.7,320.84000000000003) scale(1,1.1)" font-size="7" font-weight="bold" font-style="normal" fill="#000" text-anchor="end" stroke="#000" stroke-width="0.2" >0.8</text>
<path d="M60 301.1h2" stroke="#444" stroke-width=".8"/>
<text transform="translate(56.7,304.12) scale(1,1.1)" font-size="7" font-weight="bold" font-style="normal" fill="#000" text-anchor="end" stroke="#000" stroke-width="0.2" >0.9</text>
<path d="M60 284.4h2" stroke="#444" stroke-width=".8"/>
<text transform="translate(56.7,287.40000000000003) scale(1,1.1)" font-size="7" font-weight="bold" font-style="normal" fill="#000" text-anchor="end" stroke="#000" stroke-width="0.2" >1</text>
<path d="M62.0 451.6v2" stroke="#444" stroke-width=".8"/>
<text transform="translate(62.0,464.70000000000005) scale(1,1.1)" font-size="7" font-weight="bold" font-style="normal" fill="#000" text-anchor="middle" stroke="#000" stroke-width="0.2" >0</text>
<path d="M92.4 451.6v2" stroke="#444" stroke-width=".8"/>
<text transform="translate(92.4,464.70000000000005) scale(1,1.1)" font-size="7" font-weight="bold" font-style="normal" fill="#000" text-anchor="middle" stroke="#000" stroke-width="0.2" >10</text>
<path d="M122.8 451.6v2" stroke="#444" stroke-width=".8"/>
<text transform="translate(122.8,464.70000000000005) scale(1,1.1)" font-size="7" font-weight="bold" font-style="normal" fill="#000" text-anchor="middle" stroke="#000" stroke-width="0.2" >20</text>
<path d="M153.2 451.6v2" stroke="#444" stroke-width=".8"/>
<text transform="translate(153.2,464.70000000000005) scale(1,1.1)" font-size="7" font-weight="bold" font-style="normal" fill="#000" text-anchor="middle" stroke="#000" stroke-width="0.2" >30</text>
<path d="M183.6 451.6v2" stroke="#444" stroke-width=".8"/>
<text transform="translate(183.6,464.70000000000005) scale(1,1.1)" font-size="7" font-weight="bold" font-style="normal" fill="#000" text-anchor="middle" stroke="#000" stroke-width="0.2" >40</text>
<path d="M214.0 451.6v2" stroke="#444" stroke-width=".8"/>
<text transform="translate(214.0,464.70000000000005) scale(1,1.1)" font-size="7" font-weight="bold" font-style="normal" fill="#000" text-anchor="middle" stroke="#000" stroke-width="0.2" >50</text>
<path d="M244.4 451.6v2" stroke="#444" stroke-width=".8"/>
<text transform="translate(244.39999999999998,464.70000000000005) scale(1,1.1)" font-size="7" font-weight="bold" font-style="normal" fill="#000" text-anchor="middle" stroke="#000" stroke-width="0.2" >60</text>
<path d="M274.8 451.6v2" stroke="#444" stroke-width=".8"/>
<text transform="translate(274.79999999999995,464.70000000000005) scale(1,1.1)" font-size="7" font-weight="bold" font-style="normal" fill="#000" text-anchor="middle" stroke="#000" stroke-width="0.2" >70</text>
<path d="M305.2 451.6v2" stroke="#444" stroke-width=".8"/>
<text transform="translate(305.2,464.70000000000005) scale(1,1.1)" font-size="7" font-weight="bold" font-style="normal" fill="#000" text-anchor="middle" stroke="#000" stroke-width="0.2" >80</text>
<path d="M335.6 451.6v2" stroke="#444" stroke-width=".8"/>
<text transform="translate(335.59999999999997,464.70000000000005) scale(1,1.1)" font-size="7" font-weight="bold" font-style="normal" fill="#000" text-anchor="middle" stroke="#000" stroke-width="0.2" >90</text>
<text transform="translate(160,475.6) scale(1,1.1)" font-size="7.8" font-weight="bold" font-style="normal" fill="#000" text-anchor="start" stroke="#000" stroke-width="0.2" >Days After Transplant</text>
<text x="0" y="0" transform="translate(41,370) rotate(-90)" font-size="8.6" font-weight="bold" font-style="normal" fill="#000" text-anchor="middle">Survival</text>
<path d="M62 284.6H66V287H70V289H75V292.5H89V295.6H93V298.5H97V301H101V304H102V306H114.5V309.4H123V311H125V313.6H143.5V315.5H146V317.4H150V319H153V320.3H156.7V323.2H165.4V324.2H177.9V325.5H183.7V327H184V330H196V331H202V333H202.5V335.7H223V336.7H226V338.5H229V340H232.7V341.5H238.5V343H239.5V345.3H241.3V350H250.8V351.5H251V353H259.4V355H259.6V357.8H278V360H278.2V362.6H296V364.5H308.5V365.5H314V367H315.5V369.5H317V372.2H332.5V374H335.8" fill="none" stroke="#78c44c" stroke-width="1"/>
<path d="M64.9 283.5h2.2v2.2h-2.2zM64.9 285.9h2.2v2.2h-2.2zM68.9 285.9h2.2v2.2h-2.2zM68.9 287.9h2.2v2.2h-2.2zM73.9 287.9h2.2v2.2h-2.2zM73.9 291.4h2.2v2.2h-2.2zM87.9 291.4h2.2v2.2h-2.2zM87.9 294.5h2.2v2.2h-2.2zM91.9 294.5h2.2v2.2h-2.2zM91.9 297.4h2.2v2.2h-2.2zM95.9 297.4h2.2v2.2h-2.2zM95.9 299.9h2.2v2.2h-2.2zM99.9 299.9h2.2v2.2h-2.2zM99.9 302.9h2.2v2.2h-2.2zM100.9 302.9h2.2v2.2h-2.2zM100.9 304.9h2.2v2.2h-2.2zM113.4 304.9h2.2v2.2h-2.2zM113.4 308.3h2.2v2.2h-2.2zM121.9 308.3h2.2v2.2h-2.2zM121.9 309.9h2.2v2.2h-2.2zM123.9 309.9h2.2v2.2h-2.2zM123.9 312.5h2.2v2.2h-2.2zM142.4 312.5h2.2v2.2h-2.2zM142.4 314.4h2.2v2.2h-2.2zM144.9 314.4h2.2v2.2h-2.2zM144.9 316.3h2.2v2.2h-2.2zM148.9 316.3h2.2v2.2h-2.2zM148.9 317.9h2.2v2.2h-2.2zM151.9 317.9h2.2v2.2h-2.2zM151.9 319.2h2.2v2.2h-2.2zM155.6 319.2h2.2v2.2h-2.2zM155.6 322.1h2.2v2.2h-2.2zM164.3 322.1h2.2v2.2h-2.2zM164.3 323.1h2.2v2.2h-2.2zM176.8 323.1h2.2v2.2h-2.2zM176.8 324.4h2.2v2.2h-2.2zM182.6 324.4h2.2v2.2h-2.2zM182.6 325.9h2.2v2.2h-2.2zM182.9 325.9h2.2v2.2h-2.2zM182.9 328.9h2.2v2.2h-2.2zM194.9 328.9h2.2v2.2h-2.2zM194.9 329.9h2.2v2.2h-2.2zM200.9 329.9h2.2v2.2h-2.2zM200.9 331.9h2.2v2.2h-2.2zM201.4 331.9h2.2v2.2h-2.2zM201.4 334.6h2.2v2.2h-2.2zM221.9 334.6h2.2v2.2h-2.2zM221.9 335.6h2.2v2.2h-2.2zM224.9 335.6h2.2v2.2h-2.2zM224.9 337.4h2.2v2.2h-2.2zM227.9 337.4h2.2v2.2h-2.2zM227.9 338.9h2.2v2.2h-2.2zM231.6 338.9h2.2v2.2h-2.2zM231.6 340.4h2.2v2.2h-2.2zM237.4 340.4h2.2v2.2h-2.2zM237.4 341.9h2.2v2.2h-2.2zM238.4 341.9h2.2v2.2h-2.2zM238.4 344.2h2.2v2.2h-2.2zM240.2 344.2h2.2v2.2h-2.2zM240.2 348.9h2.2v2.2h-2.2zM249.7 348.9h2.2v2.2h-2.2zM249.7 350.4h2.2v2.2h-2.2zM249.9 350.4h2.2v2.2h-2.2zM249.9 351.9h2.2v2.2h-2.2zM258.3 351.9h2.2v2.2h-2.2zM258.3 353.9h2.2v2.2h-2.2zM258.5 353.9h2.2v2.2h-2.2zM258.5 356.7h2.2v2.2h-2.2zM276.9 356.7h2.2v2.2h-2.2zM276.9 358.9h2.2v2.2h-2.2zM277.1 358.9h2.2v2.2h-2.2zM277.1 361.5h2.2v2.2h-2.2zM294.9 361.5h2.2v2.2h-2.2zM294.9 363.4h2.2v2.2h-2.2zM307.4 363.4h2.2v2.2h-2.2zM307.4 364.4h2.2v2.2h-2.2zM312.9 364.4h2.2v2.2h-2.2zM312.9 365.9h2.2v2.2h-2.2zM314.4 365.9h2.2v2.2h-2.2zM314.4 368.4h2.2v2.2h-2.2zM315.9 368.4h2.2v2.2h-2.2zM315.9 371.1h2.2v2.2h-2.2zM331.4 371.1h2.2v2.2h-2.2zM331.4 372.9h2.2v2.2h-2.2zM334.7 372.9h2.2v2.2h-2.2z" fill="#78c44c"/>
<path d="M62 284.6H64.5V292.5H68.4V309.4H335.8" fill="none" stroke="#4f78d6" stroke-width="1"/>
<path d="M63.4 283.5h2.2v2.2h-2.2zM63.4 291.4h2.2v2.2h-2.2zM67.3 291.4h2.2v2.2h-2.2zM67.3 308.3h2.2v2.2h-2.2zM334.7 308.3h2.2v2.2h-2.2z" fill="#4f78d6"/>
<path d="M62 284.6H63.8V287H71.3V291.5H80.5V295H85.7V300H92.6V303H95.5V315.8H101.3V320.4H104.7V326.7H107.6V337H117V342.3H120V358.5H135.4V363.8H150V365.8H171.5V368.7H186.5V372H190V376H194V380H198V385H202V390.8H217.3V393.7H223V401.3H256.5V403.3H262.7V409H269V414.8H274.8V417H296.5V433H335.8" fill="none" stroke="#d545e0" stroke-width="1"/>
<path d="M62.7 283.5h2.2v2.2h-2.2zM62.7 285.9h2.2v2.2h-2.2zM70.2 285.9h2.2v2.2h-2.2zM70.2 290.4h2.2v2.2h-2.2zM79.4 290.4h2.2v2.2h-2.2zM79.4 293.9h2.2v2.2h-2.2zM84.6 293.9h2.2v2.2h-2.2zM84.6 298.9h2.2v2.2h-2.2zM91.5 298.9h2.2v2.2h-2.2zM91.5 301.9h2.2v2.2h-2.2zM94.4 301.9h2.2v2.2h-2.2zM94.4 314.7h2.2v2.2h-2.2zM100.2 314.7h2.2v2.2h-2.2zM100.2 319.3h2.2v2.2h-2.2zM103.6 319.3h2.2v2.2h-2.2zM103.6 325.6h2.2v2.2h-2.2zM106.5 325.6h2.2v2.2h-2.2zM106.5 335.9h2.2v2.2h-2.2zM115.9 335.9h2.2v2.2h-2.2zM115.9 341.2h2.2v2.2h-2.2zM118.9 341.2h2.2v2.2h-2.2zM118.9 357.4h2.2v2.2h-2.2zM134.3 357.4h2.2v2.2h-2.2zM134.3 362.7h2.2v2.2h-2.2zM148.9 362.7h2.2v2.2h-2.2zM148.9 364.7h2.2v2.2h-2.2zM170.4 364.7h2.2v2.2h-2.2zM170.4 367.6h2.2v2.2h-2.2zM185.4 367.6h2.2v2.2h-2.2zM185.4 370.9h2.2v2.2h-2.2zM188.9 370.9h2.2v2.2h-2.2zM188.9 374.9h2.2v2.2h-2.2zM192.9 374.9h2.2v2.2h-2.2zM192.9 378.9h2.2v2.2h-2.2zM196.9 378.9h2.2v2.2h-2.2zM196.9 383.9h2.2v2.2h-2.2zM200.9 383.9h2.2v2.2h-2.2zM200.9 389.7h2.2v2.2h-2.2zM216.2 389.7h2.2v2.2h-2.2zM216.2 392.6h2.2v2.2h-2.2zM221.9 392.6h2.2v2.2h-2.2zM221.9 400.2h2.2v2.2h-2.2zM255.4 400.2h2.2v2.2h-2.2zM255.4 402.2h2.2v2.2h-2.2zM261.6 402.2h2.2v2.2h-2.2zM261.6 407.9h2.2v2.2h-2.2zM267.9 407.9h2.2v2.2h-2.2zM267.9 413.7h2.2v2.2h-2.2zM273.7 413.7h2.2v2.2h-2.2zM273.7 415.9h2.2v2.2h-2.2zM295.4 415.9h2.2v2.2h-2.2zM295.4 431.9h2.2v2.2h-2.2zM334.7 431.9h2.2v2.2h-2.2z" fill="#d545e0"/>
<path d="M62 284.6H86.3V287H89.2V292.7H92.4V313.5H95.5V322.7H107.6V354.6H110.8V372.3H138.5V381H156.6V395.8H214.4V401.3H217.5V404.6H250.4V413.5H274.8V439.8H284.4V445.6H299.4V451.3" fill="none" stroke="#7b3a14" stroke-width="1"/>
<path d="M85.2 283.5h2.2v2.2h-2.2zM85.2 285.9h2.2v2.2h-2.2zM88.1 285.9h2.2v2.2h-2.2zM88.1 291.6h2.2v2.2h-2.2zM91.3 291.6h2.2v2.2h-2.2zM91.3 312.4h2.2v2.2h-2.2zM94.4 312.4h2.2v2.2h-2.2zM94.4 321.6h2.2v2.2h-2.2zM106.5 321.6h2.2v2.2h-2.2zM106.5 353.5h2.2v2.2h-2.2zM109.7 353.5h2.2v2.2h-2.2zM109.7 371.2h2.2v2.2h-2.2zM137.4 371.2h2.2v2.2h-2.2zM137.4 379.9h2.2v2.2h-2.2zM155.5 379.9h2.2v2.2h-2.2zM155.5 394.7h2.2v2.2h-2.2zM213.3 394.7h2.2v2.2h-2.2zM213.3 400.2h2.2v2.2h-2.2zM216.4 400.2h2.2v2.2h-2.2zM216.4 403.5h2.2v2.2h-2.2zM249.3 403.5h2.2v2.2h-2.2zM249.3 412.4h2.2v2.2h-2.2zM273.7 412.4h2.2v2.2h-2.2zM273.7 438.7h2.2v2.2h-2.2zM283.3 438.7h2.2v2.2h-2.2zM283.3 444.5h2.2v2.2h-2.2zM298.3 444.5h2.2v2.2h-2.2zM298.3 450.2h2.2v2.2h-2.2z" fill="#7b3a14"/>
<path d="M62 284.6H83.4V292.5H111V300.8H120V324.2H132.3V355.4H141.2V363.8H162.4V372H171.5V379.6H180.8V387.9H226.5V427.7H257V452" fill="none" stroke="#f0a832" stroke-width="1"/>
<path d="M82.3 283.5h2.2v2.2h-2.2zM82.3 291.4h2.2v2.2h-2.2zM109.9 291.4h2.2v2.2h-2.2zM109.9 299.7h2.2v2.2h-2.2zM118.9 299.7h2.2v2.2h-2.2zM118.9 323.1h2.2v2.2h-2.2zM131.2 323.1h2.2v2.2h-2.2zM131.2 354.3h2.2v2.2h-2.2zM140.1 354.3h2.2v2.2h-2.2zM140.1 362.7h2.2v2.2h-2.2zM161.3 362.7h2.2v2.2h-2.2zM161.3 370.9h2.2v2.2h-2.2zM170.4 370.9h2.2v2.2h-2.2zM170.4 378.5h2.2v2.2h-2.2zM179.7 378.5h2.2v2.2h-2.2zM179.7 386.8h2.2v2.2h-2.2zM225.4 386.8h2.2v2.2h-2.2zM225.4 426.6h2.2v2.2h-2.2zM255.9 426.6h2.2v2.2h-2.2zM255.9 450.9h2.2v2.2h-2.2z" fill="#f0a832"/>
<rect x="70.2" y="399.4" width="50.6" height="47.2" fill="#fff" stroke="#555" stroke-width="0.8"/>
<path d="M74.2 404.6H82.9" stroke="#4f78d6" stroke-width="1"/><rect x="77.5" y="403.6" width="2" height="2" fill="#4f78d6"/>
<text transform="translate(84,406.6) scale(1,1.1)" font-size="5.6" font-weight="bold" font-style="normal" fill="#000" text-anchor="start" stroke="#000" stroke-width="0.25" >20Gy, <tspan font-style="italic">n</tspan>=20</text>
<path d="M74.2 414.0H82.9" stroke="#78c44c" stroke-width="1"/><rect x="77.5" y="413.0" width="2" height="2" fill="#78c44c"/>
<text transform="translate(84,416.03000000000003) scale(1,1.1)" font-size="5.6" font-weight="bold" font-style="normal" fill="#000" text-anchor="start" stroke="#000" stroke-width="0.25" >25Gy, <tspan font-style="italic">n</tspan>=107</text>
<path d="M74.2 423.5H82.9" stroke="#d545e0" stroke-width="1"/><rect x="77.5" y="422.5" width="2" height="2" fill="#d545e0"/>
<text transform="translate(84,425.46000000000004) scale(1,1.1)" font-size="5.6" font-weight="bold" font-style="normal" fill="#000" text-anchor="start" stroke="#000" stroke-width="0.25" >30Gy, <tspan font-style="italic">n</tspan>=63</text>
<path d="M74.2 432.9H82.9" stroke="#7b3a14" stroke-width="1"/><rect x="77.5" y="431.9" width="2" height="2" fill="#7b3a14"/>
<text transform="translate(84,434.89000000000004) scale(1,1.1)" font-size="5.6" font-weight="bold" font-style="normal" fill="#000" text-anchor="start" stroke="#000" stroke-width="0.25" >35Gy, <tspan font-style="italic">n</tspan>=57</text>
<path d="M74.2 442.3H82.9" stroke="#f0a832" stroke-width="1"/><rect x="77.5" y="441.3" width="2" height="2" fill="#f0a832"/>
<text transform="translate(84,444.32000000000005) scale(1,1.1)" font-size="5.6" font-weight="bold" font-style="normal" fill="#000" text-anchor="start" stroke="#000" stroke-width="0.25" >40Gy, <tspan font-style="italic">n</tspan>=21</text>
<path d="M399.2 339.5V453.5H517" fill="none" stroke="#000" stroke-width="1"/>
<path d="M397.0 340.8H399.2" stroke="#000" stroke-width=".9"/>
<text transform="translate(397.4,343.90000000000003) scale(1,1.1)" font-size="8.6" font-weight="bold" font-style="normal" fill="#000" text-anchor="end" letter-spacing="-0.35">100</text>
<path d="M397.0 369.0H399.2" stroke="#000" stroke-width=".9"/>
<text transform="translate(397.4,372.1) scale(1,1.1)" font-size="8.6" font-weight="bold" font-style="normal" fill="#000" text-anchor="end" letter-spacing="-0.35">10</text>
<path d="M397.0 397.2H399.2" stroke="#000" stroke-width=".9"/>
<text transform="translate(397.4,400.3) scale(1,1.1)" font-size="8.6" font-weight="bold" font-style="normal" fill="#000" text-anchor="end" letter-spacing="-0.35">1</text>
<path d="M397.0 425.4H399.2" stroke="#000" stroke-width=".9"/>
<text transform="translate(397.4,428.5) scale(1,1.1)" font-size="8.6" font-weight="bold" font-style="normal" fill="#000" text-anchor="end" letter-spacing="-0.35">0.1</text>
<path d="M397.0 453.5H399.2" stroke="#000" stroke-width=".9"/>
<text transform="translate(397.4,456.6) scale(1,1.1)" font-size="8.6" font-weight="bold" font-style="normal" fill="#000" text-anchor="end" letter-spacing="-0.35">0.01</text>
<path d="M397.9 360.5H399.2M397.9 355.5H399.2M397.9 352.0H399.2M397.9 349.3H399.2M397.9 347.1H399.2M397.9 345.2H399.2M397.9 343.5H399.2M397.9 342.1H399.2M397.9 388.7H399.2M397.9 383.7H399.2M397.9 380.2H399.2M397.9 377.5H399.2M397.9 375.3H399.2M397.9 373.4H399.2M397.9 371.7H399.2M397.9 370.3H399.2M397.9 416.9H399.2M397.9 411.9H399.2M397.9 408.4H399.2M397.9 405.7H399.2M397.9 403.5H399.2M397.9 401.6H399.2M397.9 399.9H399.2M397.9 398.5H399.2M397.9 445.0H399.2M397.9 440.0H399.2M397.9 436.5H399.2M397.9 433.8H399.2M397.9 431.6H399.2M397.9 429.7H399.2M397.9 428.0H399.2M397.9 426.6H399.2" stroke="#000" stroke-width=".5"/>
<path d="M428.2 453.5v2.2M487.2 453.5v2.2" stroke="#000" stroke-width=".9"/>
<text x="0" y="0" transform="translate(369.8,396) rotate(-90)" font-size="7.1" font-weight="bold" font-style="normal" fill="#000" text-anchor="middle">Percent GFP+ cells</text>
<text transform="translate(412.6,467.8) scale(1,1.1)" font-size="8.8" font-weight="bold" font-style="normal" fill="#000" text-anchor="start" >Myeloid</text>
<text transform="translate(472.6,467.8) scale(1,1.1)" font-size="8.8" font-weight="bold" font-style="normal" fill="#000" text-anchor="start" >Lymphoid</text>
<circle cx="428.5" cy="350.4" r="1.7" fill="#000"/>
<circle cx="424" cy="372" r="1.7" fill="#000"/>
<circle cx="428.5" cy="372.5" r="1.7" fill="#000"/>
<circle cx="424" cy="377" r="1.7" fill="#000"/>
<circle cx="428.5" cy="379.2" r="1.7" fill="#000"/>
<circle cx="433.3" cy="378.3" r="1.7" fill="#000"/>
<circle cx="424" cy="387" r="1.7" fill="#000"/>
<circle cx="428.5" cy="387.3" r="1.7" fill="#000"/>
<circle cx="433.3" cy="384.6" r="1.7" fill="#000"/>
<circle cx="424" cy="391.2" r="1.7" fill="#000"/>
<circle cx="428.5" cy="394" r="1.7" fill="#000"/>
<circle cx="433.3" cy="392.3" r="1.7" fill="#000"/>
<rect x="480.79999999999995" y="388.9" width="3.2" height="3.2" fill="#000"/>
<rect x="480.79999999999995" y="394.2" width="3.2" height="3.2" fill="#000"/>
<rect x="485.59999999999997" y="392.59999999999997" width="3.2" height="3.2" fill="#000"/>
<rect x="490.2" y="395.29999999999995" width="3.2" height="3.2" fill="#000"/>
<rect x="485.59999999999997" y="397.59999999999997" width="3.2" height="3.2" fill="#000"/>
<rect x="480.79999999999995" y="401.09999999999997" width="3.2" height="3.2" fill="#000"/>
<rect x="485.59999999999997" y="405.7" width="3.2" height="3.2" fill="#000"/>
<rect x="485.59999999999997" y="413.4" width="3.2" height="3.2" fill="#000"/>
<rect x="480.79999999999995" y="417.9" width="3.2" height="3.2" fill="#000"/>
<rect x="490.2" y="417.2" width="3.2" height="3.2" fill="#000"/>
<rect x="485.59999999999997" y="421.9" width="3.2" height="3.2" fill="#000"/>
<rect x="485.59999999999997" y="427.59999999999997" width="3.2" height="3.2" fill="#000"/>
<path d="M404.6 379.8H453.5M463.5 402.7H512.4" stroke="#d02a2a" stroke-width="1.9"/>
<rect x="47.5" y="519.5" width="72.5" height="87.25" fill="none" stroke="#c8c8c8" stroke-width="0.8"/>
<path d="M47.5 536.50H120" stroke="#777" stroke-width="1.2"/>
<path d="M47.5 554.50H120" stroke="#777" stroke-width="1.2"/>
<path d="M47.5 571.50H120" stroke="#777" stroke-width="1.2"/>
<path d="M47.5 589.50H120" stroke="#777" stroke-width="1.2"/>
<path d="M47.5 519.5V606.75" stroke="#555" stroke-width="0.9"/>
<text x="44.5" y="520.5" font-size="3" fill="#777" text-anchor="end" font-weight="normal">100</text>
<text x="44.5" y="538.0" font-size="3" fill="#777" text-anchor="end" font-weight="normal">80</text>
<text x="44.5" y="555.4" font-size="3" fill="#777" text-anchor="end" font-weight="normal">60</text>
<text x="44.5" y="572.9" font-size="3" fill="#777" text-anchor="end" font-weight="normal">40</text>
<text x="44.5" y="590.3" font-size="3" fill="#777" text-anchor="end" font-weight="normal">20</text>
<text x="44.5" y="607.8" font-size="3" fill="#777" text-anchor="end" font-weight="normal">0</text>
<text x="65.6" y="614.4" font-size="7.2" font-weight="normal" font-style="normal" fill="#000" text-anchor="middle" >myeloid</text>
<text x="100.5" y="614.4" font-size="7.2" font-weight="normal" font-style="normal" fill="#000" text-anchor="middle" >lymphoid</text>
<path d="M65.89999999999999 523.7H67.7V534.3H65.89999999999999zM98.89999999999999 565.3000000000001h1.8v1.8h-1.8zM98.89999999999999 584.2h1.8v1.8h-1.8zM98.89999999999999 588.3000000000001h1.8v1.8h-1.8z" fill="#141c6a"/>
<rect x="133.75" y="518.75" width="100.75" height="87.5" fill="none" stroke="#c8c8c8" stroke-width="0.8"/>
<path d="M133.75 536.50H234.5" stroke="#777" stroke-width="1.2"/>
<path d="M133.75 553.50H234.5" stroke="#777" stroke-width="1.2"/>
<path d="M133.75 571.50H234.5" stroke="#777" stroke-width="1.2"/>
<path d="M133.75 588.50H234.5" stroke="#777" stroke-width="1.2"/>
<path d="M133.75 518.75V606.25" stroke="#555" stroke-width="0.9"/>
<text x="130.75" y="519.8" font-size="3" fill="#777" text-anchor="end" font-weight="normal">100</text>
<text x="130.75" y="537.2" font-size="3" fill="#777" text-anchor="end" font-weight="normal">80</text>
<text x="130.75" y="554.8" font-size="3" fill="#777" text-anchor="end" font-weight="normal">60</text>
<text x="130.75" y="572.2" font-size="3" fill="#777" text-anchor="end" font-weight="normal">40</text>
<text x="130.75" y="589.8" font-size="3" fill="#777" text-anchor="end" font-weight="normal">20</text>
<text x="130.75" y="607.2" font-size="3" fill="#777" text-anchor="end" font-weight="normal">0</text>
<path d="M133.75 601.7H234.5" stroke="#e58c8c" stroke-width="1.8"/>
<text x="156.3" y="614.4" font-size="7.2" font-weight="normal" font-style="normal" fill="#000" text-anchor="middle" >20Gy</text>
<text x="187.5" y="614.4" font-size="7.2" font-weight="normal" font-style="normal" fill="#000" text-anchor="middle" >25Gy</text>
<text x="218.8" y="614.4" font-size="7.2" font-weight="normal" font-style="normal" fill="#000" text-anchor="middle" >30Gy</text>
<path d="M151.7 527.3000000000001h1.8v1.8h-1.8zM151.7 542.6h1.8v1.8h-1.8zM151.6 583.35h1.8v1.8h-1.8zM151.6 596.1h1.8v1.8h-1.8zM151.6 600.5H153.4V604.5H151.6zM182.79999999999998 524.4h1.8v1.8h-1.8zM182.79999999999998 528.2H184.6V556.8H182.79999999999998zM182.79999999999998 565.0h1.8v1.8h-1.8zM182.79999999999998 578.2h1.8v1.8h-1.8zM182.79999999999998 601.9H184.6V605.9H182.79999999999998zM214.29999999999998 523.5h1.8v1.8h-1.8zM214.29999999999998 534.3H216.1V538.0H214.29999999999998zM214.29999999999998 538.3H216.1V541.5H214.29999999999998zM214.29999999999998 542.0H216.1V545.9H214.29999999999998z" fill="#141c6a"/>
<rect x="259.5" y="519.5" width="100.0" height="87.25" fill="none" stroke="#c8c8c8" stroke-width="0.8"/>
<path d="M259.5 536.50H359.5" stroke="#777" stroke-width="1.2"/>
<path d="M259.5 554.50H359.5" stroke="#777" stroke-width="1.2"/>
<path d="M259.5 571.50H359.5" stroke="#777" stroke-width="1.2"/>
<path d="M259.5 589.50H359.5" stroke="#777" stroke-width="1.2"/>
<path d="M259.5 519.5V606.75" stroke="#555" stroke-width="0.9"/>
<text x="256.5" y="520.5" font-size="3" fill="#777" text-anchor="end" font-weight="normal">100</text>
<text x="256.5" y="538.0" font-size="3" fill="#777" text-anchor="end" font-weight="normal">80</text>
<text x="256.5" y="555.4" font-size="3" fill="#777" text-anchor="end" font-weight="normal">60</text>
<text x="256.5" y="572.9" font-size="3" fill="#777" text-anchor="end" font-weight="normal">40</text>
<text x="256.5" y="590.3" font-size="3" fill="#777" text-anchor="end" font-weight="normal">20</text>
<text x="256.5" y="607.8" font-size="3" fill="#777" text-anchor="end" font-weight="normal">0</text>
<path d="M259.5 605.2H359.5" stroke="#e58c8c" stroke-width="1.8"/>
<text x="277.5" y="614.4" font-size="7.2" font-weight="normal" font-style="normal" fill="#000" text-anchor="middle" >20Gy</text>
<text x="308.8" y="614.4" font-size="7.2" font-weight="normal" font-style="normal" fill="#000" text-anchor="middle" >25Gy</text>
<text x="338.8" y="614.4" font-size="7.2" font-weight="normal" font-style="normal" fill="#000" text-anchor="middle" >30Gy</text>
<path d="M277.85 563.6h1.8v1.8h-1.8zM277.85 599.5H279.65V601.5H277.85zM277.85 602.0H279.65V606.0H277.85zM309.1 543.25H310.9V545.5H309.1zM309.1 546.0H310.9V548.5H309.1zM309.1 548.5H310.9V551.0H309.1zM309.1 559.85h1.8v1.8h-1.8zM309.1 571.6h1.8v1.8h-1.8zM309.1 578.25H310.9V581.75H309.1zM309.1 584.0H310.9V606.75H309.1zM340.35 564.85h1.8v1.8h-1.8zM340.35 588.25H342.15V591.5H340.35zM340.35 592.1h1.8v1.8h-1.8zM340.35 595.1h1.8v1.8h-1.8zM340.35 599.1h1.8v1.8h-1.8z" fill="#141c6a"/>
<text transform="translate(48.6,505.6) scale(1,1.08)" font-size="9.6" font-weight="normal">Tg(β-<tspan font-style="italic">actin:GFP</tspan>)</text>
<text x="68" y="516.1" font-size="9.4" font-weight="normal" font-style="italic" fill="#000" text-anchor="start" >control</text>
<text transform="translate(201.4,504.6) scale(1,1.14)" font-size="9.55" font-weight="normal" font-style="normal" fill="#000" text-anchor="start" >Transplanted Animals</text>
<path d="M138.75 507.6H356.25" stroke="#777" stroke-width="0.9"/>
<text transform="translate(157,515.8) scale(1,1.1)" font-size="9.5" font-weight="normal" font-style="normal" fill="#000" text-anchor="start" >Myeloid Gate</text>
<text transform="translate(273.8,515.8) scale(1,1.1)" font-size="9.5" font-weight="normal" font-style="normal" fill="#000" text-anchor="start" >Lymphoid Gate</text>
<text x="0" y="0" transform="translate(33.3,563) rotate(-90)" font-size="9.3" font-weight="bold" font-style="normal" fill="#000" text-anchor="middle">Percent GFP+</text>
</svg>
</body></html>
